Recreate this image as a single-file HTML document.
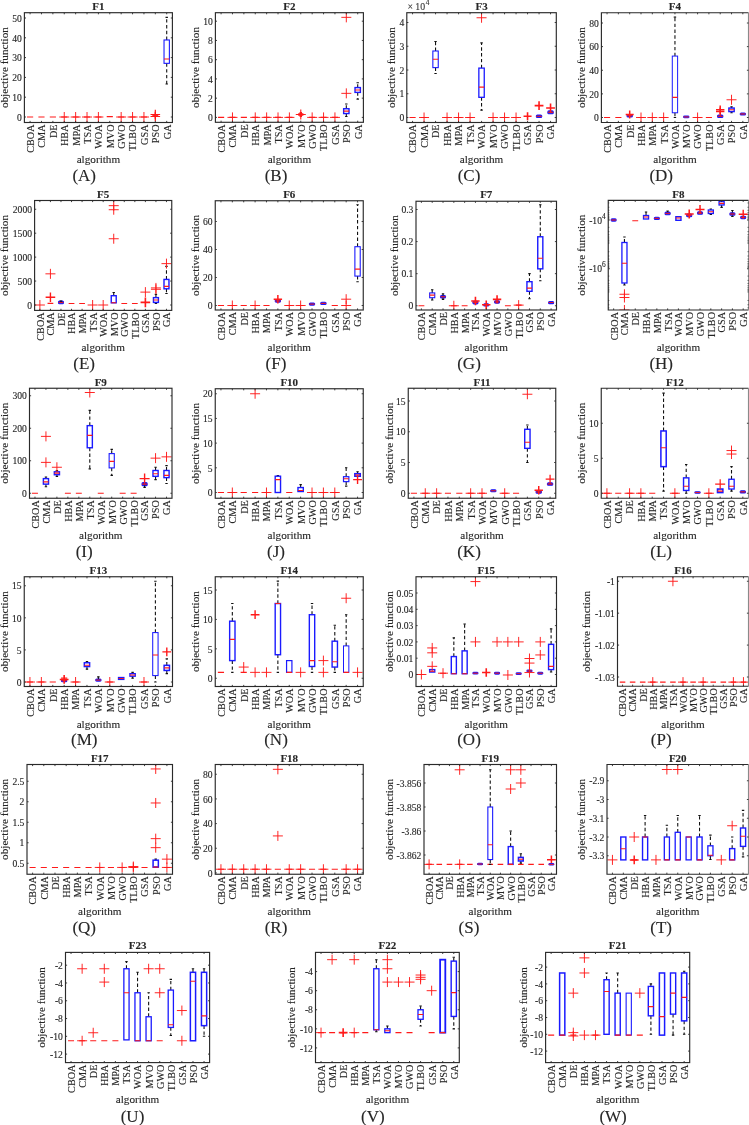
<!DOCTYPE html>
<html><head><meta charset="utf-8"><title>boxplots</title>
<style>
html,body{margin:0;padding:0;background:#fff;}
body{width:749px;height:1125px;overflow:hidden;}
svg{display:block;filter:blur(0.35px);}
text{font-family:"Liberation Serif",serif;fill:#262626;stroke:#262626;stroke-width:0.12px;}
</style></head><body>
<svg width="749" height="1125" viewBox="0 0 749 1125">
<rect width="749" height="1125" fill="#fff"/>
<clipPath id="c1"><rect x="24.4" y="12.7" width="148" height="109.8"/></clipPath>
<g class="dat" clip-path="url(#c1)">
<line x1="27.02" y1="117" x2="33.17" y2="117" stroke="#ff1a1a" stroke-width="1.1"/>
<line x1="38.4" y1="117" x2="44.55" y2="117" stroke="#ff1a1a" stroke-width="1.1"/>
<line x1="49.79" y1="117" x2="55.94" y2="117" stroke="#ff1a1a" stroke-width="1.1"/>
<line x1="61.17" y1="117" x2="67.32" y2="117" stroke="#ff1a1a" stroke-width="1.1"/>
<path d="M59.25 117H69.25M64.25 112V122" stroke="#ff1a1a" stroke-width="0.95" fill="none"/>
<line x1="72.56" y1="117" x2="78.71" y2="117" stroke="#ff1a1a" stroke-width="1.1"/>
<path d="M70.63 117H80.63M75.63 112V122" stroke="#ff1a1a" stroke-width="0.95" fill="none"/>
<line x1="83.94" y1="117" x2="90.09" y2="117" stroke="#ff1a1a" stroke-width="1.1"/>
<path d="M82.02 117H92.02M87.02 112V122" stroke="#ff1a1a" stroke-width="0.95" fill="none"/>
<line x1="95.32" y1="117" x2="101.48" y2="117" stroke="#ff1a1a" stroke-width="1.1"/>
<path d="M93.4 117H103.4M98.4 112V122" stroke="#ff1a1a" stroke-width="0.95" fill="none"/>
<line x1="106.71" y1="116.6" x2="112.86" y2="116.6" stroke="#ff1a1a" stroke-width="1.1"/>
<line x1="118.09" y1="117" x2="124.24" y2="117" stroke="#ff1a1a" stroke-width="1.1"/>
<path d="M116.17 117H126.17M121.17 112V122" stroke="#ff1a1a" stroke-width="0.95" fill="none"/>
<line x1="129.48" y1="117" x2="135.63" y2="117" stroke="#ff1a1a" stroke-width="1.1"/>
<path d="M127.55 117H137.55M132.55 112V122" stroke="#ff1a1a" stroke-width="0.95" fill="none"/>
<line x1="140.86" y1="117" x2="147.01" y2="117" stroke="#ff1a1a" stroke-width="1.1"/>
<path d="M138.94 117H148.94M143.94 112V122" stroke="#ff1a1a" stroke-width="0.95" fill="none"/>
<path d="M150.52 116.5H160.12M155.32 111.7V121.3" stroke="#ff1a1a" stroke-width="1.2" fill="none"/>
<path d="M150.52 114.51H160.12M155.32 109.71V119.31" stroke="#ff1a1a" stroke-width="1.2" fill="none"/>
<path d="M152.32 115.42H158.32M155.32 112.42V118.42" stroke="#ff1a1a" stroke-width="1.0" fill="none"/>
<line x1="166.71" y1="39.98" x2="166.71" y2="17.41" stroke="#111" stroke-width="1.1" stroke-dasharray="3.4 2.4"/>
<line x1="165.51" y1="17.41" x2="167.91" y2="17.41" stroke="#111" stroke-width="1.1"/>
<line x1="166.71" y1="63.34" x2="166.71" y2="83.93" stroke="#111" stroke-width="1.1" stroke-dasharray="3.4 2.4"/>
<line x1="165.51" y1="83.93" x2="167.91" y2="83.93" stroke="#111" stroke-width="1.1"/>
<rect x="164.03" y="39.98" width="5.35" height="23.36" stroke="#1a1aff" stroke-width="1.1" fill="none"/>
<line x1="164.03" y1="58.99" x2="169.38" y2="58.99" stroke="#ff1a1a" stroke-width="1.1"/>
</g>
<rect class="ax" x="24.4" y="12.7" width="148" height="109.8" fill="none" stroke="#2a2a2a" stroke-width="1.15"/>
<path class="ax" d="M30.09 122.5v-1.6M30.09 12.7v1.6M41.48 122.5v-1.6M41.48 12.7v1.6M52.86 122.5v-1.6M52.86 12.7v1.6M64.25 122.5v-1.6M64.25 12.7v1.6M75.63 122.5v-1.6M75.63 12.7v1.6M87.02 122.5v-1.6M87.02 12.7v1.6M98.4 122.5v-1.6M98.4 12.7v1.6M109.78 122.5v-1.6M109.78 12.7v1.6M121.17 122.5v-1.6M121.17 12.7v1.6M132.55 122.5v-1.6M132.55 12.7v1.6M143.94 122.5v-1.6M143.94 12.7v1.6M155.32 122.5v-1.6M155.32 12.7v1.6M166.71 122.5v-1.6M166.71 12.7v1.6M24.4 117h1.6M172.4 117h-1.6M24.4 97.2h1.6M172.4 97.2h-1.6M24.4 77.4h1.6M172.4 77.4h-1.6M24.4 57.6h1.6M172.4 57.6h-1.6M24.4 37.8h1.6M172.4 37.8h-1.6M24.4 18h1.6M172.4 18h-1.6" stroke="#2a2a2a" stroke-width="0.9"/>
<text class="yt" x="21.8" y="120.7" text-anchor="end" font-size="9.6">0</text>
<text class="yt" x="21.8" y="100.9" text-anchor="end" font-size="9.6">10</text>
<text class="yt" x="21.8" y="81.1" text-anchor="end" font-size="9.6">20</text>
<text class="yt" x="21.8" y="61.3" text-anchor="end" font-size="9.6">30</text>
<text class="yt" x="21.8" y="41.5" text-anchor="end" font-size="9.6">40</text>
<text class="yt" x="21.8" y="21.7" text-anchor="end" font-size="9.6">50</text>
<text class="xt" transform="translate(33.96,124.5) rotate(-90)" text-anchor="end" font-size="10.2">CBOA</text>
<text class="xt" transform="translate(45.35,124.5) rotate(-90)" text-anchor="end" font-size="10.2">CMA</text>
<text class="xt" transform="translate(56.73,124.5) rotate(-90)" text-anchor="end" font-size="10.2">DE</text>
<text class="xt" transform="translate(68.12,124.5) rotate(-90)" text-anchor="end" font-size="10.2">HBA</text>
<text class="xt" transform="translate(79.5,124.5) rotate(-90)" text-anchor="end" font-size="10.2">MPA</text>
<text class="xt" transform="translate(90.89,124.5) rotate(-90)" text-anchor="end" font-size="10.2">TSA</text>
<text class="xt" transform="translate(102.27,124.5) rotate(-90)" text-anchor="end" font-size="10.2">WOA</text>
<text class="xt" transform="translate(113.66,124.5) rotate(-90)" text-anchor="end" font-size="10.2">MVO</text>
<text class="xt" transform="translate(125.04,124.5) rotate(-90)" text-anchor="end" font-size="10.2">GWO</text>
<text class="xt" transform="translate(136.43,124.5) rotate(-90)" text-anchor="end" font-size="10.2">TLBO</text>
<text class="xt" transform="translate(147.81,124.5) rotate(-90)" text-anchor="end" font-size="10.2">GSA</text>
<text class="xt" transform="translate(159.2,124.5) rotate(-90)" text-anchor="end" font-size="10.2">PSO</text>
<text class="xt" transform="translate(170.58,124.5) rotate(-90)" text-anchor="end" font-size="10.2">GA</text>
<text class="ti" x="98.4" y="10.1" text-anchor="middle" font-size="11" font-weight="bold" fill="#111">F1</text>
<text class="yl" transform="translate(7.6,67.6) rotate(-90)" text-anchor="middle" font-size="11.4" textLength="81" lengthAdjust="spacingAndGlyphs">objective function</text>
<text class="al" x="98.4" y="163.3" text-anchor="middle" font-size="11.2">algorithm</text>
<text class="sl" x="84.2" y="180.6" text-anchor="middle" font-size="17">(A)</text>
<clipPath id="c2"><rect x="215.4" y="12.7" width="148" height="109.6"/></clipPath>
<g class="dat" clip-path="url(#c2)">
<line x1="218.02" y1="117.4" x2="224.17" y2="117.4" stroke="#ff1a1a" stroke-width="1.1"/>
<line x1="229.4" y1="117.4" x2="235.55" y2="117.4" stroke="#ff1a1a" stroke-width="1.1"/>
<path d="M227.48 117.4H237.48M232.48 112.4V122.4" stroke="#ff1a1a" stroke-width="0.95" fill="none"/>
<line x1="240.79" y1="117.4" x2="246.94" y2="117.4" stroke="#ff1a1a" stroke-width="1.1"/>
<line x1="252.17" y1="117.4" x2="258.32" y2="117.4" stroke="#ff1a1a" stroke-width="1.1"/>
<path d="M250.25 117.4H260.25M255.25 112.4V122.4" stroke="#ff1a1a" stroke-width="0.95" fill="none"/>
<line x1="263.56" y1="117.4" x2="269.71" y2="117.4" stroke="#ff1a1a" stroke-width="1.1"/>
<path d="M261.63 117.4H271.63M266.63 112.4V122.4" stroke="#ff1a1a" stroke-width="0.95" fill="none"/>
<line x1="274.94" y1="117.4" x2="281.09" y2="117.4" stroke="#ff1a1a" stroke-width="1.1"/>
<path d="M273.02 117.4H283.02M278.02 112.4V122.4" stroke="#ff1a1a" stroke-width="0.95" fill="none"/>
<line x1="286.32" y1="117.4" x2="292.48" y2="117.4" stroke="#ff1a1a" stroke-width="1.1"/>
<path d="M284.4 117.4H294.4M289.4 112.4V122.4" stroke="#ff1a1a" stroke-width="0.95" fill="none"/>
<path d="M295.78 114.51H305.78M300.78 109.51V119.51" stroke="#ff1a1a" stroke-width="1.1" fill="none"/>
<path d="M298.18 114.51H303.38M300.78 111.91V117.11" stroke="#ff1a1a" stroke-width="2.4" fill="none"/>
<line x1="309.09" y1="117.4" x2="315.24" y2="117.4" stroke="#ff1a1a" stroke-width="1.1"/>
<path d="M307.17 117.4H317.17M312.17 112.4V122.4" stroke="#ff1a1a" stroke-width="0.95" fill="none"/>
<line x1="320.48" y1="117.4" x2="326.63" y2="117.4" stroke="#ff1a1a" stroke-width="1.1"/>
<path d="M318.55 117.4H328.55M323.55 112.4V122.4" stroke="#ff1a1a" stroke-width="0.95" fill="none"/>
<line x1="331.86" y1="117.4" x2="338.01" y2="117.4" stroke="#ff1a1a" stroke-width="1.1"/>
<path d="M329.94 117.4H339.94M334.94 112.4V122.4" stroke="#ff1a1a" stroke-width="0.95" fill="none"/>
<line x1="346.32" y1="108.74" x2="346.32" y2="103.93" stroke="#111" stroke-width="1.1" stroke-dasharray="3.4 2.4"/>
<line x1="345.12" y1="103.93" x2="347.52" y2="103.93" stroke="#111" stroke-width="1.1"/>
<line x1="346.32" y1="113.55" x2="346.32" y2="116.44" stroke="#111" stroke-width="1.1" stroke-dasharray="3.4 2.4"/>
<line x1="345.12" y1="116.44" x2="347.52" y2="116.44" stroke="#111" stroke-width="1.1"/>
<rect x="343.65" y="108.74" width="5.35" height="4.81" stroke="#1a1aff" stroke-width="1.4" fill="none"/>
<line x1="343.65" y1="111.15" x2="349" y2="111.15" stroke="#ff1a1a" stroke-width="1.1"/>
<path d="M341.32 93.35H351.32M346.32 88.35V98.35" stroke="#ff1a1a" stroke-width="0.95" fill="none"/>
<path d="M341.32 17.35H351.32M346.32 12.35V22.35" stroke="#ff1a1a" stroke-width="0.95" fill="none"/>
<line x1="357.71" y1="87.58" x2="357.71" y2="82.77" stroke="#111" stroke-width="1.1" stroke-dasharray="3.4 2.4"/>
<line x1="356.51" y1="82.77" x2="358.91" y2="82.77" stroke="#111" stroke-width="1.1"/>
<line x1="357.71" y1="92.39" x2="357.71" y2="99.12" stroke="#111" stroke-width="1.1" stroke-dasharray="3.4 2.4"/>
<line x1="356.51" y1="99.12" x2="358.91" y2="99.12" stroke="#111" stroke-width="1.1"/>
<rect x="355.03" y="87.58" width="5.35" height="4.81" stroke="#1a1aff" stroke-width="1.4" fill="none"/>
<line x1="355.03" y1="89.98" x2="360.38" y2="89.98" stroke="#ff1a1a" stroke-width="1.1"/>
</g>
<rect class="ax" x="215.4" y="12.7" width="148" height="109.6" fill="none" stroke="#2a2a2a" stroke-width="1.15"/>
<path class="ax" d="M221.09 122.3v-1.6M221.09 12.7v1.6M232.48 122.3v-1.6M232.48 12.7v1.6M243.86 122.3v-1.6M243.86 12.7v1.6M255.25 122.3v-1.6M255.25 12.7v1.6M266.63 122.3v-1.6M266.63 12.7v1.6M278.02 122.3v-1.6M278.02 12.7v1.6M289.4 122.3v-1.6M289.4 12.7v1.6M300.78 122.3v-1.6M300.78 12.7v1.6M312.17 122.3v-1.6M312.17 12.7v1.6M323.55 122.3v-1.6M323.55 12.7v1.6M334.94 122.3v-1.6M334.94 12.7v1.6M346.32 122.3v-1.6M346.32 12.7v1.6M357.71 122.3v-1.6M357.71 12.7v1.6M215.4 117.4h1.6M363.4 117.4h-1.6M215.4 98.16h1.6M363.4 98.16h-1.6M215.4 78.92h1.6M363.4 78.92h-1.6M215.4 59.68h1.6M363.4 59.68h-1.6M215.4 40.44h1.6M363.4 40.44h-1.6M215.4 21.2h1.6M363.4 21.2h-1.6" stroke="#2a2a2a" stroke-width="0.9"/>
<text class="yt" x="212.8" y="121.1" text-anchor="end" font-size="9.6">0</text>
<text class="yt" x="212.8" y="101.86" text-anchor="end" font-size="9.6">2</text>
<text class="yt" x="212.8" y="82.62" text-anchor="end" font-size="9.6">4</text>
<text class="yt" x="212.8" y="63.38" text-anchor="end" font-size="9.6">6</text>
<text class="yt" x="212.8" y="44.14" text-anchor="end" font-size="9.6">8</text>
<text class="yt" x="212.8" y="24.9" text-anchor="end" font-size="9.6">10</text>
<text class="xt" transform="translate(224.96,124.3) rotate(-90)" text-anchor="end" font-size="10.2">CBOA</text>
<text class="xt" transform="translate(236.35,124.3) rotate(-90)" text-anchor="end" font-size="10.2">CMA</text>
<text class="xt" transform="translate(247.73,124.3) rotate(-90)" text-anchor="end" font-size="10.2">DE</text>
<text class="xt" transform="translate(259.12,124.3) rotate(-90)" text-anchor="end" font-size="10.2">HBA</text>
<text class="xt" transform="translate(270.5,124.3) rotate(-90)" text-anchor="end" font-size="10.2">MPA</text>
<text class="xt" transform="translate(281.89,124.3) rotate(-90)" text-anchor="end" font-size="10.2">TSA</text>
<text class="xt" transform="translate(293.27,124.3) rotate(-90)" text-anchor="end" font-size="10.2">WOA</text>
<text class="xt" transform="translate(304.66,124.3) rotate(-90)" text-anchor="end" font-size="10.2">MVO</text>
<text class="xt" transform="translate(316.04,124.3) rotate(-90)" text-anchor="end" font-size="10.2">GWO</text>
<text class="xt" transform="translate(327.43,124.3) rotate(-90)" text-anchor="end" font-size="10.2">TLBO</text>
<text class="xt" transform="translate(338.81,124.3) rotate(-90)" text-anchor="end" font-size="10.2">GSA</text>
<text class="xt" transform="translate(350.2,124.3) rotate(-90)" text-anchor="end" font-size="10.2">PSO</text>
<text class="xt" transform="translate(361.58,124.3) rotate(-90)" text-anchor="end" font-size="10.2">GA</text>
<text class="ti" x="289.4" y="10.1" text-anchor="middle" font-size="11" font-weight="bold" fill="#111">F2</text>
<text class="yl" transform="translate(199.2,67.5) rotate(-90)" text-anchor="middle" font-size="11.4" textLength="81" lengthAdjust="spacingAndGlyphs">objective function</text>
<text class="al" x="289.4" y="163.3" text-anchor="middle" font-size="11.2">algorithm</text>
<text class="sl" x="276" y="180.6" text-anchor="middle" font-size="17">(B)</text>
<clipPath id="c3"><rect x="406.8" y="12.7" width="149.5" height="109.8"/></clipPath>
<g class="dat" clip-path="url(#c3)">
<line x1="409.45" y1="117.5" x2="415.65" y2="117.5" stroke="#ff1a1a" stroke-width="1.1"/>
<line x1="420.95" y1="117.5" x2="427.15" y2="117.5" stroke="#ff1a1a" stroke-width="1.1"/>
<path d="M419.05 117.5H429.05M424.05 112.5V122.5" stroke="#ff1a1a" stroke-width="0.95" fill="none"/>
<line x1="435.55" y1="51" x2="435.55" y2="41.5" stroke="#111" stroke-width="1.1" stroke-dasharray="3.4 2.4"/>
<line x1="434.35" y1="41.5" x2="436.75" y2="41.5" stroke="#111" stroke-width="1.1"/>
<line x1="435.55" y1="67.62" x2="435.55" y2="73.56" stroke="#111" stroke-width="1.1" stroke-dasharray="3.4 2.4"/>
<line x1="434.35" y1="73.56" x2="436.75" y2="73.56" stroke="#111" stroke-width="1.1"/>
<rect x="432.85" y="51" width="5.4" height="16.62" stroke="#1a1aff" stroke-width="1.1" fill="none"/>
<line x1="432.85" y1="59.31" x2="438.25" y2="59.31" stroke="#ff1a1a" stroke-width="1.1"/>
<line x1="443.95" y1="117.5" x2="450.15" y2="117.5" stroke="#ff1a1a" stroke-width="1.1"/>
<path d="M442.05 117.5H452.05M447.05 112.5V122.5" stroke="#ff1a1a" stroke-width="0.95" fill="none"/>
<line x1="455.45" y1="117.5" x2="461.65" y2="117.5" stroke="#ff1a1a" stroke-width="1.1"/>
<path d="M453.55 117.5H463.55M458.55 112.5V122.5" stroke="#ff1a1a" stroke-width="0.95" fill="none"/>
<line x1="466.95" y1="117.5" x2="473.15" y2="117.5" stroke="#ff1a1a" stroke-width="1.1"/>
<path d="M465.05 117.5H475.05M470.05 112.5V122.5" stroke="#ff1a1a" stroke-width="0.95" fill="none"/>
<line x1="481.55" y1="68.1" x2="481.55" y2="42.92" stroke="#111" stroke-width="1.1" stroke-dasharray="3.4 2.4"/>
<line x1="480.35" y1="42.92" x2="482.75" y2="42.92" stroke="#111" stroke-width="1.1"/>
<line x1="481.55" y1="97.31" x2="481.55" y2="110.14" stroke="#111" stroke-width="1.1" stroke-dasharray="3.4 2.4"/>
<line x1="480.35" y1="110.14" x2="482.75" y2="110.14" stroke="#111" stroke-width="1.1"/>
<rect x="478.85" y="68.1" width="5.4" height="29.21" stroke="#1a1aff" stroke-width="1.3" fill="none"/>
<line x1="478.85" y1="87.1" x2="484.25" y2="87.1" stroke="#ff1a1a" stroke-width="1.1"/>
<path d="M476.55 17.75H486.55M481.55 12.75V22.75" stroke="#ff1a1a" stroke-width="0.95" fill="none"/>
<line x1="489.95" y1="117.5" x2="496.15" y2="117.5" stroke="#ff1a1a" stroke-width="1.1"/>
<path d="M488.05 117.5H498.05M493.05 112.5V122.5" stroke="#ff1a1a" stroke-width="0.95" fill="none"/>
<line x1="501.45" y1="117.5" x2="507.65" y2="117.5" stroke="#ff1a1a" stroke-width="1.1"/>
<path d="M499.55 117.5H509.55M504.55 112.5V122.5" stroke="#ff1a1a" stroke-width="0.95" fill="none"/>
<line x1="512.95" y1="117.5" x2="519.15" y2="117.5" stroke="#ff1a1a" stroke-width="1.1"/>
<path d="M511.05 117.5H521.05M516.05 112.5V122.5" stroke="#ff1a1a" stroke-width="0.95" fill="none"/>
<path d="M523.55 116.31H531.55M527.55 112.31V120.31" stroke="#ff1a1a" stroke-width="1.6" fill="none"/>
<rect x="536.35" y="115.11" width="5.4" height="2.4" rx="1" stroke="#1a1aff" stroke-width="1.1" fill="#5a1a8a"/>
<line x1="536.35" y1="116.31" x2="541.75" y2="116.31" stroke="#ff1a1a" stroke-width="0.9"/>
<path d="M534.65 105.62H543.45M539.05 101.22V110.03" stroke="#ff1a1a" stroke-width="1.6" fill="none"/>
<rect x="547.85" y="110.88" width="5.4" height="2.8" rx="1" stroke="#1a1aff" stroke-width="1.1" fill="#5a1a8a"/>
<line x1="547.85" y1="112.28" x2="553.25" y2="112.28" stroke="#ff1a1a" stroke-width="0.9"/>
<path d="M546.15 108H554.95M550.55 103.6V112.4" stroke="#ff1a1a" stroke-width="1.6" fill="none"/>
</g>
<rect class="ax" x="406.8" y="12.7" width="149.5" height="109.8" fill="none" stroke="#2a2a2a" stroke-width="1.15"/>
<path class="ax" d="M412.55 122.5v-1.6M412.55 12.7v1.6M424.05 122.5v-1.6M424.05 12.7v1.6M435.55 122.5v-1.6M435.55 12.7v1.6M447.05 122.5v-1.6M447.05 12.7v1.6M458.55 122.5v-1.6M458.55 12.7v1.6M470.05 122.5v-1.6M470.05 12.7v1.6M481.55 122.5v-1.6M481.55 12.7v1.6M493.05 122.5v-1.6M493.05 12.7v1.6M504.55 122.5v-1.6M504.55 12.7v1.6M516.05 122.5v-1.6M516.05 12.7v1.6M527.55 122.5v-1.6M527.55 12.7v1.6M539.05 122.5v-1.6M539.05 12.7v1.6M550.55 122.5v-1.6M550.55 12.7v1.6M406.8 117.5h1.6M556.3 117.5h-1.6M406.8 93.75h1.6M556.3 93.75h-1.6M406.8 70h1.6M556.3 70h-1.6M406.8 46.25h1.6M556.3 46.25h-1.6M406.8 22.5h1.6M556.3 22.5h-1.6" stroke="#2a2a2a" stroke-width="0.9"/>
<text class="yt" x="404.2" y="121.2" text-anchor="end" font-size="9.6">0</text>
<text class="yt" x="404.2" y="97.45" text-anchor="end" font-size="9.6">1</text>
<text class="yt" x="404.2" y="73.7" text-anchor="end" font-size="9.6">2</text>
<text class="yt" x="404.2" y="49.95" text-anchor="end" font-size="9.6">3</text>
<text class="yt" x="404.2" y="26.2" text-anchor="end" font-size="9.6">4</text>
<text class="xt" transform="translate(416.42,124.5) rotate(-90)" text-anchor="end" font-size="10.2">CBOA</text>
<text class="xt" transform="translate(427.92,124.5) rotate(-90)" text-anchor="end" font-size="10.2">CMA</text>
<text class="xt" transform="translate(439.42,124.5) rotate(-90)" text-anchor="end" font-size="10.2">DE</text>
<text class="xt" transform="translate(450.92,124.5) rotate(-90)" text-anchor="end" font-size="10.2">HBA</text>
<text class="xt" transform="translate(462.42,124.5) rotate(-90)" text-anchor="end" font-size="10.2">MPA</text>
<text class="xt" transform="translate(473.92,124.5) rotate(-90)" text-anchor="end" font-size="10.2">TSA</text>
<text class="xt" transform="translate(485.42,124.5) rotate(-90)" text-anchor="end" font-size="10.2">WOA</text>
<text class="xt" transform="translate(496.92,124.5) rotate(-90)" text-anchor="end" font-size="10.2">MVO</text>
<text class="xt" transform="translate(508.42,124.5) rotate(-90)" text-anchor="end" font-size="10.2">GWO</text>
<text class="xt" transform="translate(519.92,124.5) rotate(-90)" text-anchor="end" font-size="10.2">TLBO</text>
<text class="xt" transform="translate(531.42,124.5) rotate(-90)" text-anchor="end" font-size="10.2">GSA</text>
<text class="xt" transform="translate(542.92,124.5) rotate(-90)" text-anchor="end" font-size="10.2">PSO</text>
<text class="xt" transform="translate(554.42,124.5) rotate(-90)" text-anchor="end" font-size="10.2">GA</text>
<text class="ti" x="481.55" y="10.1" text-anchor="middle" font-size="11" font-weight="bold" fill="#111">F3</text>
<text class="yl" transform="translate(395.4,67.6) rotate(-90)" text-anchor="middle" font-size="11.4" textLength="81" lengthAdjust="spacingAndGlyphs">objective function</text>
<text class="al" x="481.55" y="163.3" text-anchor="middle" font-size="11.2">algorithm</text>
<text class="sl" x="469" y="180.6" text-anchor="middle" font-size="17">(C)</text>
<text x="407.6" y="10.2" font-size="9.8" style="fill:#3a3a3a;stroke:#3a3a3a">&#215;<tspan dx="2.2">10</tspan><tspan dx="0.6" dy="-5.4" font-size="7.4">4</tspan></text>
<clipPath id="c4"><rect x="601.4" y="12.7" width="147.1" height="109.8"/></clipPath>
<g class="dat" clip-path="url(#c4)">
<line x1="604" y1="117.5" x2="610.12" y2="117.5" stroke="#ff1a1a" stroke-width="1.1"/>
<line x1="615.31" y1="117.5" x2="621.43" y2="117.5" stroke="#ff1a1a" stroke-width="1.1"/>
<rect x="627.03" y="114.53" width="5.32" height="2.4" rx="1" stroke="#1a1aff" stroke-width="1.1" fill="#5a1a8a"/>
<line x1="627.03" y1="115.73" x2="632.35" y2="115.73" stroke="#ff1a1a" stroke-width="0.9"/>
<path d="M625.69 114.55H633.69M629.69 110.55V118.55" stroke="#ff1a1a" stroke-width="1.5" fill="none"/>
<line x1="637.94" y1="117.5" x2="644.06" y2="117.5" stroke="#ff1a1a" stroke-width="1.1"/>
<path d="M636 117.5H646M641 112.5V122.5" stroke="#ff1a1a" stroke-width="0.95" fill="none"/>
<line x1="649.26" y1="117.5" x2="655.38" y2="117.5" stroke="#ff1a1a" stroke-width="1.1"/>
<path d="M647.32 117.5H657.32M652.32 112.5V122.5" stroke="#ff1a1a" stroke-width="0.95" fill="none"/>
<line x1="660.58" y1="117.5" x2="666.69" y2="117.5" stroke="#ff1a1a" stroke-width="1.1"/>
<path d="M658.63 117.5H668.63M663.63 112.5V122.5" stroke="#ff1a1a" stroke-width="0.95" fill="none"/>
<line x1="674.95" y1="56.08" x2="674.95" y2="17.09" stroke="#111" stroke-width="1.1" stroke-dasharray="3.4 2.4"/>
<line x1="673.75" y1="17.09" x2="676.15" y2="17.09" stroke="#111" stroke-width="1.1"/>
<line x1="674.95" y1="112.78" x2="674.95" y2="117.5" stroke="#111" stroke-width="1.1" stroke-dasharray="3.4 2.4"/>
<line x1="673.75" y1="117.5" x2="676.15" y2="117.5" stroke="#111" stroke-width="1.1"/>
<rect x="672.29" y="56.08" width="5.32" height="56.7" stroke="#1a1aff" stroke-width="1.0" fill="none"/>
<line x1="672.29" y1="97.42" x2="677.61" y2="97.42" stroke="#ff1a1a" stroke-width="1.1"/>
<rect x="683.61" y="116.11" width="5.32" height="1.6" rx="1" stroke="#1a1aff" stroke-width="1.1" fill="#5a1a8a"/>
<line x1="683.61" y1="116.91" x2="688.92" y2="116.91" stroke="#ff1a1a" stroke-width="0.9"/>
<line x1="694.52" y1="117.5" x2="700.64" y2="117.5" stroke="#ff1a1a" stroke-width="1.1"/>
<path d="M692.58 117.5H702.58M697.58 112.5V122.5" stroke="#ff1a1a" stroke-width="0.95" fill="none"/>
<line x1="705.84" y1="117.5" x2="711.96" y2="117.5" stroke="#ff1a1a" stroke-width="1.1"/>
<rect x="717.55" y="115.12" width="5.32" height="2.4" rx="1" stroke="#1a1aff" stroke-width="1.1" fill="#5a1a8a"/>
<line x1="717.55" y1="116.32" x2="722.87" y2="116.32" stroke="#ff1a1a" stroke-width="0.9"/>
<path d="M716.01 111.59H724.41M720.21 107.39V115.79" stroke="#ff1a1a" stroke-width="1.5" fill="none"/>
<path d="M716.01 109.82H724.41M720.21 105.62V114.02" stroke="#ff1a1a" stroke-width="1.5" fill="none"/>
<line x1="731.53" y1="108.05" x2="731.53" y2="106.87" stroke="#111" stroke-width="1.1" stroke-dasharray="3.4 2.4"/>
<line x1="730.33" y1="106.87" x2="732.73" y2="106.87" stroke="#111" stroke-width="1.1"/>
<line x1="731.53" y1="111.59" x2="731.53" y2="112.78" stroke="#111" stroke-width="1.1" stroke-dasharray="3.4 2.4"/>
<line x1="730.33" y1="112.78" x2="732.73" y2="112.78" stroke="#111" stroke-width="1.1"/>
<rect x="728.87" y="108.05" width="5.32" height="3.54" stroke="#1a1aff" stroke-width="1.4" fill="none"/>
<line x1="728.87" y1="109.82" x2="734.19" y2="109.82" stroke="#ff1a1a" stroke-width="1.1"/>
<path d="M726.53 99.78H736.53M731.53 94.78V104.78" stroke="#ff1a1a" stroke-width="0.95" fill="none"/>
<rect x="740.18" y="112.96" width="5.32" height="2" rx="1" stroke="#1a1aff" stroke-width="1.1" fill="#5a1a8a"/>
<line x1="740.18" y1="113.96" x2="745.5" y2="113.96" stroke="#ff1a1a" stroke-width="0.9"/>
</g>
<path class="ax" d="M748.5 12.7H601.4V122.5H748.5" fill="none" stroke="#2a2a2a" stroke-width="1.15"/>
<path class="ax" d="M748.5 12.7V122.5" fill="none" stroke="#8a8a8a" stroke-width="1.15"/>
<path class="ax" d="M607.06 122.5v-1.6M607.06 12.7v1.6M618.37 122.5v-1.6M618.37 12.7v1.6M629.69 122.5v-1.6M629.69 12.7v1.6M641 122.5v-1.6M641 12.7v1.6M652.32 122.5v-1.6M652.32 12.7v1.6M663.63 122.5v-1.6M663.63 12.7v1.6M674.95 122.5v-1.6M674.95 12.7v1.6M686.27 122.5v-1.6M686.27 12.7v1.6M697.58 122.5v-1.6M697.58 12.7v1.6M708.9 122.5v-1.6M708.9 12.7v1.6M720.21 122.5v-1.6M720.21 12.7v1.6M731.53 122.5v-1.6M731.53 12.7v1.6M742.84 122.5v-1.6M742.84 12.7v1.6M601.4 117.5h1.6M748.5 117.5h-1.6M601.4 93.88h1.6M748.5 93.88h-1.6M601.4 70.25h1.6M748.5 70.25h-1.6M601.4 46.62h1.6M748.5 46.62h-1.6M601.4 23h1.6M748.5 23h-1.6" stroke="#2a2a2a" stroke-width="0.9"/>
<text class="yt" x="598.8" y="121.2" text-anchor="end" font-size="9.6">0</text>
<text class="yt" x="598.8" y="97.58" text-anchor="end" font-size="9.6">20</text>
<text class="yt" x="598.8" y="73.95" text-anchor="end" font-size="9.6">40</text>
<text class="yt" x="598.8" y="50.33" text-anchor="end" font-size="9.6">60</text>
<text class="yt" x="598.8" y="26.7" text-anchor="end" font-size="9.6">80</text>
<text class="xt" transform="translate(610.93,124.5) rotate(-90)" text-anchor="end" font-size="10.2">CBOA</text>
<text class="xt" transform="translate(622.25,124.5) rotate(-90)" text-anchor="end" font-size="10.2">CMA</text>
<text class="xt" transform="translate(633.56,124.5) rotate(-90)" text-anchor="end" font-size="10.2">DE</text>
<text class="xt" transform="translate(644.88,124.5) rotate(-90)" text-anchor="end" font-size="10.2">HBA</text>
<text class="xt" transform="translate(656.19,124.5) rotate(-90)" text-anchor="end" font-size="10.2">MPA</text>
<text class="xt" transform="translate(667.51,124.5) rotate(-90)" text-anchor="end" font-size="10.2">TSA</text>
<text class="xt" transform="translate(678.82,124.5) rotate(-90)" text-anchor="end" font-size="10.2">WOA</text>
<text class="xt" transform="translate(690.14,124.5) rotate(-90)" text-anchor="end" font-size="10.2">MVO</text>
<text class="xt" transform="translate(701.45,124.5) rotate(-90)" text-anchor="end" font-size="10.2">GWO</text>
<text class="xt" transform="translate(712.77,124.5) rotate(-90)" text-anchor="end" font-size="10.2">TLBO</text>
<text class="xt" transform="translate(724.08,124.5) rotate(-90)" text-anchor="end" font-size="10.2">GSA</text>
<text class="xt" transform="translate(735.4,124.5) rotate(-90)" text-anchor="end" font-size="10.2">PSO</text>
<text class="xt" transform="translate(746.71,124.5) rotate(-90)" text-anchor="end" font-size="10.2">GA</text>
<text class="ti" x="674.95" y="10.1" text-anchor="middle" font-size="11" font-weight="bold" fill="#111">F4</text>
<text class="yl" transform="translate(584.5,67.6) rotate(-90)" text-anchor="middle" font-size="11.4" textLength="81" lengthAdjust="spacingAndGlyphs">objective function</text>
<text class="al" x="674.95" y="163.3" text-anchor="middle" font-size="11.2">algorithm</text>
<text class="sl" x="661.2" y="180.6" text-anchor="middle" font-size="17">(D)</text>
<clipPath id="c5"><rect x="34.6" y="200.5" width="137.15" height="109.9"/></clipPath>
<g class="dat" clip-path="url(#c5)">
<path d="M34.88 305H44.88M39.88 300V310" stroke="#ff1a1a" stroke-width="0.95" fill="none"/>
<path d="M45.43 273.83H55.43M50.43 268.83V278.83" stroke="#ff1a1a" stroke-width="0.95" fill="none"/>
<path d="M45.63 297.2H55.23M50.43 292.4V302" stroke="#ff1a1a" stroke-width="1.4" fill="none"/>
<line x1="47.55" y1="303.42" x2="53.3" y2="303.42" stroke="#ff1a1a" stroke-width="1.1"/>
<rect x="58.5" y="301.11" width="4.96" height="2.6" rx="1" stroke="#1a1aff" stroke-width="1.1" fill="#5a1a8a"/>
<line x1="58.5" y1="302.41" x2="63.45" y2="302.41" stroke="#ff1a1a" stroke-width="0.9"/>
<line x1="60.98" y1="302.03" x2="60.98" y2="300.93" stroke="#111" stroke-width="1.1" stroke-dasharray="3.4 2.4"/>
<line x1="59.77" y1="300.93" x2="62.18" y2="300.93" stroke="#111" stroke-width="1.1"/>
<line x1="68.65" y1="303.56" x2="74.4" y2="303.56" stroke="#ff1a1a" stroke-width="1.1"/>
<line x1="79.2" y1="303.56" x2="84.95" y2="303.56" stroke="#ff1a1a" stroke-width="1.1"/>
<path d="M87.62 305H97.62M92.62 300V310" stroke="#ff1a1a" stroke-width="0.95" fill="none"/>
<path d="M98.18 305H108.18M103.18 300V310" stroke="#ff1a1a" stroke-width="0.95" fill="none"/>
<line x1="113.72" y1="295.71" x2="113.72" y2="292.5" stroke="#111" stroke-width="1.1" stroke-dasharray="3.4 2.4"/>
<line x1="112.52" y1="292.5" x2="114.92" y2="292.5" stroke="#111" stroke-width="1.1"/>
<rect x="111.25" y="295.71" width="4.96" height="7.09" stroke="#1a1aff" stroke-width="1.4" fill="none"/>
<line x1="111.25" y1="302.7" x2="116.2" y2="302.7" stroke="#ff1a1a" stroke-width="1.1"/>
<path d="M108.72 238.74H118.72M113.72 233.74V243.74" stroke="#ff1a1a" stroke-width="0.95" fill="none"/>
<path d="M108.72 209.73H118.72M113.72 204.73V214.73" stroke="#ff1a1a" stroke-width="0.95" fill="none"/>
<path d="M108.72 205.66H118.72M113.72 200.66V210.66" stroke="#ff1a1a" stroke-width="0.95" fill="none"/>
<line x1="121.4" y1="303.56" x2="127.15" y2="303.56" stroke="#ff1a1a" stroke-width="1.1"/>
<line x1="131.95" y1="303.56" x2="137.7" y2="303.56" stroke="#ff1a1a" stroke-width="1.1"/>
<path d="M140.57 302.41H150.18M145.38 297.61V307.21" stroke="#ff1a1a" stroke-width="1.6" fill="none"/>
<path d="M140.38 292.12H150.38M145.38 287.12V297.12" stroke="#ff1a1a" stroke-width="0.95" fill="none"/>
<line x1="155.93" y1="297.63" x2="155.93" y2="294.42" stroke="#111" stroke-width="1.1" stroke-dasharray="3.4 2.4"/>
<line x1="154.73" y1="294.42" x2="157.12" y2="294.42" stroke="#111" stroke-width="1.1"/>
<line x1="155.93" y1="302.41" x2="155.93" y2="303.56" stroke="#111" stroke-width="1.1" stroke-dasharray="3.4 2.4"/>
<line x1="154.73" y1="303.56" x2="157.12" y2="303.56" stroke="#111" stroke-width="1.1"/>
<rect x="153.45" y="297.63" width="4.96" height="4.79" stroke="#1a1aff" stroke-width="1.4" fill="none"/>
<line x1="153.45" y1="300.02" x2="158.4" y2="300.02" stroke="#ff1a1a" stroke-width="1.1"/>
<path d="M150.93 289.3H160.93M155.93 284.3V294.3" stroke="#ff1a1a" stroke-width="0.95" fill="none"/>
<path d="M150.93 287.91H160.93M155.93 282.91V292.91" stroke="#ff1a1a" stroke-width="0.95" fill="none"/>
<line x1="166.47" y1="279.43" x2="166.47" y2="266.41" stroke="#111" stroke-width="1.1" stroke-dasharray="3.4 2.4"/>
<line x1="165.28" y1="266.41" x2="167.67" y2="266.41" stroke="#111" stroke-width="1.1"/>
<line x1="166.47" y1="288.82" x2="166.47" y2="293.51" stroke="#111" stroke-width="1.1" stroke-dasharray="3.4 2.4"/>
<line x1="165.28" y1="293.51" x2="167.67" y2="293.51" stroke="#111" stroke-width="1.1"/>
<rect x="164" y="279.43" width="4.96" height="9.38" stroke="#1a1aff" stroke-width="1.4" fill="none"/>
<line x1="164" y1="286.42" x2="168.95" y2="286.42" stroke="#ff1a1a" stroke-width="1.1"/>
<path d="M161.47 263.64H171.47M166.47 258.64V268.64" stroke="#ff1a1a" stroke-width="0.95" fill="none"/>
</g>
<rect class="ax" x="34.6" y="200.5" width="137.15" height="109.9" fill="none" stroke="#2a2a2a" stroke-width="1.15"/>
<path class="ax" d="M39.88 310.4v-1.6M39.88 200.5v1.6M50.43 310.4v-1.6M50.43 200.5v1.6M60.98 310.4v-1.6M60.98 200.5v1.6M71.53 310.4v-1.6M71.53 200.5v1.6M82.08 310.4v-1.6M82.08 200.5v1.6M92.62 310.4v-1.6M92.62 200.5v1.6M103.18 310.4v-1.6M103.18 200.5v1.6M113.72 310.4v-1.6M113.72 200.5v1.6M124.28 310.4v-1.6M124.28 200.5v1.6M134.83 310.4v-1.6M134.83 200.5v1.6M145.38 310.4v-1.6M145.38 200.5v1.6M155.93 310.4v-1.6M155.93 200.5v1.6M166.47 310.4v-1.6M166.47 200.5v1.6M34.6 305h1.6M171.75 305h-1.6M34.6 281.06h1.6M171.75 281.06h-1.6M34.6 257.12h1.6M171.75 257.12h-1.6M34.6 233.19h1.6M171.75 233.19h-1.6M34.6 209.25h1.6M171.75 209.25h-1.6" stroke="#2a2a2a" stroke-width="0.9"/>
<text class="yt" x="32" y="308.7" text-anchor="end" font-size="9.6">0</text>
<text class="yt" x="32" y="284.76" text-anchor="end" font-size="9.6">500</text>
<text class="yt" x="32" y="260.82" text-anchor="end" font-size="9.6">1000</text>
<text class="yt" x="32" y="236.89" text-anchor="end" font-size="9.6">1500</text>
<text class="yt" x="32" y="212.95" text-anchor="end" font-size="9.6">2000</text>
<text class="xt" transform="translate(43.75,312.4) rotate(-90)" text-anchor="end" font-size="10.2">CBOA</text>
<text class="xt" transform="translate(54.3,312.4) rotate(-90)" text-anchor="end" font-size="10.2">CMA</text>
<text class="xt" transform="translate(64.85,312.4) rotate(-90)" text-anchor="end" font-size="10.2">DE</text>
<text class="xt" transform="translate(75.4,312.4) rotate(-90)" text-anchor="end" font-size="10.2">HBA</text>
<text class="xt" transform="translate(85.95,312.4) rotate(-90)" text-anchor="end" font-size="10.2">MPA</text>
<text class="xt" transform="translate(96.5,312.4) rotate(-90)" text-anchor="end" font-size="10.2">TSA</text>
<text class="xt" transform="translate(107.05,312.4) rotate(-90)" text-anchor="end" font-size="10.2">WOA</text>
<text class="xt" transform="translate(117.6,312.4) rotate(-90)" text-anchor="end" font-size="10.2">MVO</text>
<text class="xt" transform="translate(128.15,312.4) rotate(-90)" text-anchor="end" font-size="10.2">GWO</text>
<text class="xt" transform="translate(138.7,312.4) rotate(-90)" text-anchor="end" font-size="10.2">TLBO</text>
<text class="xt" transform="translate(149.25,312.4) rotate(-90)" text-anchor="end" font-size="10.2">GSA</text>
<text class="xt" transform="translate(159.8,312.4) rotate(-90)" text-anchor="end" font-size="10.2">PSO</text>
<text class="xt" transform="translate(170.35,312.4) rotate(-90)" text-anchor="end" font-size="10.2">GA</text>
<text class="ti" x="103.17" y="197.6" text-anchor="middle" font-size="11" font-weight="bold" fill="#111">F5</text>
<text class="yl" transform="translate(7.85,255.45) rotate(-90)" text-anchor="middle" font-size="11.4" textLength="81" lengthAdjust="spacingAndGlyphs">objective function</text>
<text class="al" x="103.17" y="351.3" text-anchor="middle" font-size="11.2">algorithm</text>
<text class="sl" x="84.2" y="368.8" text-anchor="middle" font-size="17">(E)</text>
<clipPath id="c6"><rect x="215.25" y="200.75" width="148" height="109.25"/></clipPath>
<g class="dat" clip-path="url(#c6)">
<line x1="217.87" y1="305.5" x2="224.02" y2="305.5" stroke="#ff1a1a" stroke-width="1.1"/>
<line x1="229.25" y1="305.5" x2="235.4" y2="305.5" stroke="#ff1a1a" stroke-width="1.1"/>
<path d="M227.33 305.5H237.33M232.33 300.5V310.5" stroke="#ff1a1a" stroke-width="0.95" fill="none"/>
<line x1="240.64" y1="305.5" x2="246.79" y2="305.5" stroke="#ff1a1a" stroke-width="1.1"/>
<line x1="252.02" y1="305.5" x2="258.17" y2="305.5" stroke="#ff1a1a" stroke-width="1.1"/>
<path d="M250.1 305.5H260.1M255.1 300.5V310.5" stroke="#ff1a1a" stroke-width="0.95" fill="none"/>
<line x1="263.41" y1="305.5" x2="269.56" y2="305.5" stroke="#ff1a1a" stroke-width="1.1"/>
<rect x="275.19" y="299.92" width="5.35" height="2.2" rx="1" stroke="#1a1aff" stroke-width="1.1" fill="#5a1a8a"/>
<line x1="275.19" y1="301.02" x2="280.54" y2="301.02" stroke="#ff1a1a" stroke-width="0.9"/>
<path d="M273.67 299.2H282.07M277.87 295V303.4" stroke="#ff1a1a" stroke-width="1.5" fill="none"/>
<line x1="286.17" y1="305.5" x2="292.33" y2="305.5" stroke="#ff1a1a" stroke-width="1.1"/>
<path d="M284.25 305.5H294.25M289.25 300.5V310.5" stroke="#ff1a1a" stroke-width="0.95" fill="none"/>
<line x1="297.56" y1="305.5" x2="303.71" y2="305.5" stroke="#ff1a1a" stroke-width="1.1"/>
<path d="M295.63 305.5H305.63M300.63 300.5V310.5" stroke="#ff1a1a" stroke-width="0.95" fill="none"/>
<rect x="309.34" y="303.1" width="5.35" height="2" rx="1" stroke="#1a1aff" stroke-width="1.1" fill="#5a1a8a"/>
<line x1="309.34" y1="304.1" x2="314.69" y2="304.1" stroke="#ff1a1a" stroke-width="0.9"/>
<rect x="320.73" y="302.3" width="5.35" height="2.2" rx="1" stroke="#1a1aff" stroke-width="1.1" fill="#5a1a8a"/>
<line x1="320.73" y1="303.4" x2="326.08" y2="303.4" stroke="#ff1a1a" stroke-width="0.9"/>
<line x1="331.71" y1="305.5" x2="337.86" y2="305.5" stroke="#ff1a1a" stroke-width="1.1"/>
<path d="M341.17 305.5H351.17M346.17 300.5V310.5" stroke="#ff1a1a" stroke-width="0.95" fill="none"/>
<path d="M341.17 299.2H351.17M346.17 294.2V304.2" stroke="#ff1a1a" stroke-width="0.95" fill="none"/>
<line x1="357.56" y1="246.7" x2="357.56" y2="204.7" stroke="#111" stroke-width="1.1" stroke-dasharray="3.4 2.4"/>
<line x1="356.36" y1="204.7" x2="358.76" y2="204.7" stroke="#111" stroke-width="1.1"/>
<line x1="357.56" y1="276.1" x2="357.56" y2="281.7" stroke="#111" stroke-width="1.1" stroke-dasharray="3.4 2.4"/>
<line x1="356.36" y1="281.7" x2="358.76" y2="281.7" stroke="#111" stroke-width="1.1"/>
<rect x="354.88" y="246.7" width="5.35" height="29.4" stroke="#1a1aff" stroke-width="1.1" fill="none"/>
<line x1="354.88" y1="269.1" x2="360.23" y2="269.1" stroke="#ff1a1a" stroke-width="1.1"/>
</g>
<rect class="ax" x="215.25" y="200.75" width="148" height="109.25" fill="none" stroke="#2a2a2a" stroke-width="1.15"/>
<path class="ax" d="M220.94 310v-1.6M220.94 200.75v1.6M232.33 310v-1.6M232.33 200.75v1.6M243.71 310v-1.6M243.71 200.75v1.6M255.1 310v-1.6M255.1 200.75v1.6M266.48 310v-1.6M266.48 200.75v1.6M277.87 310v-1.6M277.87 200.75v1.6M289.25 310v-1.6M289.25 200.75v1.6M300.63 310v-1.6M300.63 200.75v1.6M312.02 310v-1.6M312.02 200.75v1.6M323.4 310v-1.6M323.4 200.75v1.6M334.79 310v-1.6M334.79 200.75v1.6M346.17 310v-1.6M346.17 200.75v1.6M357.56 310v-1.6M357.56 200.75v1.6M215.25 305.5h1.6M363.25 305.5h-1.6M215.25 277.5h1.6M363.25 277.5h-1.6M215.25 249.5h1.6M363.25 249.5h-1.6M215.25 221.5h1.6M363.25 221.5h-1.6" stroke="#2a2a2a" stroke-width="0.9"/>
<text class="yt" x="212.65" y="309.2" text-anchor="end" font-size="9.6">0</text>
<text class="yt" x="212.65" y="281.2" text-anchor="end" font-size="9.6">20</text>
<text class="yt" x="212.65" y="253.2" text-anchor="end" font-size="9.6">40</text>
<text class="yt" x="212.65" y="225.2" text-anchor="end" font-size="9.6">60</text>
<text class="xt" transform="translate(224.81,312) rotate(-90)" text-anchor="end" font-size="10.2">CBOA</text>
<text class="xt" transform="translate(236.2,312) rotate(-90)" text-anchor="end" font-size="10.2">CMA</text>
<text class="xt" transform="translate(247.58,312) rotate(-90)" text-anchor="end" font-size="10.2">DE</text>
<text class="xt" transform="translate(258.97,312) rotate(-90)" text-anchor="end" font-size="10.2">HBA</text>
<text class="xt" transform="translate(270.35,312) rotate(-90)" text-anchor="end" font-size="10.2">MPA</text>
<text class="xt" transform="translate(281.74,312) rotate(-90)" text-anchor="end" font-size="10.2">TSA</text>
<text class="xt" transform="translate(293.12,312) rotate(-90)" text-anchor="end" font-size="10.2">WOA</text>
<text class="xt" transform="translate(304.51,312) rotate(-90)" text-anchor="end" font-size="10.2">MVO</text>
<text class="xt" transform="translate(315.89,312) rotate(-90)" text-anchor="end" font-size="10.2">GWO</text>
<text class="xt" transform="translate(327.28,312) rotate(-90)" text-anchor="end" font-size="10.2">TLBO</text>
<text class="xt" transform="translate(338.66,312) rotate(-90)" text-anchor="end" font-size="10.2">GSA</text>
<text class="xt" transform="translate(350.05,312) rotate(-90)" text-anchor="end" font-size="10.2">PSO</text>
<text class="xt" transform="translate(361.43,312) rotate(-90)" text-anchor="end" font-size="10.2">GA</text>
<text class="ti" x="289.25" y="197.6" text-anchor="middle" font-size="11" font-weight="bold" fill="#111">F6</text>
<text class="yl" transform="translate(198.65,255.38) rotate(-90)" text-anchor="middle" font-size="11.4" textLength="81" lengthAdjust="spacingAndGlyphs">objective function</text>
<text class="al" x="289.25" y="351.3" text-anchor="middle" font-size="11.2">algorithm</text>
<text class="sl" x="276" y="368.8" text-anchor="middle" font-size="17">(F)</text>
<clipPath id="c7"><rect x="416" y="201.25" width="140.5" height="108.75"/></clipPath>
<g class="dat" clip-path="url(#c7)">
<line x1="418.46" y1="305.75" x2="424.34" y2="305.75" stroke="#ff1a1a" stroke-width="1.1"/>
<line x1="432.21" y1="292.92" x2="432.21" y2="289.71" stroke="#111" stroke-width="1.1" stroke-dasharray="3.4 2.4"/>
<line x1="431.01" y1="289.71" x2="433.41" y2="289.71" stroke="#111" stroke-width="1.1"/>
<line x1="432.21" y1="297.73" x2="432.21" y2="299.98" stroke="#111" stroke-width="1.1" stroke-dasharray="3.4 2.4"/>
<line x1="431.01" y1="299.98" x2="433.41" y2="299.98" stroke="#111" stroke-width="1.1"/>
<rect x="429.67" y="292.92" width="5.08" height="4.81" stroke="#1a1aff" stroke-width="1.1" fill="none"/>
<line x1="429.67" y1="295.16" x2="434.75" y2="295.16" stroke="#ff1a1a" stroke-width="1.1"/>
<rect x="440.48" y="295.47" width="5.08" height="2.6" rx="1" stroke="#1a1aff" stroke-width="1.1" fill="#5a1a8a"/>
<line x1="440.48" y1="296.77" x2="445.56" y2="296.77" stroke="#ff1a1a" stroke-width="0.9"/>
<line x1="443.02" y1="295.48" x2="443.02" y2="293.88" stroke="#111" stroke-width="1.1" stroke-dasharray="3.4 2.4"/>
<line x1="441.82" y1="293.88" x2="444.22" y2="293.88" stroke="#111" stroke-width="1.1"/>
<line x1="443.02" y1="298.05" x2="443.02" y2="299.33" stroke="#111" stroke-width="1.1" stroke-dasharray="3.4 2.4"/>
<line x1="441.82" y1="299.33" x2="444.22" y2="299.33" stroke="#111" stroke-width="1.1"/>
<line x1="450.89" y1="305.75" x2="456.77" y2="305.75" stroke="#ff1a1a" stroke-width="1.1"/>
<path d="M448.83 305.75H458.83M453.83 300.75V310.75" stroke="#ff1a1a" stroke-width="0.95" fill="none"/>
<line x1="461.69" y1="305.75" x2="467.57" y2="305.75" stroke="#ff1a1a" stroke-width="1.1"/>
<rect x="472.9" y="301.24" width="5.08" height="2.6" rx="1" stroke="#1a1aff" stroke-width="1.1" fill="#5a1a8a"/>
<line x1="472.9" y1="302.54" x2="477.98" y2="302.54" stroke="#ff1a1a" stroke-width="0.9"/>
<path d="M471.24 300.94H479.64M475.44 296.74V305.14" stroke="#ff1a1a" stroke-width="1.6" fill="none"/>
<rect x="483.71" y="303.69" width="5.08" height="2.2" rx="1" stroke="#1a1aff" stroke-width="1.1" fill="#5a1a8a"/>
<line x1="483.71" y1="304.79" x2="488.79" y2="304.79" stroke="#ff1a1a" stroke-width="0.9"/>
<path d="M482.05 304.79H490.45M486.25 300.59V308.99" stroke="#ff1a1a" stroke-width="1.6" fill="none"/>
<rect x="494.52" y="300.7" width="5.08" height="2.4" rx="1" stroke="#1a1aff" stroke-width="1.1" fill="#5a1a8a"/>
<line x1="494.52" y1="301.9" x2="499.6" y2="301.9" stroke="#ff1a1a" stroke-width="0.9"/>
<path d="M492.86 299.33H501.26M497.06 295.13V303.53" stroke="#ff1a1a" stroke-width="1.6" fill="none"/>
<line x1="504.93" y1="305.75" x2="510.81" y2="305.75" stroke="#ff1a1a" stroke-width="1.1"/>
<line x1="515.73" y1="305.11" x2="521.61" y2="305.11" stroke="#ff1a1a" stroke-width="1.1"/>
<path d="M513.67 305.11H523.67M518.67 300.11V310.11" stroke="#ff1a1a" stroke-width="0.95" fill="none"/>
<line x1="529.48" y1="281.69" x2="529.48" y2="273.67" stroke="#111" stroke-width="1.1" stroke-dasharray="3.4 2.4"/>
<line x1="528.28" y1="273.67" x2="530.68" y2="273.67" stroke="#111" stroke-width="1.1"/>
<line x1="529.48" y1="291.31" x2="529.48" y2="298.69" stroke="#111" stroke-width="1.1" stroke-dasharray="3.4 2.4"/>
<line x1="528.28" y1="298.69" x2="530.68" y2="298.69" stroke="#111" stroke-width="1.1"/>
<rect x="526.94" y="281.69" width="5.08" height="9.62" stroke="#1a1aff" stroke-width="1.4" fill="none"/>
<line x1="526.94" y1="288.1" x2="532.02" y2="288.1" stroke="#ff1a1a" stroke-width="1.1"/>
<line x1="540.29" y1="236.77" x2="540.29" y2="204.69" stroke="#111" stroke-width="1.1" stroke-dasharray="3.4 2.4"/>
<line x1="539.09" y1="204.69" x2="541.49" y2="204.69" stroke="#111" stroke-width="1.1"/>
<line x1="540.29" y1="268.85" x2="540.29" y2="280.73" stroke="#111" stroke-width="1.1" stroke-dasharray="3.4 2.4"/>
<line x1="539.09" y1="280.73" x2="541.49" y2="280.73" stroke="#111" stroke-width="1.1"/>
<rect x="537.75" y="236.77" width="5.08" height="32.08" stroke="#1a1aff" stroke-width="1.4" fill="none"/>
<line x1="537.75" y1="258.27" x2="542.83" y2="258.27" stroke="#ff1a1a" stroke-width="1.1"/>
<rect x="548.56" y="301.44" width="5.08" height="2.2" rx="1" stroke="#1a1aff" stroke-width="1.1" fill="#5a1a8a"/>
<line x1="548.56" y1="302.54" x2="553.64" y2="302.54" stroke="#ff1a1a" stroke-width="0.9"/>
</g>
<rect class="ax" x="416" y="201.25" width="140.5" height="108.75" fill="none" stroke="#2a2a2a" stroke-width="1.15"/>
<path class="ax" d="M421.4 310v-1.6M421.4 201.25v1.6M432.21 310v-1.6M432.21 201.25v1.6M443.02 310v-1.6M443.02 201.25v1.6M453.83 310v-1.6M453.83 201.25v1.6M464.63 310v-1.6M464.63 201.25v1.6M475.44 310v-1.6M475.44 201.25v1.6M486.25 310v-1.6M486.25 201.25v1.6M497.06 310v-1.6M497.06 201.25v1.6M507.87 310v-1.6M507.87 201.25v1.6M518.67 310v-1.6M518.67 201.25v1.6M529.48 310v-1.6M529.48 201.25v1.6M540.29 310v-1.6M540.29 201.25v1.6M551.1 310v-1.6M551.1 201.25v1.6M416 305.75h1.6M556.5 305.75h-1.6M416 273.67h1.6M556.5 273.67h-1.6M416 241.58h1.6M556.5 241.58h-1.6M416 209.5h1.6M556.5 209.5h-1.6" stroke="#2a2a2a" stroke-width="0.9"/>
<text class="yt" x="413.4" y="309.45" text-anchor="end" font-size="9.6">0</text>
<text class="yt" x="413.4" y="277.37" text-anchor="end" font-size="9.6">0.1</text>
<text class="yt" x="413.4" y="245.28" text-anchor="end" font-size="9.6">0.2</text>
<text class="yt" x="413.4" y="213.2" text-anchor="end" font-size="9.6">0.3</text>
<text class="xt" transform="translate(425.28,312) rotate(-90)" text-anchor="end" font-size="10.2">CBOA</text>
<text class="xt" transform="translate(436.08,312) rotate(-90)" text-anchor="end" font-size="10.2">CMA</text>
<text class="xt" transform="translate(446.89,312) rotate(-90)" text-anchor="end" font-size="10.2">DE</text>
<text class="xt" transform="translate(457.7,312) rotate(-90)" text-anchor="end" font-size="10.2">HBA</text>
<text class="xt" transform="translate(468.51,312) rotate(-90)" text-anchor="end" font-size="10.2">MPA</text>
<text class="xt" transform="translate(479.31,312) rotate(-90)" text-anchor="end" font-size="10.2">TSA</text>
<text class="xt" transform="translate(490.12,312) rotate(-90)" text-anchor="end" font-size="10.2">WOA</text>
<text class="xt" transform="translate(500.93,312) rotate(-90)" text-anchor="end" font-size="10.2">MVO</text>
<text class="xt" transform="translate(511.74,312) rotate(-90)" text-anchor="end" font-size="10.2">GWO</text>
<text class="xt" transform="translate(522.55,312) rotate(-90)" text-anchor="end" font-size="10.2">TLBO</text>
<text class="xt" transform="translate(533.35,312) rotate(-90)" text-anchor="end" font-size="10.2">GSA</text>
<text class="xt" transform="translate(544.16,312) rotate(-90)" text-anchor="end" font-size="10.2">PSO</text>
<text class="xt" transform="translate(554.97,312) rotate(-90)" text-anchor="end" font-size="10.2">GA</text>
<text class="ti" x="486.25" y="197.6" text-anchor="middle" font-size="11" font-weight="bold" fill="#111">F7</text>
<text class="yl" transform="translate(397.8,255.62) rotate(-90)" text-anchor="middle" font-size="11.4" textLength="81" lengthAdjust="spacingAndGlyphs">objective function</text>
<text class="al" x="486.25" y="351.3" text-anchor="middle" font-size="11.2">algorithm</text>
<text class="sl" x="469" y="368.8" text-anchor="middle" font-size="17">(G)</text>
<clipPath id="c8"><rect x="608.25" y="200.3" width="140.35" height="109.7"/></clipPath>
<g class="dat" clip-path="url(#c8)">
<rect x="611.11" y="218.9" width="5.07" height="2.2" rx="1" stroke="#1a1aff" stroke-width="1.1" fill="#5a1a8a"/>
<line x1="611.11" y1="220" x2="616.19" y2="220" stroke="#ff1a1a" stroke-width="0.9"/>
<line x1="624.44" y1="242.5" x2="624.44" y2="237" stroke="#111" stroke-width="1.1" stroke-dasharray="3.4 2.4"/>
<line x1="623.24" y1="237" x2="625.64" y2="237" stroke="#111" stroke-width="1.1"/>
<line x1="624.44" y1="283" x2="624.44" y2="285" stroke="#111" stroke-width="1.1" stroke-dasharray="3.4 2.4"/>
<line x1="623.24" y1="285" x2="625.64" y2="285" stroke="#111" stroke-width="1.1"/>
<rect x="621.91" y="242.5" width="5.07" height="40.5" stroke="#1a1aff" stroke-width="1.3" fill="none"/>
<line x1="621.91" y1="263.25" x2="626.98" y2="263.25" stroke="#ff1a1a" stroke-width="1.1"/>
<path d="M619.44 294.25H629.44M624.44 289.25V299.25" stroke="#ff1a1a" stroke-width="0.95" fill="none"/>
<path d="M619.44 297.5H629.44M624.44 292.5V302.5" stroke="#ff1a1a" stroke-width="0.95" fill="none"/>
<path d="M619.44 310H629.44M624.44 305V315" stroke="#ff1a1a" stroke-width="0.95" fill="none"/>
<line x1="632.3" y1="220.75" x2="638.18" y2="220.75" stroke="#ff1a1a" stroke-width="1.1"/>
<line x1="646.04" y1="215.5" x2="646.04" y2="212" stroke="#111" stroke-width="1.1" stroke-dasharray="3.4 2.4"/>
<line x1="644.84" y1="212" x2="647.24" y2="212" stroke="#111" stroke-width="1.1"/>
<rect x="643.5" y="215.5" width="5.07" height="3.5" stroke="#1a1aff" stroke-width="1.3" fill="none"/>
<line x1="643.5" y1="217" x2="648.57" y2="217" stroke="#ff1a1a" stroke-width="1.1"/>
<rect x="654.3" y="217.3" width="5.07" height="2.2" rx="1" stroke="#1a1aff" stroke-width="1.1" fill="#5a1a8a"/>
<line x1="654.3" y1="218.4" x2="659.37" y2="218.4" stroke="#ff1a1a" stroke-width="0.9"/>
<rect x="665.09" y="212.1" width="5.07" height="2.6" rx="1" stroke="#1a1aff" stroke-width="1.1" fill="#5a1a8a"/>
<line x1="665.09" y1="213.4" x2="670.17" y2="213.4" stroke="#ff1a1a" stroke-width="0.9"/>
<line x1="667.63" y1="212" x2="667.63" y2="211" stroke="#111" stroke-width="1.1" stroke-dasharray="3.4 2.4"/>
<line x1="666.43" y1="211" x2="668.83" y2="211" stroke="#111" stroke-width="1.1"/>
<rect x="675.89" y="216.7" width="5.07" height="3.6" stroke="#1a1aff" stroke-width="1.4" fill="none"/>
<line x1="675.89" y1="218" x2="680.96" y2="218" stroke="#ff1a1a" stroke-width="1.1"/>
<rect x="686.68" y="214.1" width="5.07" height="2.6" rx="1" stroke="#1a1aff" stroke-width="1.1" fill="#5a1a8a"/>
<line x1="686.68" y1="215.4" x2="691.76" y2="215.4" stroke="#ff1a1a" stroke-width="0.9"/>
<path d="M684.72 214H693.72M689.22 209.5V218.5" stroke="#ff1a1a" stroke-width="1.6" fill="none"/>
<rect x="697.48" y="211.7" width="5.07" height="2.6" rx="1" stroke="#1a1aff" stroke-width="1.1" fill="#5a1a8a"/>
<line x1="697.48" y1="213" x2="702.55" y2="213" stroke="#ff1a1a" stroke-width="0.9"/>
<path d="M695.52 209.4H704.52M700.02 204.9V213.9" stroke="#ff1a1a" stroke-width="1.5" fill="none"/>
<line x1="710.81" y1="210" x2="710.81" y2="209" stroke="#111" stroke-width="1.1" stroke-dasharray="3.4 2.4"/>
<line x1="709.61" y1="209" x2="712.01" y2="209" stroke="#111" stroke-width="1.1"/>
<line x1="710.81" y1="213.5" x2="710.81" y2="214.5" stroke="#111" stroke-width="1.1" stroke-dasharray="3.4 2.4"/>
<line x1="709.61" y1="214.5" x2="712.01" y2="214.5" stroke="#111" stroke-width="1.1"/>
<rect x="708.28" y="210" width="5.07" height="3.5" stroke="#1a1aff" stroke-width="1.3" fill="none"/>
<line x1="708.28" y1="211.8" x2="713.35" y2="211.8" stroke="#ff1a1a" stroke-width="1.1"/>
<line x1="721.61" y1="205" x2="721.61" y2="207.4" stroke="#111" stroke-width="1.1" stroke-dasharray="3.4 2.4"/>
<line x1="720.41" y1="207.4" x2="722.81" y2="207.4" stroke="#111" stroke-width="1.1"/>
<rect x="719.07" y="201.5" width="5.07" height="3.5" stroke="#1a1aff" stroke-width="1.3" fill="none"/>
<line x1="719.07" y1="203.4" x2="724.15" y2="203.4" stroke="#ff1a1a" stroke-width="1.1"/>
<rect x="729.87" y="212.8" width="5.07" height="2.4" rx="1" stroke="#1a1aff" stroke-width="1.1" fill="#5a1a8a"/>
<line x1="729.87" y1="214" x2="734.94" y2="214" stroke="#ff1a1a" stroke-width="0.9"/>
<line x1="732.41" y1="212.5" x2="732.41" y2="210.5" stroke="#111" stroke-width="1.1" stroke-dasharray="3.4 2.4"/>
<line x1="731.21" y1="210.5" x2="733.61" y2="210.5" stroke="#111" stroke-width="1.1"/>
<line x1="732.41" y1="215.5" x2="732.41" y2="216.5" stroke="#111" stroke-width="1.1" stroke-dasharray="3.4 2.4"/>
<line x1="731.21" y1="216.5" x2="733.61" y2="216.5" stroke="#111" stroke-width="1.1"/>
<rect x="740.66" y="216.2" width="5.07" height="2.4" rx="1" stroke="#1a1aff" stroke-width="1.1" fill="#5a1a8a"/>
<line x1="740.66" y1="217.4" x2="745.74" y2="217.4" stroke="#ff1a1a" stroke-width="0.9"/>
<path d="M738.7 214.3H747.7M743.2 209.8V218.8" stroke="#ff1a1a" stroke-width="1.4" fill="none"/>
</g>
<path class="ax" d="M748.6 200.3H608.25V310H748.6" fill="none" stroke="#2a2a2a" stroke-width="1.15"/>
<path class="ax" d="M748.6 200.3V310" fill="none" stroke="#8a8a8a" stroke-width="1.15"/>
<path class="ax" d="M613.65 310v-1.6M613.65 200.3v1.6M624.44 310v-1.6M624.44 200.3v1.6M635.24 310v-1.6M635.24 200.3v1.6M646.04 310v-1.6M646.04 200.3v1.6M656.83 310v-1.6M656.83 200.3v1.6M667.63 310v-1.6M667.63 200.3v1.6M678.42 310v-1.6M678.42 200.3v1.6M689.22 310v-1.6M689.22 200.3v1.6M700.02 310v-1.6M700.02 200.3v1.6M710.81 310v-1.6M710.81 200.3v1.6M721.61 310v-1.6M721.61 200.3v1.6M732.41 310v-1.6M732.41 200.3v1.6M743.2 310v-1.6M743.2 200.3v1.6M608.25 220h1.6M748.6 220h-1.6M608.25 268.75h1.6M748.6 268.75h-1.6M608.25 202.96h1M748.6 202.96h-1M608.25 207.25h1M748.6 207.25h-1M608.25 210.3h1M748.6 210.3h-1M608.25 212.66h1M748.6 212.66h-1M608.25 214.59h1M748.6 214.59h-1M608.25 216.22h1M748.6 216.22h-1M608.25 217.64h1M748.6 217.64h-1M608.25 218.88h1M748.6 218.88h-1M608.25 227.34h1M748.6 227.34h-1M608.25 231.63h1M748.6 231.63h-1M608.25 234.68h1M748.6 234.68h-1M608.25 237.04h1M748.6 237.04h-1M608.25 238.97h1M748.6 238.97h-1M608.25 240.6h1M748.6 240.6h-1M608.25 242.01h1M748.6 242.01h-1M608.25 243.26h1M748.6 243.26h-1M608.25 251.71h1M748.6 251.71h-1M608.25 256h1M748.6 256h-1M608.25 259.05h1M748.6 259.05h-1M608.25 261.41h1M748.6 261.41h-1M608.25 263.34h1M748.6 263.34h-1M608.25 264.97h1M748.6 264.97h-1M608.25 266.39h1M748.6 266.39h-1M608.25 267.63h1M748.6 267.63h-1M608.25 276.09h1M748.6 276.09h-1M608.25 280.38h1M748.6 280.38h-1M608.25 283.43h1M748.6 283.43h-1M608.25 285.79h1M748.6 285.79h-1M608.25 287.72h1M748.6 287.72h-1M608.25 289.35h1M748.6 289.35h-1M608.25 290.76h1M748.6 290.76h-1M608.25 292.01h1M748.6 292.01h-1M608.25 300.46h1M748.6 300.46h-1M608.25 304.75h1M748.6 304.75h-1M608.25 307.8h1M748.6 307.8h-1" stroke="#2a2a2a" stroke-width="0.9"/>
<text class="yt" x="605.65" y="223.7" text-anchor="end" font-size="9.6">-10<tspan dy="-5" font-size="7.4">4</tspan></text>
<text class="yt" x="605.65" y="272.45" text-anchor="end" font-size="9.6">-10<tspan dy="-5" font-size="7.4">6</tspan></text>
<text class="xt" transform="translate(617.52,312) rotate(-90)" text-anchor="end" font-size="10.2">CBOA</text>
<text class="xt" transform="translate(628.32,312) rotate(-90)" text-anchor="end" font-size="10.2">CMA</text>
<text class="xt" transform="translate(639.11,312) rotate(-90)" text-anchor="end" font-size="10.2">DE</text>
<text class="xt" transform="translate(649.91,312) rotate(-90)" text-anchor="end" font-size="10.2">HBA</text>
<text class="xt" transform="translate(660.7,312) rotate(-90)" text-anchor="end" font-size="10.2">MPA</text>
<text class="xt" transform="translate(671.5,312) rotate(-90)" text-anchor="end" font-size="10.2">TSA</text>
<text class="xt" transform="translate(682.3,312) rotate(-90)" text-anchor="end" font-size="10.2">WOA</text>
<text class="xt" transform="translate(693.09,312) rotate(-90)" text-anchor="end" font-size="10.2">MVO</text>
<text class="xt" transform="translate(703.89,312) rotate(-90)" text-anchor="end" font-size="10.2">GWO</text>
<text class="xt" transform="translate(714.69,312) rotate(-90)" text-anchor="end" font-size="10.2">TLBO</text>
<text class="xt" transform="translate(725.48,312) rotate(-90)" text-anchor="end" font-size="10.2">GSA</text>
<text class="xt" transform="translate(736.28,312) rotate(-90)" text-anchor="end" font-size="10.2">PSO</text>
<text class="xt" transform="translate(747.07,312) rotate(-90)" text-anchor="end" font-size="10.2">GA</text>
<text class="ti" x="678.42" y="197.6" text-anchor="middle" font-size="11" font-weight="bold" fill="#111">F8</text>
<text class="yl" transform="translate(585.2,255.15) rotate(-90)" text-anchor="middle" font-size="11.4" textLength="81" lengthAdjust="spacingAndGlyphs">objective function</text>
<text class="al" x="678.42" y="351.3" text-anchor="middle" font-size="11.2">algorithm</text>
<text class="sl" x="661.2" y="368.8" text-anchor="middle" font-size="17">(H)</text>
<clipPath id="c9"><rect x="29.5" y="388.25" width="142.5" height="110"/></clipPath>
<g class="dat" clip-path="url(#c9)">
<line x1="32" y1="493.25" x2="37.96" y2="493.25" stroke="#ff1a1a" stroke-width="1.1"/>
<line x1="45.94" y1="478.62" x2="45.94" y2="477" stroke="#111" stroke-width="1.1" stroke-dasharray="3.4 2.4"/>
<line x1="44.74" y1="477" x2="47.14" y2="477" stroke="#111" stroke-width="1.1"/>
<line x1="45.94" y1="484.15" x2="45.94" y2="486.75" stroke="#111" stroke-width="1.1" stroke-dasharray="3.4 2.4"/>
<line x1="44.74" y1="486.75" x2="47.14" y2="486.75" stroke="#111" stroke-width="1.1"/>
<rect x="43.37" y="478.62" width="5.15" height="5.52" stroke="#1a1aff" stroke-width="1.4" fill="none"/>
<line x1="43.37" y1="481.88" x2="48.52" y2="481.88" stroke="#ff1a1a" stroke-width="1.1"/>
<path d="M40.94 462.38H50.94M45.94 457.38V467.38" stroke="#ff1a1a" stroke-width="0.95" fill="none"/>
<path d="M40.94 436.38H50.94M45.94 431.38V441.38" stroke="#ff1a1a" stroke-width="0.95" fill="none"/>
<line x1="56.9" y1="471.8" x2="56.9" y2="470.5" stroke="#111" stroke-width="1.1" stroke-dasharray="3.4 2.4"/>
<line x1="55.7" y1="470.5" x2="58.1" y2="470.5" stroke="#111" stroke-width="1.1"/>
<line x1="56.9" y1="474.73" x2="56.9" y2="476.35" stroke="#111" stroke-width="1.1" stroke-dasharray="3.4 2.4"/>
<line x1="55.7" y1="476.35" x2="58.1" y2="476.35" stroke="#111" stroke-width="1.1"/>
<rect x="54.33" y="471.8" width="5.15" height="2.93" stroke="#1a1aff" stroke-width="1.4" fill="none"/>
<line x1="54.33" y1="473.1" x2="59.48" y2="473.1" stroke="#ff1a1a" stroke-width="1.1"/>
<path d="M51.9 467.25H61.9M56.9 462.25V472.25" stroke="#ff1a1a" stroke-width="0.95" fill="none"/>
<line x1="64.89" y1="493.25" x2="70.84" y2="493.25" stroke="#ff1a1a" stroke-width="1.1"/>
<line x1="75.85" y1="493.25" x2="81.8" y2="493.25" stroke="#ff1a1a" stroke-width="1.1"/>
<line x1="89.79" y1="425.65" x2="89.79" y2="410.38" stroke="#111" stroke-width="1.1" stroke-dasharray="3.4 2.4"/>
<line x1="88.59" y1="410.38" x2="90.99" y2="410.38" stroke="#111" stroke-width="1.1"/>
<line x1="89.79" y1="447.75" x2="89.79" y2="468.88" stroke="#111" stroke-width="1.1" stroke-dasharray="3.4 2.4"/>
<line x1="88.59" y1="468.88" x2="90.99" y2="468.88" stroke="#111" stroke-width="1.1"/>
<rect x="87.21" y="425.65" width="5.15" height="22.1" stroke="#1a1aff" stroke-width="1.4" fill="none"/>
<line x1="87.21" y1="435.4" x2="92.36" y2="435.4" stroke="#ff1a1a" stroke-width="1.1"/>
<path d="M84.79 392.5H94.79M89.79 387.5V397.5" stroke="#ff1a1a" stroke-width="0.95" fill="none"/>
<line x1="97.77" y1="493.25" x2="103.73" y2="493.25" stroke="#ff1a1a" stroke-width="1.1"/>
<line x1="111.71" y1="453.6" x2="111.71" y2="449.38" stroke="#111" stroke-width="1.1" stroke-dasharray="3.4 2.4"/>
<line x1="110.51" y1="449.38" x2="112.91" y2="449.38" stroke="#111" stroke-width="1.1"/>
<line x1="111.71" y1="467.9" x2="111.71" y2="475.38" stroke="#111" stroke-width="1.1" stroke-dasharray="3.4 2.4"/>
<line x1="110.51" y1="475.38" x2="112.91" y2="475.38" stroke="#111" stroke-width="1.1"/>
<rect x="109.14" y="453.6" width="5.15" height="14.3" stroke="#1a1aff" stroke-width="1.1" fill="none"/>
<line x1="109.14" y1="461.4" x2="114.29" y2="461.4" stroke="#ff1a1a" stroke-width="1.1"/>
<line x1="119.7" y1="493.25" x2="125.65" y2="493.25" stroke="#ff1a1a" stroke-width="1.1"/>
<line x1="130.66" y1="493.25" x2="136.61" y2="493.25" stroke="#ff1a1a" stroke-width="1.1"/>
<rect x="142.02" y="482.65" width="5.15" height="3" rx="1" stroke="#1a1aff" stroke-width="1.1" fill="#5a1a8a"/>
<line x1="142.02" y1="484.15" x2="147.17" y2="484.15" stroke="#ff1a1a" stroke-width="0.9"/>
<line x1="144.6" y1="485.45" x2="144.6" y2="487.4" stroke="#111" stroke-width="1.1" stroke-dasharray="3.4 2.4"/>
<line x1="143.4" y1="487.4" x2="145.8" y2="487.4" stroke="#111" stroke-width="1.1"/>
<path d="M139.6 478.62H149.6M144.6 473.62V483.62" stroke="#ff1a1a" stroke-width="1.4" fill="none"/>
<line x1="155.56" y1="470.5" x2="155.56" y2="467.25" stroke="#111" stroke-width="1.1" stroke-dasharray="3.4 2.4"/>
<line x1="154.36" y1="467.25" x2="156.76" y2="467.25" stroke="#111" stroke-width="1.1"/>
<line x1="155.56" y1="476.35" x2="155.56" y2="479.6" stroke="#111" stroke-width="1.1" stroke-dasharray="3.4 2.4"/>
<line x1="154.36" y1="479.6" x2="156.76" y2="479.6" stroke="#111" stroke-width="1.1"/>
<rect x="152.98" y="470.5" width="5.15" height="5.85" stroke="#1a1aff" stroke-width="1.4" fill="none"/>
<line x1="152.98" y1="473.75" x2="158.13" y2="473.75" stroke="#ff1a1a" stroke-width="1.1"/>
<path d="M150.56 458.15H160.56M155.56 453.15V463.15" stroke="#ff1a1a" stroke-width="0.95" fill="none"/>
<line x1="166.52" y1="470.5" x2="166.52" y2="465.62" stroke="#111" stroke-width="1.1" stroke-dasharray="3.4 2.4"/>
<line x1="165.32" y1="465.62" x2="167.72" y2="465.62" stroke="#111" stroke-width="1.1"/>
<line x1="166.52" y1="477.65" x2="166.52" y2="483.5" stroke="#111" stroke-width="1.1" stroke-dasharray="3.4 2.4"/>
<line x1="165.32" y1="483.5" x2="167.72" y2="483.5" stroke="#111" stroke-width="1.1"/>
<rect x="163.94" y="470.5" width="5.15" height="7.15" stroke="#1a1aff" stroke-width="1.4" fill="none"/>
<line x1="163.94" y1="475.38" x2="169.1" y2="475.38" stroke="#ff1a1a" stroke-width="1.1"/>
<path d="M161.52 456.85H171.52M166.52 451.85V461.85" stroke="#ff1a1a" stroke-width="0.95" fill="none"/>
</g>
<rect class="ax" x="29.5" y="388.25" width="142.5" height="110" fill="none" stroke="#2a2a2a" stroke-width="1.15"/>
<path class="ax" d="M34.98 498.25v-1.6M34.98 388.25v1.6M45.94 498.25v-1.6M45.94 388.25v1.6M56.9 498.25v-1.6M56.9 388.25v1.6M67.87 498.25v-1.6M67.87 388.25v1.6M78.83 498.25v-1.6M78.83 388.25v1.6M89.79 498.25v-1.6M89.79 388.25v1.6M100.75 498.25v-1.6M100.75 388.25v1.6M111.71 498.25v-1.6M111.71 388.25v1.6M122.67 498.25v-1.6M122.67 388.25v1.6M133.63 498.25v-1.6M133.63 388.25v1.6M144.6 498.25v-1.6M144.6 388.25v1.6M155.56 498.25v-1.6M155.56 388.25v1.6M166.52 498.25v-1.6M166.52 388.25v1.6M29.5 493.25h1.6M172 493.25h-1.6M29.5 460.75h1.6M172 460.75h-1.6M29.5 428.25h1.6M172 428.25h-1.6M29.5 395.75h1.6M172 395.75h-1.6" stroke="#2a2a2a" stroke-width="0.9"/>
<text class="yt" x="26.9" y="496.95" text-anchor="end" font-size="9.6">0</text>
<text class="yt" x="26.9" y="464.45" text-anchor="end" font-size="9.6">100</text>
<text class="yt" x="26.9" y="431.95" text-anchor="end" font-size="9.6">200</text>
<text class="yt" x="26.9" y="399.45" text-anchor="end" font-size="9.6">300</text>
<text class="xt" transform="translate(38.85,500.25) rotate(-90)" text-anchor="end" font-size="10.2">CBOA</text>
<text class="xt" transform="translate(49.81,500.25) rotate(-90)" text-anchor="end" font-size="10.2">CMA</text>
<text class="xt" transform="translate(60.78,500.25) rotate(-90)" text-anchor="end" font-size="10.2">DE</text>
<text class="xt" transform="translate(71.74,500.25) rotate(-90)" text-anchor="end" font-size="10.2">HBA</text>
<text class="xt" transform="translate(82.7,500.25) rotate(-90)" text-anchor="end" font-size="10.2">MPA</text>
<text class="xt" transform="translate(93.66,500.25) rotate(-90)" text-anchor="end" font-size="10.2">TSA</text>
<text class="xt" transform="translate(104.62,500.25) rotate(-90)" text-anchor="end" font-size="10.2">WOA</text>
<text class="xt" transform="translate(115.58,500.25) rotate(-90)" text-anchor="end" font-size="10.2">MVO</text>
<text class="xt" transform="translate(126.55,500.25) rotate(-90)" text-anchor="end" font-size="10.2">GWO</text>
<text class="xt" transform="translate(137.51,500.25) rotate(-90)" text-anchor="end" font-size="10.2">TLBO</text>
<text class="xt" transform="translate(148.47,500.25) rotate(-90)" text-anchor="end" font-size="10.2">GSA</text>
<text class="xt" transform="translate(159.43,500.25) rotate(-90)" text-anchor="end" font-size="10.2">PSO</text>
<text class="xt" transform="translate(170.39,500.25) rotate(-90)" text-anchor="end" font-size="10.2">GA</text>
<text class="ti" x="100.75" y="385.6" text-anchor="middle" font-size="11" font-weight="bold" fill="#111">F9</text>
<text class="yl" transform="translate(7.6,443.25) rotate(-90)" text-anchor="middle" font-size="11.4" textLength="81" lengthAdjust="spacingAndGlyphs">objective function</text>
<text class="al" x="100.75" y="538.8" text-anchor="middle" font-size="11.2">algorithm</text>
<text class="sl" x="84.2" y="556.8" text-anchor="middle" font-size="17">(I)</text>
<clipPath id="c10"><rect x="215.25" y="388.75" width="148" height="109.5"/></clipPath>
<g class="dat" clip-path="url(#c10)">
<line x1="217.87" y1="492.5" x2="224.02" y2="492.5" stroke="#ff1a1a" stroke-width="1.1"/>
<line x1="229.25" y1="492.5" x2="235.4" y2="492.5" stroke="#ff1a1a" stroke-width="1.1"/>
<path d="M227.33 492.5H237.33M232.33 487.5V497.5" stroke="#ff1a1a" stroke-width="0.95" fill="none"/>
<line x1="240.64" y1="492.5" x2="246.79" y2="492.5" stroke="#ff1a1a" stroke-width="1.1"/>
<line x1="252.02" y1="492.5" x2="258.17" y2="492.5" stroke="#ff1a1a" stroke-width="1.1"/>
<path d="M250.1 393.75H260.1M255.1 388.75V398.75" stroke="#ff1a1a" stroke-width="0.95" fill="none"/>
<line x1="263.41" y1="492.5" x2="269.56" y2="492.5" stroke="#ff1a1a" stroke-width="1.1"/>
<path d="M261.48 492.5H271.48M266.48 487.5V497.5" stroke="#ff1a1a" stroke-width="0.95" fill="none"/>
<line x1="277.87" y1="476.21" x2="277.87" y2="475.47" stroke="#111" stroke-width="1.1" stroke-dasharray="3.4 2.4"/>
<line x1="276.67" y1="475.47" x2="279.07" y2="475.47" stroke="#111" stroke-width="1.1"/>
<rect x="275.19" y="476.21" width="5.35" height="16.29" stroke="#1a1aff" stroke-width="1.4" fill="none"/>
<line x1="275.19" y1="479.66" x2="280.54" y2="479.66" stroke="#ff1a1a" stroke-width="1.1"/>
<line x1="286.17" y1="492.5" x2="292.33" y2="492.5" stroke="#ff1a1a" stroke-width="1.1"/>
<line x1="300.63" y1="487.56" x2="300.63" y2="484.6" stroke="#111" stroke-width="1.1" stroke-dasharray="3.4 2.4"/>
<line x1="299.43" y1="484.6" x2="301.83" y2="484.6" stroke="#111" stroke-width="1.1"/>
<rect x="297.96" y="487.56" width="5.35" height="3.95" stroke="#1a1aff" stroke-width="1.4" fill="none"/>
<line x1="297.96" y1="490.52" x2="303.31" y2="490.52" stroke="#ff1a1a" stroke-width="1.1"/>
<line x1="308.94" y1="492.5" x2="315.09" y2="492.5" stroke="#ff1a1a" stroke-width="1.1"/>
<path d="M307.02 492.5H317.02M312.02 487.5V497.5" stroke="#ff1a1a" stroke-width="0.95" fill="none"/>
<line x1="320.33" y1="492.5" x2="326.48" y2="492.5" stroke="#ff1a1a" stroke-width="1.1"/>
<path d="M318.4 492.5H328.4M323.4 487.5V497.5" stroke="#ff1a1a" stroke-width="0.95" fill="none"/>
<line x1="331.71" y1="492.5" x2="337.86" y2="492.5" stroke="#ff1a1a" stroke-width="1.1"/>
<path d="M329.79 492.5H339.79M334.79 487.5V497.5" stroke="#ff1a1a" stroke-width="0.95" fill="none"/>
<line x1="346.17" y1="476.7" x2="346.17" y2="467.81" stroke="#111" stroke-width="1.1" stroke-dasharray="3.4 2.4"/>
<line x1="344.97" y1="467.81" x2="347.37" y2="467.81" stroke="#111" stroke-width="1.1"/>
<line x1="346.17" y1="481.64" x2="346.17" y2="486.08" stroke="#111" stroke-width="1.1" stroke-dasharray="3.4 2.4"/>
<line x1="344.97" y1="486.08" x2="347.37" y2="486.08" stroke="#111" stroke-width="1.1"/>
<rect x="343.5" y="476.7" width="5.35" height="4.94" stroke="#1a1aff" stroke-width="1.2" fill="none"/>
<line x1="343.5" y1="478.68" x2="348.85" y2="478.68" stroke="#ff1a1a" stroke-width="1.1"/>
<line x1="357.56" y1="473.74" x2="357.56" y2="471.76" stroke="#111" stroke-width="1.1" stroke-dasharray="3.4 2.4"/>
<line x1="356.36" y1="471.76" x2="358.76" y2="471.76" stroke="#111" stroke-width="1.1"/>
<rect x="354.88" y="473.74" width="5.35" height="2.47" stroke="#1a1aff" stroke-width="1.6" fill="none"/>
<line x1="354.88" y1="474.97" x2="360.23" y2="474.97" stroke="#ff1a1a" stroke-width="1.1"/>
<path d="M353.16 479.66H361.96M357.56 475.26V484.06" stroke="#ff1a1a" stroke-width="1.4" fill="none"/>
</g>
<rect class="ax" x="215.25" y="388.75" width="148" height="109.5" fill="none" stroke="#2a2a2a" stroke-width="1.15"/>
<path class="ax" d="M220.94 498.25v-1.6M220.94 388.75v1.6M232.33 498.25v-1.6M232.33 388.75v1.6M243.71 498.25v-1.6M243.71 388.75v1.6M255.1 498.25v-1.6M255.1 388.75v1.6M266.48 498.25v-1.6M266.48 388.75v1.6M277.87 498.25v-1.6M277.87 388.75v1.6M289.25 498.25v-1.6M289.25 388.75v1.6M300.63 498.25v-1.6M300.63 388.75v1.6M312.02 498.25v-1.6M312.02 388.75v1.6M323.4 498.25v-1.6M323.4 388.75v1.6M334.79 498.25v-1.6M334.79 388.75v1.6M346.17 498.25v-1.6M346.17 388.75v1.6M357.56 498.25v-1.6M357.56 388.75v1.6M215.25 492.5h1.6M363.25 492.5h-1.6M215.25 467.81h1.6M363.25 467.81h-1.6M215.25 443.12h1.6M363.25 443.12h-1.6M215.25 418.44h1.6M363.25 418.44h-1.6M215.25 393.75h1.6M363.25 393.75h-1.6" stroke="#2a2a2a" stroke-width="0.9"/>
<text class="yt" x="212.65" y="496.2" text-anchor="end" font-size="9.6">0</text>
<text class="yt" x="212.65" y="471.51" text-anchor="end" font-size="9.6">5</text>
<text class="yt" x="212.65" y="446.82" text-anchor="end" font-size="9.6">10</text>
<text class="yt" x="212.65" y="422.14" text-anchor="end" font-size="9.6">15</text>
<text class="yt" x="212.65" y="397.45" text-anchor="end" font-size="9.6">20</text>
<text class="xt" transform="translate(224.81,500.25) rotate(-90)" text-anchor="end" font-size="10.2">CBOA</text>
<text class="xt" transform="translate(236.2,500.25) rotate(-90)" text-anchor="end" font-size="10.2">CMA</text>
<text class="xt" transform="translate(247.58,500.25) rotate(-90)" text-anchor="end" font-size="10.2">DE</text>
<text class="xt" transform="translate(258.97,500.25) rotate(-90)" text-anchor="end" font-size="10.2">HBA</text>
<text class="xt" transform="translate(270.35,500.25) rotate(-90)" text-anchor="end" font-size="10.2">MPA</text>
<text class="xt" transform="translate(281.74,500.25) rotate(-90)" text-anchor="end" font-size="10.2">TSA</text>
<text class="xt" transform="translate(293.12,500.25) rotate(-90)" text-anchor="end" font-size="10.2">WOA</text>
<text class="xt" transform="translate(304.51,500.25) rotate(-90)" text-anchor="end" font-size="10.2">MVO</text>
<text class="xt" transform="translate(315.89,500.25) rotate(-90)" text-anchor="end" font-size="10.2">GWO</text>
<text class="xt" transform="translate(327.28,500.25) rotate(-90)" text-anchor="end" font-size="10.2">TLBO</text>
<text class="xt" transform="translate(338.66,500.25) rotate(-90)" text-anchor="end" font-size="10.2">GSA</text>
<text class="xt" transform="translate(350.05,500.25) rotate(-90)" text-anchor="end" font-size="10.2">PSO</text>
<text class="xt" transform="translate(361.43,500.25) rotate(-90)" text-anchor="end" font-size="10.2">GA</text>
<text class="ti" x="289.25" y="385.6" text-anchor="middle" font-size="11" font-weight="bold" fill="#111">F10</text>
<text class="yl" transform="translate(198.65,443.5) rotate(-90)" text-anchor="middle" font-size="11.4" textLength="81" lengthAdjust="spacingAndGlyphs">objective function</text>
<text class="al" x="289.25" y="538.8" text-anchor="middle" font-size="11.2">algorithm</text>
<text class="sl" x="276" y="556.8" text-anchor="middle" font-size="17">(J)</text>
<clipPath id="c11"><rect x="408.25" y="388.25" width="147.5" height="110"/></clipPath>
<g class="dat" clip-path="url(#c11)">
<line x1="410.86" y1="493.25" x2="416.99" y2="493.25" stroke="#ff1a1a" stroke-width="1.1"/>
<line x1="422.2" y1="493.25" x2="428.34" y2="493.25" stroke="#ff1a1a" stroke-width="1.1"/>
<path d="M420.27 493.25H430.27M425.27 488.25V498.25" stroke="#ff1a1a" stroke-width="0.95" fill="none"/>
<line x1="433.55" y1="493.25" x2="439.68" y2="493.25" stroke="#ff1a1a" stroke-width="1.1"/>
<path d="M431.62 493.25H441.62M436.62 488.25V498.25" stroke="#ff1a1a" stroke-width="0.95" fill="none"/>
<line x1="444.9" y1="493.25" x2="451.03" y2="493.25" stroke="#ff1a1a" stroke-width="1.1"/>
<line x1="456.24" y1="493.25" x2="462.37" y2="493.25" stroke="#ff1a1a" stroke-width="1.1"/>
<line x1="467.59" y1="493.25" x2="473.72" y2="493.25" stroke="#ff1a1a" stroke-width="1.1"/>
<path d="M465.65 493.25H475.65M470.65 488.25V498.25" stroke="#ff1a1a" stroke-width="0.95" fill="none"/>
<line x1="478.93" y1="493.25" x2="485.07" y2="493.25" stroke="#ff1a1a" stroke-width="1.1"/>
<path d="M477 493.25H487M482 488.25V498.25" stroke="#ff1a1a" stroke-width="0.95" fill="none"/>
<rect x="490.68" y="489.79" width="5.33" height="2" rx="1" stroke="#1a1aff" stroke-width="1.1" fill="#5a1a8a"/>
<line x1="490.68" y1="490.79" x2="496.01" y2="490.79" stroke="#ff1a1a" stroke-width="0.9"/>
<line x1="501.63" y1="493.25" x2="507.76" y2="493.25" stroke="#ff1a1a" stroke-width="1.1"/>
<path d="M499.69 493.25H509.69M504.69 488.25V498.25" stroke="#ff1a1a" stroke-width="0.95" fill="none"/>
<line x1="512.97" y1="493.25" x2="519.1" y2="493.25" stroke="#ff1a1a" stroke-width="1.1"/>
<line x1="527.38" y1="429.29" x2="527.38" y2="424.99" stroke="#111" stroke-width="1.1" stroke-dasharray="3.4 2.4"/>
<line x1="526.18" y1="424.99" x2="528.58" y2="424.99" stroke="#111" stroke-width="1.1"/>
<line x1="527.38" y1="448.36" x2="527.38" y2="462.5" stroke="#111" stroke-width="1.1" stroke-dasharray="3.4 2.4"/>
<line x1="526.18" y1="462.5" x2="528.58" y2="462.5" stroke="#111" stroke-width="1.1"/>
<rect x="524.72" y="429.29" width="5.33" height="19.07" stroke="#1a1aff" stroke-width="1.4" fill="none"/>
<line x1="524.72" y1="442.2" x2="530.05" y2="442.2" stroke="#ff1a1a" stroke-width="1.1"/>
<path d="M522.38 394.24H532.38M527.38 389.24V399.24" stroke="#ff1a1a" stroke-width="0.95" fill="none"/>
<rect x="536.06" y="490.82" width="5.33" height="2.4" rx="1" stroke="#1a1aff" stroke-width="1.1" fill="#5a1a8a"/>
<line x1="536.06" y1="492.02" x2="541.4" y2="492.02" stroke="#ff1a1a" stroke-width="0.9"/>
<path d="M534.53 490.18H542.93M538.73 485.98V494.38" stroke="#ff1a1a" stroke-width="1.5" fill="none"/>
<rect x="547.41" y="482.72" width="5.33" height="2.6" rx="1" stroke="#1a1aff" stroke-width="1.1" fill="#5a1a8a"/>
<line x1="547.41" y1="484.02" x2="552.74" y2="484.02" stroke="#ff1a1a" stroke-width="0.9"/>
<path d="M545.68 479.11H554.48M550.08 474.71V483.5" stroke="#ff1a1a" stroke-width="1.3" fill="none"/>
</g>
<rect class="ax" x="408.25" y="388.25" width="147.5" height="110" fill="none" stroke="#2a2a2a" stroke-width="1.15"/>
<path class="ax" d="M413.92 498.25v-1.6M413.92 388.25v1.6M425.27 498.25v-1.6M425.27 388.25v1.6M436.62 498.25v-1.6M436.62 388.25v1.6M447.96 498.25v-1.6M447.96 388.25v1.6M459.31 498.25v-1.6M459.31 388.25v1.6M470.65 498.25v-1.6M470.65 388.25v1.6M482 498.25v-1.6M482 388.25v1.6M493.35 498.25v-1.6M493.35 388.25v1.6M504.69 498.25v-1.6M504.69 388.25v1.6M516.04 498.25v-1.6M516.04 388.25v1.6M527.38 498.25v-1.6M527.38 388.25v1.6M538.73 498.25v-1.6M538.73 388.25v1.6M550.08 498.25v-1.6M550.08 388.25v1.6M408.25 493.25h1.6M555.75 493.25h-1.6M408.25 462.5h1.6M555.75 462.5h-1.6M408.25 431.75h1.6M555.75 431.75h-1.6M408.25 401h1.6M555.75 401h-1.6" stroke="#2a2a2a" stroke-width="0.9"/>
<text class="yt" x="405.65" y="496.95" text-anchor="end" font-size="9.6">0</text>
<text class="yt" x="405.65" y="466.2" text-anchor="end" font-size="9.6">5</text>
<text class="yt" x="405.65" y="435.45" text-anchor="end" font-size="9.6">10</text>
<text class="yt" x="405.65" y="404.7" text-anchor="end" font-size="9.6">15</text>
<text class="xt" transform="translate(417.8,500.25) rotate(-90)" text-anchor="end" font-size="10.2">CBOA</text>
<text class="xt" transform="translate(429.14,500.25) rotate(-90)" text-anchor="end" font-size="10.2">CMA</text>
<text class="xt" transform="translate(440.49,500.25) rotate(-90)" text-anchor="end" font-size="10.2">DE</text>
<text class="xt" transform="translate(451.83,500.25) rotate(-90)" text-anchor="end" font-size="10.2">HBA</text>
<text class="xt" transform="translate(463.18,500.25) rotate(-90)" text-anchor="end" font-size="10.2">MPA</text>
<text class="xt" transform="translate(474.53,500.25) rotate(-90)" text-anchor="end" font-size="10.2">TSA</text>
<text class="xt" transform="translate(485.87,500.25) rotate(-90)" text-anchor="end" font-size="10.2">WOA</text>
<text class="xt" transform="translate(497.22,500.25) rotate(-90)" text-anchor="end" font-size="10.2">MVO</text>
<text class="xt" transform="translate(508.56,500.25) rotate(-90)" text-anchor="end" font-size="10.2">GWO</text>
<text class="xt" transform="translate(519.91,500.25) rotate(-90)" text-anchor="end" font-size="10.2">TLBO</text>
<text class="xt" transform="translate(531.26,500.25) rotate(-90)" text-anchor="end" font-size="10.2">GSA</text>
<text class="xt" transform="translate(542.6,500.25) rotate(-90)" text-anchor="end" font-size="10.2">PSO</text>
<text class="xt" transform="translate(553.95,500.25) rotate(-90)" text-anchor="end" font-size="10.2">GA</text>
<text class="ti" x="482" y="385.6" text-anchor="middle" font-size="11" font-weight="bold" fill="#111">F11</text>
<text class="yl" transform="translate(392.5,443.25) rotate(-90)" text-anchor="middle" font-size="11.4" textLength="81" lengthAdjust="spacingAndGlyphs">objective function</text>
<text class="al" x="482" y="538.8" text-anchor="middle" font-size="11.2">algorithm</text>
<text class="sl" x="469" y="556.8" text-anchor="middle" font-size="17">(K)</text>
<clipPath id="c12"><rect x="601.25" y="388.25" width="147.25" height="110"/></clipPath>
<g class="dat" clip-path="url(#c12)">
<line x1="603.85" y1="493.25" x2="609.98" y2="493.25" stroke="#ff1a1a" stroke-width="1.1"/>
<path d="M601.91 493.25H611.91M606.91 488.25V498.25" stroke="#ff1a1a" stroke-width="0.95" fill="none"/>
<line x1="615.18" y1="493.25" x2="621.3" y2="493.25" stroke="#ff1a1a" stroke-width="1.1"/>
<line x1="626.51" y1="493.25" x2="632.63" y2="493.25" stroke="#ff1a1a" stroke-width="1.1"/>
<path d="M624.57 493.25H634.57M629.57 488.25V498.25" stroke="#ff1a1a" stroke-width="0.95" fill="none"/>
<line x1="637.83" y1="493.25" x2="643.96" y2="493.25" stroke="#ff1a1a" stroke-width="1.1"/>
<path d="M635.89 493.25H645.89M640.89 488.25V498.25" stroke="#ff1a1a" stroke-width="0.95" fill="none"/>
<line x1="649.16" y1="493.25" x2="655.28" y2="493.25" stroke="#ff1a1a" stroke-width="1.1"/>
<line x1="663.55" y1="430.95" x2="663.55" y2="393.15" stroke="#111" stroke-width="1.1" stroke-dasharray="3.4 2.4"/>
<line x1="662.35" y1="393.15" x2="664.75" y2="393.15" stroke="#111" stroke-width="1.1"/>
<line x1="663.55" y1="466.65" x2="663.55" y2="491.15" stroke="#111" stroke-width="1.1" stroke-dasharray="3.4 2.4"/>
<line x1="662.35" y1="491.15" x2="664.75" y2="491.15" stroke="#111" stroke-width="1.1"/>
<rect x="660.89" y="430.95" width="5.32" height="35.7" stroke="#1a1aff" stroke-width="1.5" fill="none"/>
<line x1="660.89" y1="447.75" x2="666.21" y2="447.75" stroke="#ff1a1a" stroke-width="1.1"/>
<line x1="671.81" y1="493.25" x2="677.94" y2="493.25" stroke="#ff1a1a" stroke-width="1.1"/>
<path d="M669.88 493.25H679.88M674.88 488.25V498.25" stroke="#ff1a1a" stroke-width="0.95" fill="none"/>
<line x1="686.2" y1="477.85" x2="686.2" y2="464.55" stroke="#111" stroke-width="1.1" stroke-dasharray="3.4 2.4"/>
<line x1="685" y1="464.55" x2="687.4" y2="464.55" stroke="#111" stroke-width="1.1"/>
<line x1="686.2" y1="490.45" x2="686.2" y2="493.25" stroke="#111" stroke-width="1.1" stroke-dasharray="3.4 2.4"/>
<line x1="685" y1="493.25" x2="687.4" y2="493.25" stroke="#111" stroke-width="1.1"/>
<rect x="683.54" y="477.85" width="5.32" height="12.6" stroke="#1a1aff" stroke-width="1.4" fill="none"/>
<line x1="683.54" y1="486.25" x2="688.86" y2="486.25" stroke="#ff1a1a" stroke-width="1.1"/>
<rect x="694.87" y="491.8" width="5.32" height="1.5" rx="1" stroke="#1a1aff" stroke-width="1.1" fill="#5a1a8a"/>
<line x1="694.87" y1="492.55" x2="700.19" y2="492.55" stroke="#ff1a1a" stroke-width="0.9"/>
<line x1="705.79" y1="493.25" x2="711.92" y2="493.25" stroke="#ff1a1a" stroke-width="1.1"/>
<path d="M703.86 493.25H713.86M708.86 488.25V498.25" stroke="#ff1a1a" stroke-width="0.95" fill="none"/>
<rect x="717.52" y="489.05" width="5.32" height="3.5" stroke="#1a1aff" stroke-width="1.6" fill="none"/>
<line x1="717.52" y1="491.15" x2="722.84" y2="491.15" stroke="#ff1a1a" stroke-width="1.1"/>
<path d="M715.18 484.15H725.18M720.18 479.15V489.15" stroke="#ff1a1a" stroke-width="1.2" fill="none"/>
<line x1="731.51" y1="479.25" x2="731.51" y2="466.65" stroke="#111" stroke-width="1.1" stroke-dasharray="3.4 2.4"/>
<line x1="730.31" y1="466.65" x2="732.71" y2="466.65" stroke="#111" stroke-width="1.1"/>
<line x1="731.51" y1="489.05" x2="731.51" y2="491.15" stroke="#111" stroke-width="1.1" stroke-dasharray="3.4 2.4"/>
<line x1="730.31" y1="491.15" x2="732.71" y2="491.15" stroke="#111" stroke-width="1.1"/>
<rect x="728.85" y="479.25" width="5.32" height="9.8" stroke="#1a1aff" stroke-width="1.3" fill="none"/>
<line x1="728.85" y1="486.25" x2="734.17" y2="486.25" stroke="#ff1a1a" stroke-width="1.1"/>
<path d="M726.51 454.05H736.51M731.51 449.05V459.05" stroke="#ff1a1a" stroke-width="0.95" fill="none"/>
<path d="M726.51 450.55H736.51M731.51 445.55V455.55" stroke="#ff1a1a" stroke-width="0.95" fill="none"/>
<rect x="740.17" y="490.75" width="5.32" height="2.2" rx="1" stroke="#1a1aff" stroke-width="1.1" fill="#5a1a8a"/>
<line x1="740.17" y1="491.85" x2="745.5" y2="491.85" stroke="#ff1a1a" stroke-width="0.9"/>
</g>
<path class="ax" d="M748.5 388.25H601.25V498.25H748.5" fill="none" stroke="#2a2a2a" stroke-width="1.15"/>
<path class="ax" d="M748.5 388.25V498.25" fill="none" stroke="#8a8a8a" stroke-width="1.15"/>
<path class="ax" d="M606.91 498.25v-1.6M606.91 388.25v1.6M618.24 498.25v-1.6M618.24 388.25v1.6M629.57 498.25v-1.6M629.57 388.25v1.6M640.89 498.25v-1.6M640.89 388.25v1.6M652.22 498.25v-1.6M652.22 388.25v1.6M663.55 498.25v-1.6M663.55 388.25v1.6M674.88 498.25v-1.6M674.88 388.25v1.6M686.2 498.25v-1.6M686.2 388.25v1.6M697.53 498.25v-1.6M697.53 388.25v1.6M708.86 498.25v-1.6M708.86 388.25v1.6M720.18 498.25v-1.6M720.18 388.25v1.6M731.51 498.25v-1.6M731.51 388.25v1.6M742.84 498.25v-1.6M742.84 388.25v1.6M601.25 493.25h1.6M748.5 493.25h-1.6M601.25 458.25h1.6M748.5 458.25h-1.6M601.25 423.25h1.6M748.5 423.25h-1.6" stroke="#2a2a2a" stroke-width="0.9"/>
<text class="yt" x="598.65" y="496.95" text-anchor="end" font-size="9.6">0</text>
<text class="yt" x="598.65" y="461.95" text-anchor="end" font-size="9.6">5</text>
<text class="yt" x="598.65" y="426.95" text-anchor="end" font-size="9.6">10</text>
<text class="xt" transform="translate(610.79,500.25) rotate(-90)" text-anchor="end" font-size="10.2">CBOA</text>
<text class="xt" transform="translate(622.11,500.25) rotate(-90)" text-anchor="end" font-size="10.2">CMA</text>
<text class="xt" transform="translate(633.44,500.25) rotate(-90)" text-anchor="end" font-size="10.2">DE</text>
<text class="xt" transform="translate(644.77,500.25) rotate(-90)" text-anchor="end" font-size="10.2">HBA</text>
<text class="xt" transform="translate(656.09,500.25) rotate(-90)" text-anchor="end" font-size="10.2">MPA</text>
<text class="xt" transform="translate(667.42,500.25) rotate(-90)" text-anchor="end" font-size="10.2">TSA</text>
<text class="xt" transform="translate(678.75,500.25) rotate(-90)" text-anchor="end" font-size="10.2">WOA</text>
<text class="xt" transform="translate(690.07,500.25) rotate(-90)" text-anchor="end" font-size="10.2">MVO</text>
<text class="xt" transform="translate(701.4,500.25) rotate(-90)" text-anchor="end" font-size="10.2">GWO</text>
<text class="xt" transform="translate(712.73,500.25) rotate(-90)" text-anchor="end" font-size="10.2">TLBO</text>
<text class="xt" transform="translate(724.05,500.25) rotate(-90)" text-anchor="end" font-size="10.2">GSA</text>
<text class="xt" transform="translate(735.38,500.25) rotate(-90)" text-anchor="end" font-size="10.2">PSO</text>
<text class="xt" transform="translate(746.71,500.25) rotate(-90)" text-anchor="end" font-size="10.2">GA</text>
<text class="ti" x="674.88" y="385.6" text-anchor="middle" font-size="11" font-weight="bold" fill="#111">F12</text>
<text class="yl" transform="translate(585,443.25) rotate(-90)" text-anchor="middle" font-size="11.4" textLength="81" lengthAdjust="spacingAndGlyphs">objective function</text>
<text class="al" x="674.88" y="538.8" text-anchor="middle" font-size="11.2">algorithm</text>
<text class="sl" x="661.2" y="556.8" text-anchor="middle" font-size="17">(L)</text>
<clipPath id="c13"><rect x="24.25" y="576.75" width="148.25" height="109.75"/></clipPath>
<g class="dat" clip-path="url(#c13)">
<line x1="26.87" y1="682" x2="33.03" y2="682" stroke="#ff1a1a" stroke-width="1.1"/>
<path d="M24.95 682H34.95M29.95 677V687" stroke="#ff1a1a" stroke-width="0.95" fill="none"/>
<line x1="38.28" y1="682" x2="44.44" y2="682" stroke="#ff1a1a" stroke-width="1.1"/>
<path d="M36.36 682H46.36M41.36 677V687" stroke="#ff1a1a" stroke-width="0.95" fill="none"/>
<line x1="49.68" y1="682" x2="55.84" y2="682" stroke="#ff1a1a" stroke-width="1.1"/>
<rect x="61.48" y="679.72" width="5.36" height="2" rx="1" stroke="#1a1aff" stroke-width="1.1" fill="#5a1a8a"/>
<line x1="61.48" y1="680.72" x2="66.84" y2="680.72" stroke="#ff1a1a" stroke-width="0.9"/>
<path d="M59.76 679.43H68.56M64.16 675.03V683.83" stroke="#ff1a1a" stroke-width="1.6" fill="none"/>
<line x1="61.08" y1="678.15" x2="67.24" y2="678.15" stroke="#ff1a1a" stroke-width="1.1"/>
<line x1="72.49" y1="682" x2="78.65" y2="682" stroke="#ff1a1a" stroke-width="1.1"/>
<path d="M70.57 682H80.57M75.57 677V687" stroke="#ff1a1a" stroke-width="0.95" fill="none"/>
<line x1="86.97" y1="662.75" x2="86.97" y2="661.47" stroke="#111" stroke-width="1.1" stroke-dasharray="3.4 2.4"/>
<line x1="85.77" y1="661.47" x2="88.17" y2="661.47" stroke="#111" stroke-width="1.1"/>
<line x1="86.97" y1="666.6" x2="86.97" y2="669.17" stroke="#111" stroke-width="1.1" stroke-dasharray="3.4 2.4"/>
<line x1="85.77" y1="669.17" x2="88.17" y2="669.17" stroke="#111" stroke-width="1.1"/>
<rect x="84.29" y="662.75" width="5.36" height="3.85" stroke="#1a1aff" stroke-width="1.4" fill="none"/>
<line x1="84.29" y1="665.32" x2="89.65" y2="665.32" stroke="#ff1a1a" stroke-width="1.1"/>
<rect x="95.7" y="679.08" width="5.36" height="2" rx="1" stroke="#1a1aff" stroke-width="1.1" fill="#5a1a8a"/>
<line x1="95.7" y1="680.08" x2="101.05" y2="680.08" stroke="#ff1a1a" stroke-width="0.9"/>
<line x1="98.38" y1="679.11" x2="98.38" y2="676.87" stroke="#111" stroke-width="1.1" stroke-dasharray="3.4 2.4"/>
<line x1="97.17" y1="676.87" x2="99.58" y2="676.87" stroke="#111" stroke-width="1.1"/>
<line x1="106.7" y1="682" x2="112.86" y2="682" stroke="#ff1a1a" stroke-width="1.1"/>
<path d="M104.78 682H114.78M109.78 677V687" stroke="#ff1a1a" stroke-width="0.95" fill="none"/>
<rect x="118.5" y="677.51" width="5.36" height="1.92" stroke="#1a1aff" stroke-width="1.3" fill="none"/>
<line x1="118.5" y1="678.47" x2="123.86" y2="678.47" stroke="#ff1a1a" stroke-width="1.1"/>
<line x1="132.59" y1="673.66" x2="132.59" y2="672.38" stroke="#111" stroke-width="1.1" stroke-dasharray="3.4 2.4"/>
<line x1="131.39" y1="672.38" x2="133.79" y2="672.38" stroke="#111" stroke-width="1.1"/>
<line x1="132.59" y1="676.23" x2="132.59" y2="678.15" stroke="#111" stroke-width="1.1" stroke-dasharray="3.4 2.4"/>
<line x1="131.39" y1="678.15" x2="133.79" y2="678.15" stroke="#111" stroke-width="1.1"/>
<rect x="129.91" y="673.66" width="5.36" height="2.57" stroke="#1a1aff" stroke-width="1.3" fill="none"/>
<line x1="129.91" y1="674.94" x2="135.27" y2="674.94" stroke="#ff1a1a" stroke-width="1.1"/>
<line x1="140.91" y1="682" x2="147.07" y2="682" stroke="#ff1a1a" stroke-width="1.1"/>
<path d="M138.99 682H148.99M143.99 677V687" stroke="#ff1a1a" stroke-width="0.95" fill="none"/>
<line x1="155.39" y1="632.59" x2="155.39" y2="581.26" stroke="#111" stroke-width="1.1" stroke-dasharray="3.4 2.4"/>
<line x1="154.19" y1="581.26" x2="156.59" y2="581.26" stroke="#111" stroke-width="1.1"/>
<line x1="155.39" y1="675.58" x2="155.39" y2="682" stroke="#111" stroke-width="1.1" stroke-dasharray="3.4 2.4"/>
<line x1="154.19" y1="682" x2="156.59" y2="682" stroke="#111" stroke-width="1.1"/>
<rect x="152.71" y="632.59" width="5.36" height="42.99" stroke="#1a1aff" stroke-width="1.05" fill="none"/>
<line x1="152.71" y1="655.05" x2="158.07" y2="655.05" stroke="#ff1a1a" stroke-width="1.1"/>
<line x1="166.8" y1="665.32" x2="166.8" y2="658.9" stroke="#111" stroke-width="1.1" stroke-dasharray="3.4 2.4"/>
<line x1="165.6" y1="658.9" x2="168" y2="658.9" stroke="#111" stroke-width="1.1"/>
<line x1="166.8" y1="670.45" x2="166.8" y2="673.66" stroke="#111" stroke-width="1.1" stroke-dasharray="3.4 2.4"/>
<line x1="165.6" y1="673.66" x2="168" y2="673.66" stroke="#111" stroke-width="1.1"/>
<rect x="164.12" y="665.32" width="5.36" height="5.13" stroke="#1a1aff" stroke-width="1.5" fill="none"/>
<line x1="164.12" y1="667.88" x2="169.48" y2="667.88" stroke="#ff1a1a" stroke-width="1.1"/>
<path d="M162.4 651.84H171.2M166.8 647.44V656.24" stroke="#ff1a1a" stroke-width="1.4" fill="none"/>
</g>
<rect class="ax" x="24.25" y="576.75" width="148.25" height="109.75" fill="none" stroke="#2a2a2a" stroke-width="1.15"/>
<path class="ax" d="M29.95 686.5v-1.6M29.95 576.75v1.6M41.36 686.5v-1.6M41.36 576.75v1.6M52.76 686.5v-1.6M52.76 576.75v1.6M64.16 686.5v-1.6M64.16 576.75v1.6M75.57 686.5v-1.6M75.57 576.75v1.6M86.97 686.5v-1.6M86.97 576.75v1.6M98.38 686.5v-1.6M98.38 576.75v1.6M109.78 686.5v-1.6M109.78 576.75v1.6M121.18 686.5v-1.6M121.18 576.75v1.6M132.59 686.5v-1.6M132.59 576.75v1.6M143.99 686.5v-1.6M143.99 576.75v1.6M155.39 686.5v-1.6M155.39 576.75v1.6M166.8 686.5v-1.6M166.8 576.75v1.6M24.25 682h1.6M172.5 682h-1.6M24.25 649.92h1.6M172.5 649.92h-1.6M24.25 617.83h1.6M172.5 617.83h-1.6M24.25 585.75h1.6M172.5 585.75h-1.6" stroke="#2a2a2a" stroke-width="0.9"/>
<text class="yt" x="21.65" y="685.7" text-anchor="end" font-size="9.6">0</text>
<text class="yt" x="21.65" y="653.62" text-anchor="end" font-size="9.6">5</text>
<text class="yt" x="21.65" y="621.53" text-anchor="end" font-size="9.6">10</text>
<text class="yt" x="21.65" y="589.45" text-anchor="end" font-size="9.6">15</text>
<text class="xt" transform="translate(33.82,688.5) rotate(-90)" text-anchor="end" font-size="10.2">CBOA</text>
<text class="xt" transform="translate(45.23,688.5) rotate(-90)" text-anchor="end" font-size="10.2">CMA</text>
<text class="xt" transform="translate(56.63,688.5) rotate(-90)" text-anchor="end" font-size="10.2">DE</text>
<text class="xt" transform="translate(68.04,688.5) rotate(-90)" text-anchor="end" font-size="10.2">HBA</text>
<text class="xt" transform="translate(79.44,688.5) rotate(-90)" text-anchor="end" font-size="10.2">MPA</text>
<text class="xt" transform="translate(90.84,688.5) rotate(-90)" text-anchor="end" font-size="10.2">TSA</text>
<text class="xt" transform="translate(102.25,688.5) rotate(-90)" text-anchor="end" font-size="10.2">WOA</text>
<text class="xt" transform="translate(113.65,688.5) rotate(-90)" text-anchor="end" font-size="10.2">MVO</text>
<text class="xt" transform="translate(125.05,688.5) rotate(-90)" text-anchor="end" font-size="10.2">GWO</text>
<text class="xt" transform="translate(136.46,688.5) rotate(-90)" text-anchor="end" font-size="10.2">TLBO</text>
<text class="xt" transform="translate(147.86,688.5) rotate(-90)" text-anchor="end" font-size="10.2">GSA</text>
<text class="xt" transform="translate(159.27,688.5) rotate(-90)" text-anchor="end" font-size="10.2">PSO</text>
<text class="xt" transform="translate(170.67,688.5) rotate(-90)" text-anchor="end" font-size="10.2">GA</text>
<text class="ti" x="98.38" y="573.6" text-anchor="middle" font-size="11" font-weight="bold" fill="#111">F13</text>
<text class="yl" transform="translate(7.85,631.62) rotate(-90)" text-anchor="middle" font-size="11.4" textLength="81" lengthAdjust="spacingAndGlyphs">objective function</text>
<text class="al" x="98.38" y="727.55" text-anchor="middle" font-size="11.2">algorithm</text>
<text class="sl" x="84.2" y="744.8" text-anchor="middle" font-size="17">(M)</text>
<clipPath id="c14"><rect x="215.25" y="576.75" width="148" height="109.75"/></clipPath>
<g class="dat" clip-path="url(#c14)">
<line x1="217.87" y1="672.37" x2="224.02" y2="672.37" stroke="#ff1a1a" stroke-width="1.1"/>
<line x1="232.33" y1="621.18" x2="232.33" y2="603.53" stroke="#111" stroke-width="1.1" stroke-dasharray="3.4 2.4"/>
<line x1="231.13" y1="603.53" x2="233.53" y2="603.53" stroke="#111" stroke-width="1.1"/>
<line x1="232.33" y1="660.6" x2="232.33" y2="672.37" stroke="#111" stroke-width="1.1" stroke-dasharray="3.4 2.4"/>
<line x1="231.13" y1="672.37" x2="233.53" y2="672.37" stroke="#111" stroke-width="1.1"/>
<rect x="229.65" y="621.18" width="5.35" height="39.42" stroke="#1a1aff" stroke-width="1.4" fill="none"/>
<line x1="229.65" y1="639.42" x2="235" y2="639.42" stroke="#ff1a1a" stroke-width="1.1"/>
<line x1="240.64" y1="672.37" x2="246.79" y2="672.37" stroke="#ff1a1a" stroke-width="1.1"/>
<path d="M238.71 667.07H248.71M243.71 662.07V672.07" stroke="#ff1a1a" stroke-width="0.95" fill="none"/>
<path d="M250.1 672.37H260.1M255.1 667.37V677.37" stroke="#ff1a1a" stroke-width="0.95" fill="none"/>
<path d="M250.7 614.71H259.5M255.1 610.31V619.11" stroke="#ff1a1a" stroke-width="1.4" fill="none"/>
<path d="M261.48 672.37H271.48M266.48 667.37V677.37" stroke="#ff1a1a" stroke-width="0.95" fill="none"/>
<line x1="277.87" y1="603.53" x2="277.87" y2="581.17" stroke="#111" stroke-width="1.1" stroke-dasharray="3.4 2.4"/>
<line x1="276.67" y1="581.17" x2="279.07" y2="581.17" stroke="#111" stroke-width="1.1"/>
<line x1="277.87" y1="654.72" x2="277.87" y2="672.37" stroke="#111" stroke-width="1.1" stroke-dasharray="3.4 2.4"/>
<line x1="276.67" y1="672.37" x2="279.07" y2="672.37" stroke="#111" stroke-width="1.1"/>
<rect x="275.19" y="603.53" width="5.35" height="51.19" stroke="#1a1aff" stroke-width="1.4" fill="none"/>
<line x1="275.19" y1="603.53" x2="280.54" y2="603.53" stroke="#ff1a1a" stroke-width="1.1"/>
<rect x="286.57" y="660.6" width="5.35" height="11.77" stroke="#1a1aff" stroke-width="1.2" fill="none"/>
<line x1="286.57" y1="672.37" x2="291.93" y2="672.37" stroke="#ff1a1a" stroke-width="1.1"/>
<path d="M295.63 672.37H305.63M300.63 667.37V677.37" stroke="#ff1a1a" stroke-width="0.95" fill="none"/>
<line x1="312.02" y1="614.71" x2="312.02" y2="603.53" stroke="#111" stroke-width="1.1" stroke-dasharray="3.4 2.4"/>
<line x1="310.82" y1="603.53" x2="313.22" y2="603.53" stroke="#111" stroke-width="1.1"/>
<line x1="312.02" y1="666.48" x2="312.02" y2="672.37" stroke="#111" stroke-width="1.1" stroke-dasharray="3.4 2.4"/>
<line x1="310.82" y1="672.37" x2="313.22" y2="672.37" stroke="#111" stroke-width="1.1"/>
<rect x="309.34" y="614.71" width="5.35" height="51.77" stroke="#1a1aff" stroke-width="1.4" fill="none"/>
<line x1="309.34" y1="660.6" x2="314.69" y2="660.6" stroke="#ff1a1a" stroke-width="1.1"/>
<path d="M318.4 672.37H328.4M323.4 667.37V677.37" stroke="#ff1a1a" stroke-width="0.95" fill="none"/>
<path d="M318.4 660.6H328.4M323.4 655.6V665.6" stroke="#ff1a1a" stroke-width="0.95" fill="none"/>
<line x1="334.79" y1="641.18" x2="334.79" y2="625.3" stroke="#111" stroke-width="1.1" stroke-dasharray="3.4 2.4"/>
<line x1="333.59" y1="625.3" x2="335.99" y2="625.3" stroke="#111" stroke-width="1.1"/>
<line x1="334.79" y1="667.07" x2="334.79" y2="672.37" stroke="#111" stroke-width="1.1" stroke-dasharray="3.4 2.4"/>
<line x1="333.59" y1="672.37" x2="335.99" y2="672.37" stroke="#111" stroke-width="1.1"/>
<rect x="332.11" y="641.18" width="5.35" height="25.89" stroke="#1a1aff" stroke-width="1.4" fill="none"/>
<line x1="332.11" y1="661.78" x2="337.46" y2="661.78" stroke="#ff1a1a" stroke-width="1.1"/>
<line x1="346.17" y1="645.89" x2="346.17" y2="614.71" stroke="#111" stroke-width="1.1" stroke-dasharray="3.4 2.4"/>
<line x1="344.97" y1="614.71" x2="347.37" y2="614.71" stroke="#111" stroke-width="1.1"/>
<rect x="343.5" y="645.89" width="5.35" height="26.48" stroke="#1a1aff" stroke-width="1.0" fill="none"/>
<line x1="343.5" y1="672.37" x2="348.85" y2="672.37" stroke="#ff1a1a" stroke-width="1.1"/>
<path d="M341.17 598.24H351.17M346.17 593.24V603.24" stroke="#ff1a1a" stroke-width="0.95" fill="none"/>
<path d="M352.56 672.37H362.56M357.56 667.37V677.37" stroke="#ff1a1a" stroke-width="0.95" fill="none"/>
</g>
<rect class="ax" x="215.25" y="576.75" width="148" height="109.75" fill="none" stroke="#2a2a2a" stroke-width="1.15"/>
<path class="ax" d="M220.94 686.5v-1.6M220.94 576.75v1.6M232.33 686.5v-1.6M232.33 576.75v1.6M243.71 686.5v-1.6M243.71 576.75v1.6M255.1 686.5v-1.6M255.1 576.75v1.6M266.48 686.5v-1.6M266.48 576.75v1.6M277.87 686.5v-1.6M277.87 576.75v1.6M289.25 686.5v-1.6M289.25 576.75v1.6M300.63 686.5v-1.6M300.63 576.75v1.6M312.02 686.5v-1.6M312.02 576.75v1.6M323.4 686.5v-1.6M323.4 576.75v1.6M334.79 686.5v-1.6M334.79 576.75v1.6M346.17 686.5v-1.6M346.17 576.75v1.6M357.56 686.5v-1.6M357.56 576.75v1.6M215.25 678.25h1.6M363.25 678.25h-1.6M215.25 648.83h1.6M363.25 648.83h-1.6M215.25 619.42h1.6M363.25 619.42h-1.6M215.25 590h1.6M363.25 590h-1.6" stroke="#2a2a2a" stroke-width="0.9"/>
<text class="yt" x="212.65" y="681.95" text-anchor="end" font-size="9.6">0</text>
<text class="yt" x="212.65" y="652.53" text-anchor="end" font-size="9.6">5</text>
<text class="yt" x="212.65" y="623.12" text-anchor="end" font-size="9.6">10</text>
<text class="yt" x="212.65" y="593.7" text-anchor="end" font-size="9.6">15</text>
<text class="xt" transform="translate(224.81,688.5) rotate(-90)" text-anchor="end" font-size="10.2">CBOA</text>
<text class="xt" transform="translate(236.2,688.5) rotate(-90)" text-anchor="end" font-size="10.2">CMA</text>
<text class="xt" transform="translate(247.58,688.5) rotate(-90)" text-anchor="end" font-size="10.2">DE</text>
<text class="xt" transform="translate(258.97,688.5) rotate(-90)" text-anchor="end" font-size="10.2">HBA</text>
<text class="xt" transform="translate(270.35,688.5) rotate(-90)" text-anchor="end" font-size="10.2">MPA</text>
<text class="xt" transform="translate(281.74,688.5) rotate(-90)" text-anchor="end" font-size="10.2">TSA</text>
<text class="xt" transform="translate(293.12,688.5) rotate(-90)" text-anchor="end" font-size="10.2">WOA</text>
<text class="xt" transform="translate(304.51,688.5) rotate(-90)" text-anchor="end" font-size="10.2">MVO</text>
<text class="xt" transform="translate(315.89,688.5) rotate(-90)" text-anchor="end" font-size="10.2">GWO</text>
<text class="xt" transform="translate(327.28,688.5) rotate(-90)" text-anchor="end" font-size="10.2">TLBO</text>
<text class="xt" transform="translate(338.66,688.5) rotate(-90)" text-anchor="end" font-size="10.2">GSA</text>
<text class="xt" transform="translate(350.05,688.5) rotate(-90)" text-anchor="end" font-size="10.2">PSO</text>
<text class="xt" transform="translate(361.43,688.5) rotate(-90)" text-anchor="end" font-size="10.2">GA</text>
<text class="ti" x="289.25" y="573.6" text-anchor="middle" font-size="11" font-weight="bold" fill="#111">F14</text>
<text class="yl" transform="translate(198.65,631.62) rotate(-90)" text-anchor="middle" font-size="11.4" textLength="81" lengthAdjust="spacingAndGlyphs">objective function</text>
<text class="al" x="289.25" y="727.55" text-anchor="middle" font-size="11.2">algorithm</text>
<text class="sl" x="276" y="744.8" text-anchor="middle" font-size="17">(N)</text>
<clipPath id="c15"><rect x="416" y="576.75" width="140.5" height="109.75"/></clipPath>
<g class="dat" clip-path="url(#c15)">
<path d="M416.4 674.5H426.4M421.4 669.5V679.5" stroke="#ff1a1a" stroke-width="0.95" fill="none"/>
<line x1="418.46" y1="674.5" x2="424.34" y2="674.5" stroke="#ff1a1a" stroke-width="1.1"/>
<rect x="429.67" y="669.61" width="5.08" height="2.44" stroke="#1a1aff" stroke-width="1.4" fill="none"/>
<line x1="429.67" y1="671.24" x2="434.75" y2="671.24" stroke="#ff1a1a" stroke-width="1.1"/>
<path d="M427.21 666.35H437.21M432.21 661.35V671.35" stroke="#ff1a1a" stroke-width="0.95" fill="none"/>
<path d="M427.21 652.82H437.21M432.21 647.82V657.82" stroke="#ff1a1a" stroke-width="0.95" fill="none"/>
<path d="M427.21 647.93H437.21M432.21 642.93V652.93" stroke="#ff1a1a" stroke-width="0.95" fill="none"/>
<path d="M438.02 673.2H448.02M443.02 668.2V678.2" stroke="#ff1a1a" stroke-width="0.95" fill="none"/>
<line x1="440.08" y1="673.2" x2="445.96" y2="673.2" stroke="#ff1a1a" stroke-width="1.1"/>
<line x1="453.83" y1="656.57" x2="453.83" y2="637.83" stroke="#111" stroke-width="1.1" stroke-dasharray="3.4 2.4"/>
<line x1="452.63" y1="637.83" x2="455.03" y2="637.83" stroke="#111" stroke-width="1.1"/>
<rect x="451.29" y="656.57" width="5.08" height="17.11" stroke="#1a1aff" stroke-width="1.4" fill="none"/>
<line x1="451.29" y1="673.68" x2="456.37" y2="673.68" stroke="#ff1a1a" stroke-width="1.1"/>
<line x1="464.63" y1="650.87" x2="464.63" y2="623.97" stroke="#111" stroke-width="1.1" stroke-dasharray="3.4 2.4"/>
<line x1="463.43" y1="623.97" x2="465.83" y2="623.97" stroke="#111" stroke-width="1.1"/>
<rect x="462.09" y="650.87" width="5.08" height="22.82" stroke="#1a1aff" stroke-width="1.4" fill="none"/>
<line x1="462.09" y1="673.68" x2="467.17" y2="673.68" stroke="#ff1a1a" stroke-width="1.1"/>
<rect x="472.9" y="672.4" width="5.08" height="1.6" rx="1" stroke="#1a1aff" stroke-width="1.1" fill="#5a1a8a"/>
<line x1="472.9" y1="673.2" x2="477.98" y2="673.2" stroke="#ff1a1a" stroke-width="0.9"/>
<path d="M470.44 641.9H480.44M475.44 636.9V646.9" stroke="#ff1a1a" stroke-width="0.95" fill="none"/>
<path d="M470.44 581.59H480.44M475.44 576.59V586.59" stroke="#ff1a1a" stroke-width="0.95" fill="none"/>
<path d="M482.05 672.54H490.45M486.25 668.34V676.74" stroke="#ff1a1a" stroke-width="1.6" fill="none"/>
<line x1="483.31" y1="672.54" x2="489.19" y2="672.54" stroke="#ff1a1a" stroke-width="1.1"/>
<rect x="494.52" y="672.3" width="5.08" height="1.8" rx="1" stroke="#1a1aff" stroke-width="1.1" fill="#5a1a8a"/>
<line x1="494.52" y1="673.2" x2="499.6" y2="673.2" stroke="#ff1a1a" stroke-width="0.9"/>
<path d="M492.06 641.9H502.06M497.06 636.9V646.9" stroke="#ff1a1a" stroke-width="0.95" fill="none"/>
<path d="M502.87 674.99H512.87M507.87 669.99V679.99" stroke="#ff1a1a" stroke-width="0.95" fill="none"/>
<path d="M502.87 641.9H512.87M507.87 636.9V646.9" stroke="#ff1a1a" stroke-width="0.95" fill="none"/>
<rect x="516.13" y="672.88" width="5.08" height="1.6" rx="1" stroke="#1a1aff" stroke-width="1.1" fill="#5a1a8a"/>
<line x1="516.13" y1="673.68" x2="521.21" y2="673.68" stroke="#ff1a1a" stroke-width="0.9"/>
<path d="M513.67 641.9H523.67M518.67 636.9V646.9" stroke="#ff1a1a" stroke-width="0.95" fill="none"/>
<rect x="526.94" y="670.01" width="5.08" height="1.8" rx="1" stroke="#1a1aff" stroke-width="1.1" fill="#5a1a8a"/>
<line x1="526.94" y1="670.91" x2="532.02" y2="670.91" stroke="#ff1a1a" stroke-width="0.9"/>
<path d="M524.48 672.54H534.48M529.48 667.54V677.54" stroke="#ff1a1a" stroke-width="0.95" fill="none"/>
<path d="M524.48 663.09H534.48M529.48 658.09V668.09" stroke="#ff1a1a" stroke-width="0.95" fill="none"/>
<path d="M524.48 658.53H534.48M529.48 653.53V663.53" stroke="#ff1a1a" stroke-width="0.95" fill="none"/>
<rect x="537.75" y="672.3" width="5.08" height="1.8" rx="1" stroke="#1a1aff" stroke-width="1.1" fill="#5a1a8a"/>
<line x1="537.75" y1="673.2" x2="542.83" y2="673.2" stroke="#ff1a1a" stroke-width="0.9"/>
<path d="M535.29 654.94H545.29M540.29 649.94V659.94" stroke="#ff1a1a" stroke-width="0.95" fill="none"/>
<path d="M535.29 641.9H545.29M540.29 636.9V646.9" stroke="#ff1a1a" stroke-width="0.95" fill="none"/>
<line x1="551.1" y1="644.35" x2="551.1" y2="628.86" stroke="#111" stroke-width="1.1" stroke-dasharray="3.4 2.4"/>
<line x1="549.9" y1="628.86" x2="552.3" y2="628.86" stroke="#111" stroke-width="1.1"/>
<line x1="551.1" y1="669.61" x2="551.1" y2="672.05" stroke="#111" stroke-width="1.1" stroke-dasharray="3.4 2.4"/>
<line x1="549.9" y1="672.05" x2="552.3" y2="672.05" stroke="#111" stroke-width="1.1"/>
<rect x="548.56" y="644.35" width="5.08" height="25.26" stroke="#1a1aff" stroke-width="1.4" fill="none"/>
<line x1="548.56" y1="666.35" x2="553.64" y2="666.35" stroke="#ff1a1a" stroke-width="1.1"/>
</g>
<rect class="ax" x="416" y="576.75" width="140.5" height="109.75" fill="none" stroke="#2a2a2a" stroke-width="1.15"/>
<path class="ax" d="M421.4 686.5v-1.6M421.4 576.75v1.6M432.21 686.5v-1.6M432.21 576.75v1.6M443.02 686.5v-1.6M443.02 576.75v1.6M453.83 686.5v-1.6M453.83 576.75v1.6M464.63 686.5v-1.6M464.63 576.75v1.6M475.44 686.5v-1.6M475.44 576.75v1.6M486.25 686.5v-1.6M486.25 576.75v1.6M497.06 686.5v-1.6M497.06 576.75v1.6M507.87 686.5v-1.6M507.87 576.75v1.6M518.67 686.5v-1.6M518.67 576.75v1.6M529.48 686.5v-1.6M529.48 576.75v1.6M540.29 686.5v-1.6M540.29 576.75v1.6M551.1 686.5v-1.6M551.1 576.75v1.6M416 674.5h1.6M556.5 674.5h-1.6M416 658.2h1.6M556.5 658.2h-1.6M416 641.9h1.6M556.5 641.9h-1.6M416 625.6h1.6M556.5 625.6h-1.6M416 609.3h1.6M556.5 609.3h-1.6M416 593h1.6M556.5 593h-1.6" stroke="#2a2a2a" stroke-width="0.9"/>
<text class="yt" x="413.4" y="678.2" text-anchor="end" font-size="9.6">0</text>
<text class="yt" x="413.4" y="661.9" text-anchor="end" font-size="9.6">0.01</text>
<text class="yt" x="413.4" y="645.6" text-anchor="end" font-size="9.6">0.02</text>
<text class="yt" x="413.4" y="629.3" text-anchor="end" font-size="9.6">0.03</text>
<text class="yt" x="413.4" y="613" text-anchor="end" font-size="9.6">0.04</text>
<text class="yt" x="413.4" y="596.7" text-anchor="end" font-size="9.6">0.05</text>
<text class="xt" transform="translate(425.28,688.5) rotate(-90)" text-anchor="end" font-size="10.2">CBOA</text>
<text class="xt" transform="translate(436.08,688.5) rotate(-90)" text-anchor="end" font-size="10.2">CMA</text>
<text class="xt" transform="translate(446.89,688.5) rotate(-90)" text-anchor="end" font-size="10.2">DE</text>
<text class="xt" transform="translate(457.7,688.5) rotate(-90)" text-anchor="end" font-size="10.2">HBA</text>
<text class="xt" transform="translate(468.51,688.5) rotate(-90)" text-anchor="end" font-size="10.2">MPA</text>
<text class="xt" transform="translate(479.31,688.5) rotate(-90)" text-anchor="end" font-size="10.2">TSA</text>
<text class="xt" transform="translate(490.12,688.5) rotate(-90)" text-anchor="end" font-size="10.2">WOA</text>
<text class="xt" transform="translate(500.93,688.5) rotate(-90)" text-anchor="end" font-size="10.2">MVO</text>
<text class="xt" transform="translate(511.74,688.5) rotate(-90)" text-anchor="end" font-size="10.2">GWO</text>
<text class="xt" transform="translate(522.55,688.5) rotate(-90)" text-anchor="end" font-size="10.2">TLBO</text>
<text class="xt" transform="translate(533.35,688.5) rotate(-90)" text-anchor="end" font-size="10.2">GSA</text>
<text class="xt" transform="translate(544.16,688.5) rotate(-90)" text-anchor="end" font-size="10.2">PSO</text>
<text class="xt" transform="translate(554.97,688.5) rotate(-90)" text-anchor="end" font-size="10.2">GA</text>
<text class="ti" x="486.25" y="573.6" text-anchor="middle" font-size="11" font-weight="bold" fill="#111">F15</text>
<text class="yl" transform="translate(392.7,631.62) rotate(-90)" text-anchor="middle" font-size="11.4" textLength="81" lengthAdjust="spacingAndGlyphs">objective function</text>
<text class="al" x="486.25" y="727.55" text-anchor="middle" font-size="11.2">algorithm</text>
<text class="sl" x="469" y="744.8" text-anchor="middle" font-size="17">(O)</text>
<clipPath id="c16"><rect x="617.5" y="576.75" width="131" height="109.5"/></clipPath>
<g class="dat" clip-path="url(#c16)">
<line x1="619.77" y1="682.11" x2="625.31" y2="682.11" stroke="#ff1a1a" stroke-width="1.1"/>
<line x1="629.85" y1="682.11" x2="635.38" y2="682.11" stroke="#ff1a1a" stroke-width="1.1"/>
<line x1="639.92" y1="682.11" x2="645.46" y2="682.11" stroke="#ff1a1a" stroke-width="1.1"/>
<line x1="650" y1="682.11" x2="655.54" y2="682.11" stroke="#ff1a1a" stroke-width="1.1"/>
<line x1="660.08" y1="682.11" x2="665.61" y2="682.11" stroke="#ff1a1a" stroke-width="1.1"/>
<line x1="670.15" y1="682.11" x2="675.69" y2="682.11" stroke="#ff1a1a" stroke-width="1.1"/>
<line x1="680.23" y1="682.11" x2="685.77" y2="682.11" stroke="#ff1a1a" stroke-width="1.1"/>
<line x1="690.31" y1="682.11" x2="695.85" y2="682.11" stroke="#ff1a1a" stroke-width="1.1"/>
<line x1="700.39" y1="682.11" x2="705.92" y2="682.11" stroke="#ff1a1a" stroke-width="1.1"/>
<line x1="710.46" y1="682.11" x2="716" y2="682.11" stroke="#ff1a1a" stroke-width="1.1"/>
<line x1="720.54" y1="682.11" x2="726.08" y2="682.11" stroke="#ff1a1a" stroke-width="1.1"/>
<line x1="730.62" y1="682.11" x2="736.15" y2="682.11" stroke="#ff1a1a" stroke-width="1.1"/>
<line x1="740.69" y1="682.11" x2="746.23" y2="682.11" stroke="#ff1a1a" stroke-width="1.1"/>
<path d="M647.77 682.11H657.77M652.77 677.11V687.11" stroke="#ff1a1a" stroke-width="0.95" fill="none"/>
<path d="M678 682.11H688M683 677.11V687.11" stroke="#ff1a1a" stroke-width="0.95" fill="none"/>
<path d="M698.15 682.11H708.15M703.15 677.11V687.11" stroke="#ff1a1a" stroke-width="0.95" fill="none"/>
<path d="M728.38 682.11H738.38M733.38 677.11V687.11" stroke="#ff1a1a" stroke-width="0.95" fill="none"/>
<path d="M738.46 682.11H748.46M743.46 677.11V687.11" stroke="#ff1a1a" stroke-width="0.95" fill="none"/>
<path d="M667.92 581.25H677.92M672.92 576.25V586.25" stroke="#ff1a1a" stroke-width="0.95" fill="none"/>
</g>
<path class="ax" d="M748.5 576.75H617.5V686.25H748.5" fill="none" stroke="#2a2a2a" stroke-width="1.15"/>
<path class="ax" d="M748.5 576.75V686.25" fill="none" stroke="#8a8a8a" stroke-width="1.15"/>
<path class="ax" d="M622.54 686.25v-1.6M622.54 576.75v1.6M632.62 686.25v-1.6M632.62 576.75v1.6M642.69 686.25v-1.6M642.69 576.75v1.6M652.77 686.25v-1.6M652.77 576.75v1.6M662.85 686.25v-1.6M662.85 576.75v1.6M672.92 686.25v-1.6M672.92 576.75v1.6M683 686.25v-1.6M683 576.75v1.6M693.08 686.25v-1.6M693.08 576.75v1.6M703.15 686.25v-1.6M703.15 576.75v1.6M713.23 686.25v-1.6M713.23 576.75v1.6M723.31 686.25v-1.6M723.31 576.75v1.6M733.38 686.25v-1.6M733.38 576.75v1.6M743.46 686.25v-1.6M743.46 576.75v1.6M617.5 581.25h1.6M748.5 581.25h-1.6M617.5 613.17h1.6M748.5 613.17h-1.6M617.5 645.08h1.6M748.5 645.08h-1.6M617.5 677h1.6M748.5 677h-1.6" stroke="#2a2a2a" stroke-width="0.9"/>
<text class="yt" x="614.9" y="584.95" text-anchor="end" font-size="9.6">-1</text>
<text class="yt" x="614.9" y="616.87" text-anchor="end" font-size="9.6">-1.01</text>
<text class="yt" x="614.9" y="648.78" text-anchor="end" font-size="9.6">-1.02</text>
<text class="yt" x="614.9" y="680.7" text-anchor="end" font-size="9.6">-1.03</text>
<text class="xt" transform="translate(626.41,688.25) rotate(-90)" text-anchor="end" font-size="10.2">CBOA</text>
<text class="xt" transform="translate(636.49,688.25) rotate(-90)" text-anchor="end" font-size="10.2">CMA</text>
<text class="xt" transform="translate(646.56,688.25) rotate(-90)" text-anchor="end" font-size="10.2">DE</text>
<text class="xt" transform="translate(656.64,688.25) rotate(-90)" text-anchor="end" font-size="10.2">HBA</text>
<text class="xt" transform="translate(666.72,688.25) rotate(-90)" text-anchor="end" font-size="10.2">MPA</text>
<text class="xt" transform="translate(676.8,688.25) rotate(-90)" text-anchor="end" font-size="10.2">TSA</text>
<text class="xt" transform="translate(686.87,688.25) rotate(-90)" text-anchor="end" font-size="10.2">WOA</text>
<text class="xt" transform="translate(696.95,688.25) rotate(-90)" text-anchor="end" font-size="10.2">MVO</text>
<text class="xt" transform="translate(707.03,688.25) rotate(-90)" text-anchor="end" font-size="10.2">GWO</text>
<text class="xt" transform="translate(717.1,688.25) rotate(-90)" text-anchor="end" font-size="10.2">TLBO</text>
<text class="xt" transform="translate(727.18,688.25) rotate(-90)" text-anchor="end" font-size="10.2">GSA</text>
<text class="xt" transform="translate(737.26,688.25) rotate(-90)" text-anchor="end" font-size="10.2">PSO</text>
<text class="xt" transform="translate(747.33,688.25) rotate(-90)" text-anchor="end" font-size="10.2">GA</text>
<text class="ti" x="683" y="573.6" text-anchor="middle" font-size="11" font-weight="bold" fill="#111">F16</text>
<text class="yl" transform="translate(590.2,631.5) rotate(-90)" text-anchor="middle" font-size="11.4" textLength="81" lengthAdjust="spacingAndGlyphs">objective function</text>
<text class="al" x="683" y="727.55" text-anchor="middle" font-size="11.2">algorithm</text>
<text class="sl" x="661.2" y="744.8" text-anchor="middle" font-size="17">(P)</text>
<clipPath id="c17"><rect x="27" y="764.5" width="145.5" height="109.75"/></clipPath>
<g class="dat" clip-path="url(#c17)">
<line x1="29.57" y1="867.43" x2="35.63" y2="867.43" stroke="#ff1a1a" stroke-width="1.1"/>
<line x1="40.76" y1="867.43" x2="46.82" y2="867.43" stroke="#ff1a1a" stroke-width="1.1"/>
<line x1="51.95" y1="867.43" x2="58.01" y2="867.43" stroke="#ff1a1a" stroke-width="1.1"/>
<line x1="63.14" y1="867.43" x2="69.2" y2="867.43" stroke="#ff1a1a" stroke-width="1.1"/>
<line x1="74.34" y1="867.43" x2="80.4" y2="867.43" stroke="#ff1a1a" stroke-width="1.1"/>
<line x1="85.53" y1="867.43" x2="91.59" y2="867.43" stroke="#ff1a1a" stroke-width="1.1"/>
<line x1="96.72" y1="867.43" x2="102.78" y2="867.43" stroke="#ff1a1a" stroke-width="1.1"/>
<line x1="107.91" y1="867.43" x2="113.97" y2="867.43" stroke="#ff1a1a" stroke-width="1.1"/>
<line x1="119.1" y1="867.43" x2="125.16" y2="867.43" stroke="#ff1a1a" stroke-width="1.1"/>
<line x1="130.3" y1="867.43" x2="136.36" y2="867.43" stroke="#ff1a1a" stroke-width="1.1"/>
<line x1="141.49" y1="867.43" x2="147.55" y2="867.43" stroke="#ff1a1a" stroke-width="1.1"/>
<line x1="152.68" y1="867.43" x2="158.74" y2="867.43" stroke="#ff1a1a" stroke-width="1.1"/>
<line x1="163.87" y1="867.43" x2="169.93" y2="867.43" stroke="#ff1a1a" stroke-width="1.1"/>
<path d="M94.75 867.43H104.75M99.75 862.43V872.43" stroke="#ff1a1a" stroke-width="0.95" fill="none"/>
<path d="M117.13 867.43H127.13M122.13 862.43V872.43" stroke="#ff1a1a" stroke-width="0.95" fill="none"/>
<path d="M128.33 867.43H138.33M133.33 862.43V872.43" stroke="#ff1a1a" stroke-width="0.95" fill="none"/>
<path d="M128.33 866.53H138.33M133.33 861.53V871.53" stroke="#ff1a1a" stroke-width="0.95" fill="none"/>
<line x1="155.71" y1="860.17" x2="155.71" y2="859.15" stroke="#111" stroke-width="1.1" stroke-dasharray="3.4 2.4"/>
<line x1="154.51" y1="859.15" x2="156.91" y2="859.15" stroke="#111" stroke-width="1.1"/>
<rect x="153.08" y="860.17" width="5.26" height="6.77" stroke="#1a1aff" stroke-width="1.5" fill="none"/>
<line x1="153.08" y1="866.94" x2="158.34" y2="866.94" stroke="#ff1a1a" stroke-width="1.1"/>
<path d="M150.71 847.67H160.71M155.71 842.67V852.67" stroke="#ff1a1a" stroke-width="0.95" fill="none"/>
<path d="M150.71 838.65H160.71M155.71 833.65V843.65" stroke="#ff1a1a" stroke-width="0.95" fill="none"/>
<path d="M150.71 802.98H160.71M155.71 797.98V807.98" stroke="#ff1a1a" stroke-width="0.95" fill="none"/>
<path d="M150.71 768.95H160.71M155.71 763.95V773.95" stroke="#ff1a1a" stroke-width="0.95" fill="none"/>
<path d="M161.9 867.43H171.9M166.9 862.43V872.43" stroke="#ff1a1a" stroke-width="0.95" fill="none"/>
<path d="M161.9 859.15H171.9M166.9 854.15V864.15" stroke="#ff1a1a" stroke-width="0.95" fill="none"/>
</g>
<rect class="ax" x="27" y="764.5" width="145.5" height="109.75" fill="none" stroke="#2a2a2a" stroke-width="1.15"/>
<path class="ax" d="M32.6 874.25v-1.6M32.6 764.5v1.6M43.79 874.25v-1.6M43.79 764.5v1.6M54.98 874.25v-1.6M54.98 764.5v1.6M66.17 874.25v-1.6M66.17 764.5v1.6M77.37 874.25v-1.6M77.37 764.5v1.6M88.56 874.25v-1.6M88.56 764.5v1.6M99.75 874.25v-1.6M99.75 764.5v1.6M110.94 874.25v-1.6M110.94 764.5v1.6M122.13 874.25v-1.6M122.13 764.5v1.6M133.33 874.25v-1.6M133.33 764.5v1.6M144.52 874.25v-1.6M144.52 764.5v1.6M155.71 874.25v-1.6M155.71 764.5v1.6M166.9 874.25v-1.6M166.9 764.5v1.6M27 863.25h1.6M172.5 863.25h-1.6M27 842.75h1.6M172.5 842.75h-1.6M27 822.25h1.6M172.5 822.25h-1.6M27 801.75h1.6M172.5 801.75h-1.6M27 781.25h1.6M172.5 781.25h-1.6" stroke="#2a2a2a" stroke-width="0.9"/>
<text class="yt" x="24.4" y="866.95" text-anchor="end" font-size="9.6">0.5</text>
<text class="yt" x="24.4" y="846.45" text-anchor="end" font-size="9.6">1</text>
<text class="yt" x="24.4" y="825.95" text-anchor="end" font-size="9.6">1.5</text>
<text class="yt" x="24.4" y="805.45" text-anchor="end" font-size="9.6">2</text>
<text class="yt" x="24.4" y="784.95" text-anchor="end" font-size="9.6">2.5</text>
<text class="xt" transform="translate(36.47,876.25) rotate(-90)" text-anchor="end" font-size="10.2">CBOA</text>
<text class="xt" transform="translate(47.66,876.25) rotate(-90)" text-anchor="end" font-size="10.2">CMA</text>
<text class="xt" transform="translate(58.85,876.25) rotate(-90)" text-anchor="end" font-size="10.2">DE</text>
<text class="xt" transform="translate(70.05,876.25) rotate(-90)" text-anchor="end" font-size="10.2">HBA</text>
<text class="xt" transform="translate(81.24,876.25) rotate(-90)" text-anchor="end" font-size="10.2">MPA</text>
<text class="xt" transform="translate(92.43,876.25) rotate(-90)" text-anchor="end" font-size="10.2">TSA</text>
<text class="xt" transform="translate(103.62,876.25) rotate(-90)" text-anchor="end" font-size="10.2">WOA</text>
<text class="xt" transform="translate(114.81,876.25) rotate(-90)" text-anchor="end" font-size="10.2">MVO</text>
<text class="xt" transform="translate(126.01,876.25) rotate(-90)" text-anchor="end" font-size="10.2">GWO</text>
<text class="xt" transform="translate(137.2,876.25) rotate(-90)" text-anchor="end" font-size="10.2">TLBO</text>
<text class="xt" transform="translate(148.39,876.25) rotate(-90)" text-anchor="end" font-size="10.2">GSA</text>
<text class="xt" transform="translate(159.58,876.25) rotate(-90)" text-anchor="end" font-size="10.2">PSO</text>
<text class="xt" transform="translate(170.78,876.25) rotate(-90)" text-anchor="end" font-size="10.2">GA</text>
<text class="ti" x="99.75" y="761.85" text-anchor="middle" font-size="11" font-weight="bold" fill="#111">F17</text>
<text class="yl" transform="translate(7.85,819.38) rotate(-90)" text-anchor="middle" font-size="11.4" textLength="81" lengthAdjust="spacingAndGlyphs">objective function</text>
<text class="al" x="99.75" y="915.05" text-anchor="middle" font-size="11.2">algorithm</text>
<text class="sl" x="84.2" y="932.7" text-anchor="middle" font-size="17">(Q)</text>
<clipPath id="c18"><rect x="215.25" y="764.5" width="148" height="109.75"/></clipPath>
<g class="dat" clip-path="url(#c18)">
<line x1="217.87" y1="869.22" x2="224.02" y2="869.22" stroke="#ff1a1a" stroke-width="1.1"/>
<line x1="229.25" y1="869.22" x2="235.4" y2="869.22" stroke="#ff1a1a" stroke-width="1.1"/>
<line x1="240.64" y1="869.22" x2="246.79" y2="869.22" stroke="#ff1a1a" stroke-width="1.1"/>
<line x1="252.02" y1="869.22" x2="258.17" y2="869.22" stroke="#ff1a1a" stroke-width="1.1"/>
<line x1="263.41" y1="869.22" x2="269.56" y2="869.22" stroke="#ff1a1a" stroke-width="1.1"/>
<line x1="274.79" y1="869.22" x2="280.94" y2="869.22" stroke="#ff1a1a" stroke-width="1.1"/>
<line x1="286.17" y1="869.22" x2="292.33" y2="869.22" stroke="#ff1a1a" stroke-width="1.1"/>
<line x1="297.56" y1="869.22" x2="303.71" y2="869.22" stroke="#ff1a1a" stroke-width="1.1"/>
<line x1="308.94" y1="869.22" x2="315.09" y2="869.22" stroke="#ff1a1a" stroke-width="1.1"/>
<line x1="320.33" y1="869.22" x2="326.48" y2="869.22" stroke="#ff1a1a" stroke-width="1.1"/>
<line x1="331.71" y1="869.22" x2="337.86" y2="869.22" stroke="#ff1a1a" stroke-width="1.1"/>
<line x1="343.1" y1="869.22" x2="349.25" y2="869.22" stroke="#ff1a1a" stroke-width="1.1"/>
<line x1="354.48" y1="869.22" x2="360.63" y2="869.22" stroke="#ff1a1a" stroke-width="1.1"/>
<path d="M215.94 869.22H225.94M220.94 864.22V874.22" stroke="#ff1a1a" stroke-width="0.95" fill="none"/>
<path d="M227.33 869.22H237.33M232.33 864.22V874.22" stroke="#ff1a1a" stroke-width="0.95" fill="none"/>
<path d="M238.71 869.22H248.71M243.71 864.22V874.22" stroke="#ff1a1a" stroke-width="0.95" fill="none"/>
<path d="M250.1 869.22H260.1M255.1 864.22V874.22" stroke="#ff1a1a" stroke-width="0.95" fill="none"/>
<path d="M261.48 869.22H271.48M266.48 864.22V874.22" stroke="#ff1a1a" stroke-width="0.95" fill="none"/>
<path d="M284.25 869.22H294.25M289.25 864.22V874.22" stroke="#ff1a1a" stroke-width="0.95" fill="none"/>
<path d="M295.63 869.22H305.63M300.63 864.22V874.22" stroke="#ff1a1a" stroke-width="0.95" fill="none"/>
<path d="M318.4 869.22H328.4M323.4 864.22V874.22" stroke="#ff1a1a" stroke-width="0.95" fill="none"/>
<path d="M341.17 869.22H351.17M346.17 864.22V874.22" stroke="#ff1a1a" stroke-width="0.95" fill="none"/>
<path d="M352.56 869.22H362.56M357.56 864.22V874.22" stroke="#ff1a1a" stroke-width="0.95" fill="none"/>
<path d="M272.87 835.92H282.87M277.87 830.92V840.92" stroke="#ff1a1a" stroke-width="0.95" fill="none"/>
<path d="M272.87 769.32H282.87M277.87 764.32V774.32" stroke="#ff1a1a" stroke-width="0.95" fill="none"/>
</g>
<rect class="ax" x="215.25" y="764.5" width="148" height="109.75" fill="none" stroke="#2a2a2a" stroke-width="1.15"/>
<path class="ax" d="M220.94 874.25v-1.6M220.94 764.5v1.6M232.33 874.25v-1.6M232.33 764.5v1.6M243.71 874.25v-1.6M243.71 764.5v1.6M255.1 874.25v-1.6M255.1 764.5v1.6M266.48 874.25v-1.6M266.48 764.5v1.6M277.87 874.25v-1.6M277.87 764.5v1.6M289.25 874.25v-1.6M289.25 764.5v1.6M300.63 874.25v-1.6M300.63 764.5v1.6M312.02 874.25v-1.6M312.02 764.5v1.6M323.4 874.25v-1.6M323.4 764.5v1.6M334.79 874.25v-1.6M334.79 764.5v1.6M346.17 874.25v-1.6M346.17 764.5v1.6M357.56 874.25v-1.6M357.56 764.5v1.6M215.25 872.92h1.6M363.25 872.92h-1.6M215.25 848.25h1.6M363.25 848.25h-1.6M215.25 823.58h1.6M363.25 823.58h-1.6M215.25 798.92h1.6M363.25 798.92h-1.6M215.25 774.25h1.6M363.25 774.25h-1.6" stroke="#2a2a2a" stroke-width="0.9"/>
<text class="yt" x="212.65" y="876.62" text-anchor="end" font-size="9.6">0</text>
<text class="yt" x="212.65" y="851.95" text-anchor="end" font-size="9.6">20</text>
<text class="yt" x="212.65" y="827.28" text-anchor="end" font-size="9.6">40</text>
<text class="yt" x="212.65" y="802.62" text-anchor="end" font-size="9.6">60</text>
<text class="yt" x="212.65" y="777.95" text-anchor="end" font-size="9.6">80</text>
<text class="xt" transform="translate(224.81,876.25) rotate(-90)" text-anchor="end" font-size="10.2">CBOA</text>
<text class="xt" transform="translate(236.2,876.25) rotate(-90)" text-anchor="end" font-size="10.2">CMA</text>
<text class="xt" transform="translate(247.58,876.25) rotate(-90)" text-anchor="end" font-size="10.2">DE</text>
<text class="xt" transform="translate(258.97,876.25) rotate(-90)" text-anchor="end" font-size="10.2">HBA</text>
<text class="xt" transform="translate(270.35,876.25) rotate(-90)" text-anchor="end" font-size="10.2">MPA</text>
<text class="xt" transform="translate(281.74,876.25) rotate(-90)" text-anchor="end" font-size="10.2">TSA</text>
<text class="xt" transform="translate(293.12,876.25) rotate(-90)" text-anchor="end" font-size="10.2">WOA</text>
<text class="xt" transform="translate(304.51,876.25) rotate(-90)" text-anchor="end" font-size="10.2">MVO</text>
<text class="xt" transform="translate(315.89,876.25) rotate(-90)" text-anchor="end" font-size="10.2">GWO</text>
<text class="xt" transform="translate(327.28,876.25) rotate(-90)" text-anchor="end" font-size="10.2">TLBO</text>
<text class="xt" transform="translate(338.66,876.25) rotate(-90)" text-anchor="end" font-size="10.2">GSA</text>
<text class="xt" transform="translate(350.05,876.25) rotate(-90)" text-anchor="end" font-size="10.2">PSO</text>
<text class="xt" transform="translate(361.43,876.25) rotate(-90)" text-anchor="end" font-size="10.2">GA</text>
<text class="ti" x="289.25" y="761.85" text-anchor="middle" font-size="11" font-weight="bold" fill="#111">F18</text>
<text class="yl" transform="translate(198.65,819.38) rotate(-90)" text-anchor="middle" font-size="11.4" textLength="81" lengthAdjust="spacingAndGlyphs">objective function</text>
<text class="al" x="289.25" y="915.05" text-anchor="middle" font-size="11.2">algorithm</text>
<text class="sl" x="276" y="932.7" text-anchor="middle" font-size="17">(R)</text>
<clipPath id="c19"><rect x="424" y="764.5" width="132.5" height="109.75"/></clipPath>
<g class="dat" clip-path="url(#c19)">
<line x1="426.3" y1="864.36" x2="431.89" y2="864.36" stroke="#ff1a1a" stroke-width="1.1"/>
<line x1="436.49" y1="864.36" x2="442.08" y2="864.36" stroke="#ff1a1a" stroke-width="1.1"/>
<line x1="446.69" y1="864.36" x2="452.28" y2="864.36" stroke="#ff1a1a" stroke-width="1.1"/>
<line x1="456.88" y1="864.36" x2="462.47" y2="864.36" stroke="#ff1a1a" stroke-width="1.1"/>
<line x1="467.07" y1="864.36" x2="472.66" y2="864.36" stroke="#ff1a1a" stroke-width="1.1"/>
<line x1="477.26" y1="864.36" x2="482.85" y2="864.36" stroke="#ff1a1a" stroke-width="1.1"/>
<line x1="487.45" y1="864.36" x2="493.05" y2="864.36" stroke="#ff1a1a" stroke-width="1.1"/>
<line x1="497.65" y1="864.36" x2="503.24" y2="864.36" stroke="#ff1a1a" stroke-width="1.1"/>
<line x1="507.84" y1="864.36" x2="513.43" y2="864.36" stroke="#ff1a1a" stroke-width="1.1"/>
<line x1="518.03" y1="864.36" x2="523.62" y2="864.36" stroke="#ff1a1a" stroke-width="1.1"/>
<line x1="528.22" y1="864.36" x2="533.81" y2="864.36" stroke="#ff1a1a" stroke-width="1.1"/>
<line x1="538.42" y1="864.36" x2="544.01" y2="864.36" stroke="#ff1a1a" stroke-width="1.1"/>
<line x1="548.61" y1="864.36" x2="554.2" y2="864.36" stroke="#ff1a1a" stroke-width="1.1"/>
<path d="M424.1 864.36H434.1M429.1 859.36V869.36" stroke="#ff1a1a" stroke-width="0.95" fill="none"/>
<path d="M454.67 864.36H464.67M459.67 859.36V869.36" stroke="#ff1a1a" stroke-width="0.95" fill="none"/>
<path d="M454.67 769.8H464.67M459.67 764.8V774.8" stroke="#ff1a1a" stroke-width="0.95" fill="none"/>
<rect x="477.66" y="863.2" width="4.79" height="1.6" rx="1" stroke="#1a1aff" stroke-width="1.1" fill="#5a1a8a"/>
<line x1="477.66" y1="864" x2="482.45" y2="864" stroke="#ff1a1a" stroke-width="0.9"/>
<line x1="490.25" y1="807" x2="490.25" y2="769.8" stroke="#111" stroke-width="1.1" stroke-dasharray="3.4 2.4"/>
<line x1="489.05" y1="769.8" x2="491.45" y2="769.8" stroke="#111" stroke-width="1.1"/>
<line x1="490.25" y1="859.56" x2="490.25" y2="864.36" stroke="#111" stroke-width="1.1" stroke-dasharray="3.4 2.4"/>
<line x1="489.05" y1="864.36" x2="491.45" y2="864.36" stroke="#111" stroke-width="1.1"/>
<rect x="487.85" y="807" width="4.79" height="52.56" stroke="#1a1aff" stroke-width="1.1" fill="none"/>
<line x1="487.85" y1="844.68" x2="492.65" y2="844.68" stroke="#ff1a1a" stroke-width="1.1"/>
<line x1="510.63" y1="846.6" x2="510.63" y2="831" stroke="#111" stroke-width="1.1" stroke-dasharray="3.4 2.4"/>
<line x1="509.43" y1="831" x2="511.83" y2="831" stroke="#111" stroke-width="1.1"/>
<rect x="508.24" y="846.6" width="4.79" height="17.76" stroke="#1a1aff" stroke-width="1.4" fill="none"/>
<line x1="508.24" y1="864.36" x2="513.03" y2="864.36" stroke="#ff1a1a" stroke-width="1.1"/>
<path d="M505.63 769.8H515.63M510.63 764.8V774.8" stroke="#ff1a1a" stroke-width="0.95" fill="none"/>
<path d="M505.63 789H515.63M510.63 784V794" stroke="#ff1a1a" stroke-width="0.95" fill="none"/>
<line x1="520.83" y1="857.4" x2="520.83" y2="853.8" stroke="#111" stroke-width="1.1" stroke-dasharray="3.4 2.4"/>
<line x1="519.63" y1="853.8" x2="522.03" y2="853.8" stroke="#111" stroke-width="1.1"/>
<line x1="520.83" y1="861" x2="520.83" y2="863.16" stroke="#111" stroke-width="1.1" stroke-dasharray="3.4 2.4"/>
<line x1="519.63" y1="863.16" x2="522.03" y2="863.16" stroke="#111" stroke-width="1.1"/>
<rect x="518.43" y="857.4" width="4.79" height="3.6" stroke="#1a1aff" stroke-width="1.5" fill="none"/>
<line x1="518.43" y1="859.2" x2="523.22" y2="859.2" stroke="#ff1a1a" stroke-width="1.1"/>
<path d="M515.83 769.8H525.83M520.83 764.8V774.8" stroke="#ff1a1a" stroke-width="0.95" fill="none"/>
<path d="M515.83 783H525.83M520.83 778V788" stroke="#ff1a1a" stroke-width="0.95" fill="none"/>
<path d="M547 859.8H555.8M551.4 855.4V864.2" stroke="#ff1a1a" stroke-width="1.5" fill="none"/>
<rect x="549.01" y="863.66" width="4.79" height="1.4" rx="1" stroke="#1a1aff" stroke-width="1.1" fill="#5a1a8a"/>
<line x1="549.01" y1="864.36" x2="553.8" y2="864.36" stroke="#ff1a1a" stroke-width="0.9"/>
</g>
<rect class="ax" x="424" y="764.5" width="132.5" height="109.75" fill="none" stroke="#2a2a2a" stroke-width="1.15"/>
<path class="ax" d="M429.1 874.25v-1.6M429.1 764.5v1.6M439.29 874.25v-1.6M439.29 764.5v1.6M449.48 874.25v-1.6M449.48 764.5v1.6M459.67 874.25v-1.6M459.67 764.5v1.6M469.87 874.25v-1.6M469.87 764.5v1.6M480.06 874.25v-1.6M480.06 764.5v1.6M490.25 874.25v-1.6M490.25 764.5v1.6M500.44 874.25v-1.6M500.44 764.5v1.6M510.63 874.25v-1.6M510.63 764.5v1.6M520.83 874.25v-1.6M520.83 764.5v1.6M531.02 874.25v-1.6M531.02 764.5v1.6M541.21 874.25v-1.6M541.21 764.5v1.6M551.4 874.25v-1.6M551.4 764.5v1.6M424 783h1.6M556.5 783h-1.6M424 807h1.6M556.5 807h-1.6M424 831h1.6M556.5 831h-1.6M424 855h1.6M556.5 855h-1.6" stroke="#2a2a2a" stroke-width="0.9"/>
<text class="yt" x="421.4" y="786.7" text-anchor="end" font-size="9.6">-3.856</text>
<text class="yt" x="421.4" y="810.7" text-anchor="end" font-size="9.6">-3.858</text>
<text class="yt" x="421.4" y="834.7" text-anchor="end" font-size="9.6">-3.86</text>
<text class="yt" x="421.4" y="858.7" text-anchor="end" font-size="9.6">-3.862</text>
<text class="xt" transform="translate(432.97,876.25) rotate(-90)" text-anchor="end" font-size="10.2">CBOA</text>
<text class="xt" transform="translate(443.16,876.25) rotate(-90)" text-anchor="end" font-size="10.2">CMA</text>
<text class="xt" transform="translate(453.35,876.25) rotate(-90)" text-anchor="end" font-size="10.2">DE</text>
<text class="xt" transform="translate(463.55,876.25) rotate(-90)" text-anchor="end" font-size="10.2">HBA</text>
<text class="xt" transform="translate(473.74,876.25) rotate(-90)" text-anchor="end" font-size="10.2">MPA</text>
<text class="xt" transform="translate(483.93,876.25) rotate(-90)" text-anchor="end" font-size="10.2">TSA</text>
<text class="xt" transform="translate(494.12,876.25) rotate(-90)" text-anchor="end" font-size="10.2">WOA</text>
<text class="xt" transform="translate(504.31,876.25) rotate(-90)" text-anchor="end" font-size="10.2">MVO</text>
<text class="xt" transform="translate(514.51,876.25) rotate(-90)" text-anchor="end" font-size="10.2">GWO</text>
<text class="xt" transform="translate(524.7,876.25) rotate(-90)" text-anchor="end" font-size="10.2">TLBO</text>
<text class="xt" transform="translate(534.89,876.25) rotate(-90)" text-anchor="end" font-size="10.2">GSA</text>
<text class="xt" transform="translate(545.08,876.25) rotate(-90)" text-anchor="end" font-size="10.2">PSO</text>
<text class="xt" transform="translate(555.28,876.25) rotate(-90)" text-anchor="end" font-size="10.2">GA</text>
<text class="ti" x="490.25" y="761.85" text-anchor="middle" font-size="11" font-weight="bold" fill="#111">F19</text>
<text class="yl" transform="translate(392.7,819.38) rotate(-90)" text-anchor="middle" font-size="11.4" textLength="81" lengthAdjust="spacingAndGlyphs">objective function</text>
<text class="al" x="490.25" y="915.05" text-anchor="middle" font-size="11.2">algorithm</text>
<text class="sl" x="469" y="932.7" text-anchor="middle" font-size="17">(S)</text>
<clipPath id="c20"><rect x="607" y="764.5" width="141.5" height="109.75"/></clipPath>
<g class="dat" clip-path="url(#c20)">
<path d="M607.44 859.88H617.44M612.44 854.88V864.88" stroke="#ff1a1a" stroke-width="0.95" fill="none"/>
<rect x="620.77" y="837" width="5.12" height="22.88" stroke="#1a1aff" stroke-width="1.4" fill="none"/>
<line x1="620.77" y1="848.81" x2="625.88" y2="848.81" stroke="#ff1a1a" stroke-width="1.1"/>
<path d="M629.81 859.88H638.61M634.21 855.48V864.27" stroke="#ff1a1a" stroke-width="1.5" fill="none"/>
<line x1="631.25" y1="859.88" x2="637.17" y2="859.88" stroke="#ff1a1a" stroke-width="1.1"/>
<path d="M629.21 837H639.21M634.21 832V842" stroke="#ff1a1a" stroke-width="0.95" fill="none"/>
<line x1="645.1" y1="837" x2="645.1" y2="815.44" stroke="#111" stroke-width="1.1" stroke-dasharray="3.4 2.4"/>
<line x1="643.9" y1="815.44" x2="646.3" y2="815.44" stroke="#111" stroke-width="1.1"/>
<rect x="642.54" y="837" width="5.12" height="22.88" stroke="#1a1aff" stroke-width="1.4" fill="none"/>
<line x1="642.54" y1="837" x2="647.65" y2="837" stroke="#ff1a1a" stroke-width="1.1"/>
<path d="M650.98 859.88H660.98M655.98 854.88V864.88" stroke="#ff1a1a" stroke-width="0.95" fill="none"/>
<line x1="666.87" y1="837" x2="666.87" y2="825.19" stroke="#111" stroke-width="1.1" stroke-dasharray="3.4 2.4"/>
<line x1="665.67" y1="825.19" x2="668.07" y2="825.19" stroke="#111" stroke-width="1.1"/>
<rect x="664.31" y="837" width="5.12" height="22.88" stroke="#1a1aff" stroke-width="1.3" fill="none"/>
<line x1="664.31" y1="859.88" x2="669.42" y2="859.88" stroke="#ff1a1a" stroke-width="1.1"/>
<path d="M661.87 769.5H671.87M666.87 764.5V774.5" stroke="#ff1a1a" stroke-width="0.95" fill="none"/>
<line x1="677.75" y1="832.31" x2="677.75" y2="815.44" stroke="#111" stroke-width="1.1" stroke-dasharray="3.4 2.4"/>
<line x1="676.55" y1="815.44" x2="678.95" y2="815.44" stroke="#111" stroke-width="1.1"/>
<rect x="675.19" y="832.31" width="5.12" height="27.56" stroke="#1a1aff" stroke-width="1.3" fill="none"/>
<line x1="675.19" y1="859.88" x2="680.31" y2="859.88" stroke="#ff1a1a" stroke-width="1.1"/>
<path d="M672.75 769.5H682.75M677.75 764.5V774.5" stroke="#ff1a1a" stroke-width="0.95" fill="none"/>
<rect x="686.08" y="837" width="5.12" height="22.88" stroke="#1a1aff" stroke-width="1.3" fill="none"/>
<line x1="686.08" y1="837" x2="691.19" y2="837" stroke="#ff1a1a" stroke-width="1.1"/>
<line x1="699.52" y1="837" x2="699.52" y2="815.44" stroke="#111" stroke-width="1.1" stroke-dasharray="3.4 2.4"/>
<line x1="698.32" y1="815.44" x2="700.72" y2="815.44" stroke="#111" stroke-width="1.1"/>
<rect x="696.96" y="837" width="5.12" height="22.88" stroke="#1a1aff" stroke-width="1.4" fill="none"/>
<line x1="696.96" y1="859.88" x2="702.08" y2="859.88" stroke="#ff1a1a" stroke-width="1.1"/>
<line x1="710.4" y1="845.81" x2="710.4" y2="835.12" stroke="#111" stroke-width="1.1" stroke-dasharray="3.4 2.4"/>
<line x1="709.2" y1="835.12" x2="711.6" y2="835.12" stroke="#111" stroke-width="1.1"/>
<line x1="710.4" y1="855.75" x2="710.4" y2="859.5" stroke="#111" stroke-width="1.1" stroke-dasharray="3.4 2.4"/>
<line x1="709.2" y1="859.5" x2="711.6" y2="859.5" stroke="#111" stroke-width="1.1"/>
<rect x="707.85" y="845.81" width="5.12" height="9.94" stroke="#1a1aff" stroke-width="1.3" fill="none"/>
<line x1="707.85" y1="855.19" x2="712.96" y2="855.19" stroke="#ff1a1a" stroke-width="1.1"/>
<path d="M716.29 859.88H726.29M721.29 854.88V864.88" stroke="#ff1a1a" stroke-width="0.95" fill="none"/>
<line x1="732.17" y1="848.62" x2="732.17" y2="837" stroke="#111" stroke-width="1.1" stroke-dasharray="3.4 2.4"/>
<line x1="730.97" y1="837" x2="733.37" y2="837" stroke="#111" stroke-width="1.1"/>
<rect x="729.62" y="848.62" width="5.12" height="11.25" stroke="#1a1aff" stroke-width="1.4" fill="none"/>
<line x1="729.62" y1="859.88" x2="734.73" y2="859.88" stroke="#ff1a1a" stroke-width="1.1"/>
<path d="M727.17 825.75H737.17M732.17 820.75V830.75" stroke="#ff1a1a" stroke-width="0.95" fill="none"/>
<line x1="743.06" y1="828" x2="743.06" y2="810.38" stroke="#111" stroke-width="1.1" stroke-dasharray="3.4 2.4"/>
<line x1="741.86" y1="810.38" x2="744.26" y2="810.38" stroke="#111" stroke-width="1.1"/>
<line x1="743.06" y1="846.38" x2="743.06" y2="856.88" stroke="#111" stroke-width="1.1" stroke-dasharray="3.4 2.4"/>
<line x1="741.86" y1="856.88" x2="744.26" y2="856.88" stroke="#111" stroke-width="1.1"/>
<rect x="740.5" y="828" width="5.12" height="18.38" stroke="#1a1aff" stroke-width="1.4" fill="none"/>
<line x1="740.5" y1="836.25" x2="745.62" y2="836.25" stroke="#ff1a1a" stroke-width="1.1"/>
</g>
<path class="ax" d="M748.5 764.5H607V874.25H748.5" fill="none" stroke="#2a2a2a" stroke-width="1.15"/>
<path class="ax" d="M748.5 764.5V874.25" fill="none" stroke="#8a8a8a" stroke-width="1.15"/>
<path class="ax" d="M612.44 874.25v-1.6M612.44 764.5v1.6M623.33 874.25v-1.6M623.33 764.5v1.6M634.21 874.25v-1.6M634.21 764.5v1.6M645.1 874.25v-1.6M645.1 764.5v1.6M655.98 874.25v-1.6M655.98 764.5v1.6M666.87 874.25v-1.6M666.87 764.5v1.6M677.75 874.25v-1.6M677.75 764.5v1.6M688.63 874.25v-1.6M688.63 764.5v1.6M699.52 874.25v-1.6M699.52 764.5v1.6M710.4 874.25v-1.6M710.4 764.5v1.6M721.29 874.25v-1.6M721.29 764.5v1.6M732.17 874.25v-1.6M732.17 764.5v1.6M743.06 874.25v-1.6M743.06 764.5v1.6M607 780.75h1.6M748.5 780.75h-1.6M607 799.5h1.6M748.5 799.5h-1.6M607 818.25h1.6M748.5 818.25h-1.6M607 837h1.6M748.5 837h-1.6M607 855.75h1.6M748.5 855.75h-1.6" stroke="#2a2a2a" stroke-width="0.9"/>
<text class="yt" x="604.4" y="784.45" text-anchor="end" font-size="9.6">-2.9</text>
<text class="yt" x="604.4" y="803.2" text-anchor="end" font-size="9.6">-3</text>
<text class="yt" x="604.4" y="821.95" text-anchor="end" font-size="9.6">-3.1</text>
<text class="yt" x="604.4" y="840.7" text-anchor="end" font-size="9.6">-3.2</text>
<text class="yt" x="604.4" y="859.45" text-anchor="end" font-size="9.6">-3.3</text>
<text class="xt" transform="translate(616.31,876.25) rotate(-90)" text-anchor="end" font-size="10.2">CBOA</text>
<text class="xt" transform="translate(627.2,876.25) rotate(-90)" text-anchor="end" font-size="10.2">CMA</text>
<text class="xt" transform="translate(638.08,876.25) rotate(-90)" text-anchor="end" font-size="10.2">DE</text>
<text class="xt" transform="translate(648.97,876.25) rotate(-90)" text-anchor="end" font-size="10.2">HBA</text>
<text class="xt" transform="translate(659.85,876.25) rotate(-90)" text-anchor="end" font-size="10.2">MPA</text>
<text class="xt" transform="translate(670.74,876.25) rotate(-90)" text-anchor="end" font-size="10.2">TSA</text>
<text class="xt" transform="translate(681.62,876.25) rotate(-90)" text-anchor="end" font-size="10.2">WOA</text>
<text class="xt" transform="translate(692.51,876.25) rotate(-90)" text-anchor="end" font-size="10.2">MVO</text>
<text class="xt" transform="translate(703.39,876.25) rotate(-90)" text-anchor="end" font-size="10.2">GWO</text>
<text class="xt" transform="translate(714.28,876.25) rotate(-90)" text-anchor="end" font-size="10.2">TLBO</text>
<text class="xt" transform="translate(725.16,876.25) rotate(-90)" text-anchor="end" font-size="10.2">GSA</text>
<text class="xt" transform="translate(736.05,876.25) rotate(-90)" text-anchor="end" font-size="10.2">PSO</text>
<text class="xt" transform="translate(746.93,876.25) rotate(-90)" text-anchor="end" font-size="10.2">GA</text>
<text class="ti" x="677.75" y="761.85" text-anchor="middle" font-size="11" font-weight="bold" fill="#111">F20</text>
<text class="yl" transform="translate(585.2,819.38) rotate(-90)" text-anchor="middle" font-size="11.4" textLength="81" lengthAdjust="spacingAndGlyphs">objective function</text>
<text class="al" x="677.75" y="915.05" text-anchor="middle" font-size="11.2">algorithm</text>
<text class="sl" x="661.2" y="932.7" text-anchor="middle" font-size="17">(T)</text>
<clipPath id="c23"><rect x="65.5" y="952.4" width="144.1" height="110.2"/></clipPath>
<g class="dat" clip-path="url(#c23)">
<line x1="68.04" y1="1040.76" x2="74.05" y2="1040.76" stroke="#ff1a1a" stroke-width="1.1"/>
<path d="M77.13 968.76H87.13M82.13 963.76V973.76" stroke="#ff1a1a" stroke-width="0.95" fill="none"/>
<path d="M77.13 1040.76H87.13M82.13 1035.76V1045.76" stroke="#ff1a1a" stroke-width="0.95" fill="none"/>
<line x1="79.12" y1="1040.76" x2="85.13" y2="1040.76" stroke="#ff1a1a" stroke-width="1.1"/>
<path d="M88.21 1032.76H98.21M93.21 1027.76V1037.76" stroke="#ff1a1a" stroke-width="0.95" fill="none"/>
<line x1="90.21" y1="1040.76" x2="96.22" y2="1040.76" stroke="#ff1a1a" stroke-width="1.1"/>
<path d="M99.3 968.76H109.3M104.3 963.76V973.76" stroke="#ff1a1a" stroke-width="0.95" fill="none"/>
<path d="M99.3 982.09H109.3M104.3 977.09V987.09" stroke="#ff1a1a" stroke-width="0.95" fill="none"/>
<line x1="101.29" y1="1040.76" x2="107.3" y2="1040.76" stroke="#ff1a1a" stroke-width="1.1"/>
<line x1="112.38" y1="1040.76" x2="118.39" y2="1040.76" stroke="#ff1a1a" stroke-width="1.1"/>
<line x1="126.47" y1="968.76" x2="126.47" y2="961.64" stroke="#111" stroke-width="1.1" stroke-dasharray="3.4 2.4"/>
<line x1="125.27" y1="961.64" x2="127.67" y2="961.64" stroke="#111" stroke-width="1.1"/>
<rect x="123.86" y="968.76" width="5.21" height="71.12" stroke="#1a1aff" stroke-width="1.3" fill="none"/>
<line x1="123.86" y1="992.76" x2="129.07" y2="992.76" stroke="#ff1a1a" stroke-width="1.1"/>
<line x1="137.55" y1="992.76" x2="137.55" y2="972.31" stroke="#111" stroke-width="1.1" stroke-dasharray="3.4 2.4"/>
<line x1="136.35" y1="972.31" x2="138.75" y2="972.31" stroke="#111" stroke-width="1.1"/>
<rect x="134.95" y="992.76" width="5.21" height="48.01" stroke="#1a1aff" stroke-width="1.3" fill="none"/>
<line x1="134.95" y1="1040.76" x2="140.15" y2="1040.76" stroke="#ff1a1a" stroke-width="1.1"/>
<line x1="148.63" y1="1016.76" x2="148.63" y2="992.76" stroke="#111" stroke-width="1.1" stroke-dasharray="3.4 2.4"/>
<line x1="147.43" y1="992.76" x2="149.83" y2="992.76" stroke="#111" stroke-width="1.1"/>
<rect x="146.03" y="1016.76" width="5.21" height="24" stroke="#1a1aff" stroke-width="1.3" fill="none"/>
<line x1="146.03" y1="1040.76" x2="151.24" y2="1040.76" stroke="#ff1a1a" stroke-width="1.1"/>
<path d="M143.63 968.76H153.63M148.63 963.76V973.76" stroke="#ff1a1a" stroke-width="0.95" fill="none"/>
<path d="M154.72 968.76H164.72M159.72 963.76V973.76" stroke="#ff1a1a" stroke-width="0.95" fill="none"/>
<path d="M154.72 992.76H164.72M159.72 987.76V997.76" stroke="#ff1a1a" stroke-width="0.95" fill="none"/>
<line x1="156.71" y1="1040.76" x2="162.72" y2="1040.76" stroke="#ff1a1a" stroke-width="1.1"/>
<line x1="170.8" y1="990.09" x2="170.8" y2="979.42" stroke="#111" stroke-width="1.1" stroke-dasharray="3.4 2.4"/>
<line x1="169.6" y1="979.42" x2="172" y2="979.42" stroke="#111" stroke-width="1.1"/>
<line x1="170.8" y1="1027.43" x2="170.8" y2="1035.43" stroke="#111" stroke-width="1.1" stroke-dasharray="3.4 2.4"/>
<line x1="169.6" y1="1035.43" x2="172" y2="1035.43" stroke="#111" stroke-width="1.1"/>
<rect x="168.2" y="990.09" width="5.21" height="37.34" stroke="#1a1aff" stroke-width="1.3" fill="none"/>
<line x1="168.2" y1="1024.76" x2="173.41" y2="1024.76" stroke="#ff1a1a" stroke-width="1.1"/>
<path d="M176.89 1010.54H186.89M181.89 1005.54V1015.54" stroke="#ff1a1a" stroke-width="0.95" fill="none"/>
<path d="M176.89 1040.76H186.89M181.89 1035.76V1045.76" stroke="#ff1a1a" stroke-width="0.95" fill="none"/>
<line x1="192.97" y1="972.31" x2="192.97" y2="968.76" stroke="#111" stroke-width="1.1" stroke-dasharray="3.4 2.4"/>
<line x1="191.77" y1="968.76" x2="194.17" y2="968.76" stroke="#111" stroke-width="1.1"/>
<rect x="190.37" y="972.31" width="5.21" height="68.45" stroke="#1a1aff" stroke-width="1.5" fill="none"/>
<line x1="190.37" y1="981.2" x2="195.58" y2="981.2" stroke="#ff1a1a" stroke-width="1.1"/>
<line x1="204.06" y1="972.31" x2="204.06" y2="968.76" stroke="#111" stroke-width="1.1" stroke-dasharray="3.4 2.4"/>
<line x1="202.86" y1="968.76" x2="205.26" y2="968.76" stroke="#111" stroke-width="1.1"/>
<line x1="204.06" y1="1025.65" x2="204.06" y2="1036.32" stroke="#111" stroke-width="1.1" stroke-dasharray="3.4 2.4"/>
<line x1="202.86" y1="1036.32" x2="205.26" y2="1036.32" stroke="#111" stroke-width="1.1"/>
<rect x="201.45" y="972.31" width="5.21" height="53.34" stroke="#1a1aff" stroke-width="1.5" fill="none"/>
<line x1="201.45" y1="1015.87" x2="206.66" y2="1015.87" stroke="#ff1a1a" stroke-width="1.1"/>
</g>
<rect class="ax" x="65.5" y="952.4" width="144.1" height="110.2" fill="none" stroke="#2a2a2a" stroke-width="1.15"/>
<path class="ax" d="M71.04 1062.6v-1.6M71.04 952.4v1.6M82.13 1062.6v-1.6M82.13 952.4v1.6M93.21 1062.6v-1.6M93.21 952.4v1.6M104.3 1062.6v-1.6M104.3 952.4v1.6M115.38 1062.6v-1.6M115.38 952.4v1.6M126.47 1062.6v-1.6M126.47 952.4v1.6M137.55 1062.6v-1.6M137.55 952.4v1.6M148.63 1062.6v-1.6M148.63 952.4v1.6M159.72 1062.6v-1.6M159.72 952.4v1.6M170.8 1062.6v-1.6M170.8 952.4v1.6M181.89 1062.6v-1.6M181.89 952.4v1.6M192.97 1062.6v-1.6M192.97 952.4v1.6M204.06 1062.6v-1.6M204.06 952.4v1.6M65.5 965.2h1.6M209.6 965.2h-1.6M65.5 982.98h1.6M209.6 982.98h-1.6M65.5 1000.76h1.6M209.6 1000.76h-1.6M65.5 1018.54h1.6M209.6 1018.54h-1.6M65.5 1036.32h1.6M209.6 1036.32h-1.6M65.5 1054.1h1.6M209.6 1054.1h-1.6" stroke="#2a2a2a" stroke-width="0.9"/>
<text class="yt" x="62.9" y="968.9" text-anchor="end" font-size="9.6">-2</text>
<text class="yt" x="62.9" y="986.68" text-anchor="end" font-size="9.6">-4</text>
<text class="yt" x="62.9" y="1004.46" text-anchor="end" font-size="9.6">-6</text>
<text class="yt" x="62.9" y="1022.24" text-anchor="end" font-size="9.6">-8</text>
<text class="yt" x="62.9" y="1040.02" text-anchor="end" font-size="9.6">-10</text>
<text class="yt" x="62.9" y="1057.8" text-anchor="end" font-size="9.6">-12</text>
<text class="xt" transform="translate(74.91,1064.6) rotate(-90)" text-anchor="end" font-size="10.2">CBOA</text>
<text class="xt" transform="translate(86,1064.6) rotate(-90)" text-anchor="end" font-size="10.2">CMA</text>
<text class="xt" transform="translate(97.08,1064.6) rotate(-90)" text-anchor="end" font-size="10.2">DE</text>
<text class="xt" transform="translate(108.17,1064.6) rotate(-90)" text-anchor="end" font-size="10.2">HBA</text>
<text class="xt" transform="translate(119.25,1064.6) rotate(-90)" text-anchor="end" font-size="10.2">MPA</text>
<text class="xt" transform="translate(130.34,1064.6) rotate(-90)" text-anchor="end" font-size="10.2">TSA</text>
<text class="xt" transform="translate(141.42,1064.6) rotate(-90)" text-anchor="end" font-size="10.2">WOA</text>
<text class="xt" transform="translate(152.51,1064.6) rotate(-90)" text-anchor="end" font-size="10.2">MVO</text>
<text class="xt" transform="translate(163.59,1064.6) rotate(-90)" text-anchor="end" font-size="10.2">GWO</text>
<text class="xt" transform="translate(174.68,1064.6) rotate(-90)" text-anchor="end" font-size="10.2">TLBO</text>
<text class="xt" transform="translate(185.76,1064.6) rotate(-90)" text-anchor="end" font-size="10.2">GSA</text>
<text class="xt" transform="translate(196.85,1064.6) rotate(-90)" text-anchor="end" font-size="10.2">PSO</text>
<text class="xt" transform="translate(207.93,1064.6) rotate(-90)" text-anchor="end" font-size="10.2">GA</text>
<text class="ti" x="137.55" y="949.1" text-anchor="middle" font-size="11" font-weight="bold" fill="#111">F23</text>
<text class="yl" transform="translate(45.4,1007.5) rotate(-90)" text-anchor="middle" font-size="11.4" textLength="80.5" lengthAdjust="spacingAndGlyphs">objective function</text>
<text class="al" x="137.55" y="1103.3" text-anchor="middle" font-size="11.2">algorithm</text>
<text class="sl" x="132.5" y="1121.5" text-anchor="middle" font-size="17">(U)</text>
<clipPath id="c22"><rect x="315.5" y="952.4" width="143.8" height="110.2"/></clipPath>
<g class="dat" clip-path="url(#c22)">
<path d="M316.03 1032.64H326.03M321.03 1027.64V1037.64" stroke="#ff1a1a" stroke-width="0.95" fill="none"/>
<line x1="318.03" y1="1032.64" x2="324.03" y2="1032.64" stroke="#ff1a1a" stroke-width="1.1"/>
<path d="M327.09 959.68H337.09M332.09 954.68V964.68" stroke="#ff1a1a" stroke-width="0.95" fill="none"/>
<line x1="329.09" y1="1032.64" x2="335.09" y2="1032.64" stroke="#ff1a1a" stroke-width="1.1"/>
<path d="M338.75 1032.64H347.55M343.15 1028.24V1037.04" stroke="#ff1a1a" stroke-width="1.6" fill="none"/>
<line x1="340.15" y1="1032.64" x2="346.15" y2="1032.64" stroke="#ff1a1a" stroke-width="1.1"/>
<path d="M349.22 959.68H359.22M354.22 954.68V964.68" stroke="#ff1a1a" stroke-width="0.95" fill="none"/>
<path d="M349.22 1032.64H359.22M354.22 1027.64V1037.64" stroke="#ff1a1a" stroke-width="0.95" fill="none"/>
<line x1="351.22" y1="1032.64" x2="357.21" y2="1032.64" stroke="#ff1a1a" stroke-width="1.1"/>
<line x1="362.28" y1="1032.64" x2="368.28" y2="1032.64" stroke="#ff1a1a" stroke-width="1.1"/>
<line x1="376.34" y1="968.74" x2="376.34" y2="959.68" stroke="#111" stroke-width="1.1" stroke-dasharray="3.4 2.4"/>
<line x1="375.14" y1="959.68" x2="377.54" y2="959.68" stroke="#111" stroke-width="1.1"/>
<line x1="376.34" y1="1029.78" x2="376.34" y2="1031.69" stroke="#111" stroke-width="1.1" stroke-dasharray="3.4 2.4"/>
<line x1="375.14" y1="1031.69" x2="377.54" y2="1031.69" stroke="#111" stroke-width="1.1"/>
<rect x="373.74" y="968.74" width="5.2" height="61.04" stroke="#1a1aff" stroke-width="1.3" fill="none"/>
<line x1="373.74" y1="1029.78" x2="378.94" y2="1029.78" stroke="#ff1a1a" stroke-width="1.1"/>
<line x1="387.4" y1="1028.83" x2="387.4" y2="1025.96" stroke="#111" stroke-width="1.1" stroke-dasharray="3.4 2.4"/>
<line x1="386.2" y1="1025.96" x2="388.6" y2="1025.96" stroke="#111" stroke-width="1.1"/>
<rect x="384.8" y="1028.83" width="5.2" height="3.82" stroke="#1a1aff" stroke-width="1.3" fill="none"/>
<line x1="384.8" y1="1030.73" x2="390" y2="1030.73" stroke="#ff1a1a" stroke-width="1.1"/>
<path d="M382.4 959.68H392.4M387.4 954.68V964.68" stroke="#ff1a1a" stroke-width="0.95" fill="none"/>
<path d="M382.4 968.74H392.4M387.4 963.74V973.74" stroke="#ff1a1a" stroke-width="0.95" fill="none"/>
<path d="M382.4 982.09H392.4M387.4 977.09V987.09" stroke="#ff1a1a" stroke-width="0.95" fill="none"/>
<path d="M393.46 982.09H403.46M398.46 977.09V987.09" stroke="#ff1a1a" stroke-width="0.95" fill="none"/>
<line x1="395.46" y1="1032.64" x2="401.46" y2="1032.64" stroke="#ff1a1a" stroke-width="1.1"/>
<path d="M404.52 982.09H414.52M409.52 977.09V987.09" stroke="#ff1a1a" stroke-width="0.95" fill="none"/>
<line x1="406.52" y1="1032.64" x2="412.52" y2="1032.64" stroke="#ff1a1a" stroke-width="1.1"/>
<line x1="420.58" y1="1009.75" x2="420.58" y2="1005.94" stroke="#111" stroke-width="1.1" stroke-dasharray="3.4 2.4"/>
<line x1="419.38" y1="1005.94" x2="421.78" y2="1005.94" stroke="#111" stroke-width="1.1"/>
<line x1="420.58" y1="1019.29" x2="420.58" y2="1025.96" stroke="#111" stroke-width="1.1" stroke-dasharray="3.4 2.4"/>
<line x1="419.38" y1="1025.96" x2="421.78" y2="1025.96" stroke="#111" stroke-width="1.1"/>
<rect x="417.99" y="1009.75" width="5.2" height="9.54" stroke="#1a1aff" stroke-width="1.3" fill="none"/>
<line x1="417.99" y1="1014.52" x2="423.18" y2="1014.52" stroke="#ff1a1a" stroke-width="1.1"/>
<path d="M415.58 975.03H425.58M420.58 970.03V980.03" stroke="#ff1a1a" stroke-width="0.95" fill="none"/>
<path d="M415.58 977.32H425.58M420.58 972.32V982.32" stroke="#ff1a1a" stroke-width="0.95" fill="none"/>
<path d="M415.58 979.33H425.58M420.58 974.33V984.33" stroke="#ff1a1a" stroke-width="0.95" fill="none"/>
<path d="M426.65 990.68H436.65M431.65 985.68V995.68" stroke="#ff1a1a" stroke-width="0.95" fill="none"/>
<line x1="428.65" y1="1032.64" x2="434.65" y2="1032.64" stroke="#ff1a1a" stroke-width="1.1"/>
<rect x="440.11" y="959.68" width="5.2" height="72.96" stroke="#1a1aff" stroke-width="1.8" fill="none"/>
<line x1="440.11" y1="1032.64" x2="445.31" y2="1032.64" stroke="#ff1a1a" stroke-width="1.1"/>
<line x1="453.77" y1="961.11" x2="453.77" y2="957.29" stroke="#111" stroke-width="1.1" stroke-dasharray="3.4 2.4"/>
<line x1="452.57" y1="957.29" x2="454.97" y2="957.29" stroke="#111" stroke-width="1.1"/>
<line x1="453.77" y1="1016.43" x2="453.77" y2="1028.83" stroke="#111" stroke-width="1.1" stroke-dasharray="3.4 2.4"/>
<line x1="452.57" y1="1028.83" x2="454.97" y2="1028.83" stroke="#111" stroke-width="1.1"/>
<rect x="451.17" y="961.11" width="5.2" height="55.32" stroke="#1a1aff" stroke-width="1.4" fill="none"/>
<line x1="451.17" y1="992.58" x2="456.37" y2="992.58" stroke="#ff1a1a" stroke-width="1.1"/>
</g>
<rect class="ax" x="315.5" y="952.4" width="143.8" height="110.2" fill="none" stroke="#2a2a2a" stroke-width="1.15"/>
<path class="ax" d="M321.03 1062.6v-1.6M321.03 952.4v1.6M332.09 1062.6v-1.6M332.09 952.4v1.6M343.15 1062.6v-1.6M343.15 952.4v1.6M354.22 1062.6v-1.6M354.22 952.4v1.6M365.28 1062.6v-1.6M365.28 952.4v1.6M376.34 1062.6v-1.6M376.34 952.4v1.6M387.4 1062.6v-1.6M387.4 952.4v1.6M398.46 1062.6v-1.6M398.46 952.4v1.6M409.52 1062.6v-1.6M409.52 952.4v1.6M420.58 1062.6v-1.6M420.58 952.4v1.6M431.65 1062.6v-1.6M431.65 952.4v1.6M442.71 1062.6v-1.6M442.71 952.4v1.6M453.77 1062.6v-1.6M453.77 952.4v1.6M315.5 971.6h1.6M459.3 971.6h-1.6M315.5 990.68h1.6M459.3 990.68h-1.6M315.5 1009.75h1.6M459.3 1009.75h-1.6M315.5 1028.83h1.6M459.3 1028.83h-1.6M315.5 1047.9h1.6M459.3 1047.9h-1.6" stroke="#2a2a2a" stroke-width="0.9"/>
<text class="yt" x="312.9" y="975.3" text-anchor="end" font-size="9.6">-4</text>
<text class="yt" x="312.9" y="994.38" text-anchor="end" font-size="9.6">-6</text>
<text class="yt" x="312.9" y="1013.45" text-anchor="end" font-size="9.6">-8</text>
<text class="yt" x="312.9" y="1032.53" text-anchor="end" font-size="9.6">-10</text>
<text class="yt" x="312.9" y="1051.6" text-anchor="end" font-size="9.6">-12</text>
<text class="xt" transform="translate(324.9,1064.6) rotate(-90)" text-anchor="end" font-size="10.2">CBOA</text>
<text class="xt" transform="translate(335.96,1064.6) rotate(-90)" text-anchor="end" font-size="10.2">CMA</text>
<text class="xt" transform="translate(347.03,1064.6) rotate(-90)" text-anchor="end" font-size="10.2">DE</text>
<text class="xt" transform="translate(358.09,1064.6) rotate(-90)" text-anchor="end" font-size="10.2">HBA</text>
<text class="xt" transform="translate(369.15,1064.6) rotate(-90)" text-anchor="end" font-size="10.2">MPA</text>
<text class="xt" transform="translate(380.21,1064.6) rotate(-90)" text-anchor="end" font-size="10.2">TSA</text>
<text class="xt" transform="translate(391.27,1064.6) rotate(-90)" text-anchor="end" font-size="10.2">WOA</text>
<text class="xt" transform="translate(402.33,1064.6) rotate(-90)" text-anchor="end" font-size="10.2">MVO</text>
<text class="xt" transform="translate(413.4,1064.6) rotate(-90)" text-anchor="end" font-size="10.2">GWO</text>
<text class="xt" transform="translate(424.46,1064.6) rotate(-90)" text-anchor="end" font-size="10.2">TLBO</text>
<text class="xt" transform="translate(435.52,1064.6) rotate(-90)" text-anchor="end" font-size="10.2">GSA</text>
<text class="xt" transform="translate(446.58,1064.6) rotate(-90)" text-anchor="end" font-size="10.2">PSO</text>
<text class="xt" transform="translate(457.64,1064.6) rotate(-90)" text-anchor="end" font-size="10.2">GA</text>
<text class="ti" x="387.4" y="949.1" text-anchor="middle" font-size="11" font-weight="bold" fill="#111">F22</text>
<text class="yl" transform="translate(295.4,1007.5) rotate(-90)" text-anchor="middle" font-size="11.4" textLength="80.5" lengthAdjust="spacingAndGlyphs">objective function</text>
<text class="al" x="387.4" y="1103.3" text-anchor="middle" font-size="11.2">algorithm</text>
<text class="sl" x="372.8" y="1121.5" text-anchor="middle" font-size="17">(V)</text>
<clipPath id="c21"><rect x="545.6" y="952.4" width="144.1" height="110.2"/></clipPath>
<g class="dat" clip-path="url(#c21)">
<line x1="548.14" y1="1035.14" x2="554.15" y2="1035.14" stroke="#ff1a1a" stroke-width="1.1"/>
<rect x="559.62" y="972.98" width="5.21" height="62.16" stroke="#1a1aff" stroke-width="1.5" fill="none"/>
<line x1="559.62" y1="1035.14" x2="564.83" y2="1035.14" stroke="#ff1a1a" stroke-width="1.1"/>
<path d="M568.31 993.14H578.31M573.31 988.14V998.14" stroke="#ff1a1a" stroke-width="0.95" fill="none"/>
<path d="M568.31 1032.62H578.31M573.31 1027.62V1037.62" stroke="#ff1a1a" stroke-width="0.95" fill="none"/>
<path d="M568.31 1035.98H578.31M573.31 1030.98V1040.98" stroke="#ff1a1a" stroke-width="0.95" fill="none"/>
<line x1="570.31" y1="1035.14" x2="576.32" y2="1035.14" stroke="#ff1a1a" stroke-width="1.1"/>
<path d="M579.4 957.86H589.4M584.4 952.86V962.86" stroke="#ff1a1a" stroke-width="0.95" fill="none"/>
<path d="M579.4 972.98H589.4M584.4 967.98V977.98" stroke="#ff1a1a" stroke-width="0.95" fill="none"/>
<path d="M579.4 1035.14H589.4M584.4 1030.14V1040.14" stroke="#ff1a1a" stroke-width="0.95" fill="none"/>
<path d="M590.48 1035.14H600.48M595.48 1030.14V1040.14" stroke="#ff1a1a" stroke-width="0.95" fill="none"/>
<line x1="592.48" y1="1035.14" x2="598.49" y2="1035.14" stroke="#ff1a1a" stroke-width="1.1"/>
<line x1="606.57" y1="979.7" x2="606.57" y2="972.98" stroke="#111" stroke-width="1.1" stroke-dasharray="3.4 2.4"/>
<line x1="605.37" y1="972.98" x2="607.77" y2="972.98" stroke="#111" stroke-width="1.1"/>
<rect x="603.96" y="979.7" width="5.21" height="54.6" stroke="#1a1aff" stroke-width="1.4" fill="none"/>
<line x1="603.96" y1="991.46" x2="609.17" y2="991.46" stroke="#ff1a1a" stroke-width="1.1"/>
<line x1="617.65" y1="993.14" x2="617.65" y2="972.98" stroke="#111" stroke-width="1.1" stroke-dasharray="3.4 2.4"/>
<line x1="616.45" y1="972.98" x2="618.85" y2="972.98" stroke="#111" stroke-width="1.1"/>
<rect x="615.05" y="993.14" width="5.21" height="42" stroke="#1a1aff" stroke-width="1.4" fill="none"/>
<line x1="615.05" y1="1035.14" x2="620.25" y2="1035.14" stroke="#ff1a1a" stroke-width="1.1"/>
<rect x="626.13" y="993.14" width="5.21" height="42" stroke="#1a1aff" stroke-width="1.1" fill="none"/>
<line x1="626.13" y1="1035.14" x2="631.34" y2="1035.14" stroke="#ff1a1a" stroke-width="1.1"/>
<path d="M634.82 993.14H644.82M639.82 988.14V998.14" stroke="#ff1a1a" stroke-width="0.95" fill="none"/>
<line x1="636.81" y1="1035.14" x2="642.82" y2="1035.14" stroke="#ff1a1a" stroke-width="1.1"/>
<line x1="650.9" y1="986.42" x2="650.9" y2="983.9" stroke="#111" stroke-width="1.1" stroke-dasharray="3.4 2.4"/>
<line x1="649.7" y1="983.9" x2="652.1" y2="983.9" stroke="#111" stroke-width="1.1"/>
<line x1="650.9" y1="1015.82" x2="650.9" y2="1034.3" stroke="#111" stroke-width="1.1" stroke-dasharray="3.4 2.4"/>
<line x1="649.7" y1="1034.3" x2="652.1" y2="1034.3" stroke="#111" stroke-width="1.1"/>
<rect x="648.3" y="986.42" width="5.21" height="29.4" stroke="#1a1aff" stroke-width="1.4" fill="none"/>
<line x1="648.3" y1="1006.58" x2="653.51" y2="1006.58" stroke="#ff1a1a" stroke-width="1.1"/>
<rect x="659.38" y="972.98" width="5.21" height="62.16" stroke="#1a1aff" stroke-width="1.5" fill="none"/>
<line x1="659.38" y1="1016.66" x2="664.59" y2="1016.66" stroke="#ff1a1a" stroke-width="1.1"/>
<line x1="673.07" y1="1014.14" x2="673.07" y2="1035.14" stroke="#111" stroke-width="1.1" stroke-dasharray="3.4 2.4"/>
<line x1="671.87" y1="1035.14" x2="674.27" y2="1035.14" stroke="#111" stroke-width="1.1"/>
<rect x="670.47" y="972.98" width="5.21" height="41.16" stroke="#1a1aff" stroke-width="1.4" fill="none"/>
<line x1="670.47" y1="993.14" x2="675.68" y2="993.14" stroke="#ff1a1a" stroke-width="1.1"/>
<line x1="684.16" y1="972.98" x2="684.16" y2="971.3" stroke="#111" stroke-width="1.1" stroke-dasharray="3.4 2.4"/>
<line x1="682.96" y1="971.3" x2="685.36" y2="971.3" stroke="#111" stroke-width="1.1"/>
<line x1="684.16" y1="1020.86" x2="684.16" y2="1034.3" stroke="#111" stroke-width="1.1" stroke-dasharray="3.4 2.4"/>
<line x1="682.96" y1="1034.3" x2="685.36" y2="1034.3" stroke="#111" stroke-width="1.1"/>
<rect x="681.55" y="972.98" width="5.21" height="47.88" stroke="#1a1aff" stroke-width="1.5" fill="none"/>
<line x1="681.55" y1="997.34" x2="686.76" y2="997.34" stroke="#ff1a1a" stroke-width="1.1"/>
</g>
<rect class="ax" x="545.6" y="952.4" width="144.1" height="110.2" fill="none" stroke="#2a2a2a" stroke-width="1.15"/>
<path class="ax" d="M551.14 1062.6v-1.6M551.14 952.4v1.6M562.23 1062.6v-1.6M562.23 952.4v1.6M573.31 1062.6v-1.6M573.31 952.4v1.6M584.4 1062.6v-1.6M584.4 952.4v1.6M595.48 1062.6v-1.6M595.48 952.4v1.6M606.57 1062.6v-1.6M606.57 952.4v1.6M617.65 1062.6v-1.6M617.65 952.4v1.6M628.73 1062.6v-1.6M628.73 952.4v1.6M639.82 1062.6v-1.6M639.82 952.4v1.6M650.9 1062.6v-1.6M650.9 952.4v1.6M661.99 1062.6v-1.6M661.99 952.4v1.6M673.07 1062.6v-1.6M673.07 952.4v1.6M684.16 1062.6v-1.6M684.16 952.4v1.6M545.6 967.1h1.6M689.7 967.1h-1.6M545.6 983.9h1.6M689.7 983.9h-1.6M545.6 1000.7h1.6M689.7 1000.7h-1.6M545.6 1017.5h1.6M689.7 1017.5h-1.6M545.6 1034.3h1.6M689.7 1034.3h-1.6M545.6 1051.1h1.6M689.7 1051.1h-1.6" stroke="#2a2a2a" stroke-width="0.9"/>
<text class="yt" x="543" y="970.8" text-anchor="end" font-size="9.6">-2</text>
<text class="yt" x="543" y="987.6" text-anchor="end" font-size="9.6">-4</text>
<text class="yt" x="543" y="1004.4" text-anchor="end" font-size="9.6">-6</text>
<text class="yt" x="543" y="1021.2" text-anchor="end" font-size="9.6">-8</text>
<text class="yt" x="543" y="1038" text-anchor="end" font-size="9.6">-10</text>
<text class="yt" x="543" y="1054.8" text-anchor="end" font-size="9.6">-12</text>
<text class="xt" transform="translate(555.01,1064.6) rotate(-90)" text-anchor="end" font-size="10.2">CBOA</text>
<text class="xt" transform="translate(566.1,1064.6) rotate(-90)" text-anchor="end" font-size="10.2">CMA</text>
<text class="xt" transform="translate(577.18,1064.6) rotate(-90)" text-anchor="end" font-size="10.2">DE</text>
<text class="xt" transform="translate(588.27,1064.6) rotate(-90)" text-anchor="end" font-size="10.2">HBA</text>
<text class="xt" transform="translate(599.35,1064.6) rotate(-90)" text-anchor="end" font-size="10.2">MPA</text>
<text class="xt" transform="translate(610.44,1064.6) rotate(-90)" text-anchor="end" font-size="10.2">TSA</text>
<text class="xt" transform="translate(621.52,1064.6) rotate(-90)" text-anchor="end" font-size="10.2">WOA</text>
<text class="xt" transform="translate(632.61,1064.6) rotate(-90)" text-anchor="end" font-size="10.2">MVO</text>
<text class="xt" transform="translate(643.69,1064.6) rotate(-90)" text-anchor="end" font-size="10.2">GWO</text>
<text class="xt" transform="translate(654.78,1064.6) rotate(-90)" text-anchor="end" font-size="10.2">TLBO</text>
<text class="xt" transform="translate(665.86,1064.6) rotate(-90)" text-anchor="end" font-size="10.2">GSA</text>
<text class="xt" transform="translate(676.95,1064.6) rotate(-90)" text-anchor="end" font-size="10.2">PSO</text>
<text class="xt" transform="translate(688.03,1064.6) rotate(-90)" text-anchor="end" font-size="10.2">GA</text>
<text class="ti" x="617.65" y="949.1" text-anchor="middle" font-size="11" font-weight="bold" fill="#111">F21</text>
<text class="yl" transform="translate(526.7,1007.5) rotate(-90)" text-anchor="middle" font-size="11.4" textLength="80.5" lengthAdjust="spacingAndGlyphs">objective function</text>
<text class="al" x="617.65" y="1103.3" text-anchor="middle" font-size="11.2">algorithm</text>
<text class="sl" x="613.1" y="1121.5" text-anchor="middle" font-size="17">(W)</text>
</svg></body></html>
